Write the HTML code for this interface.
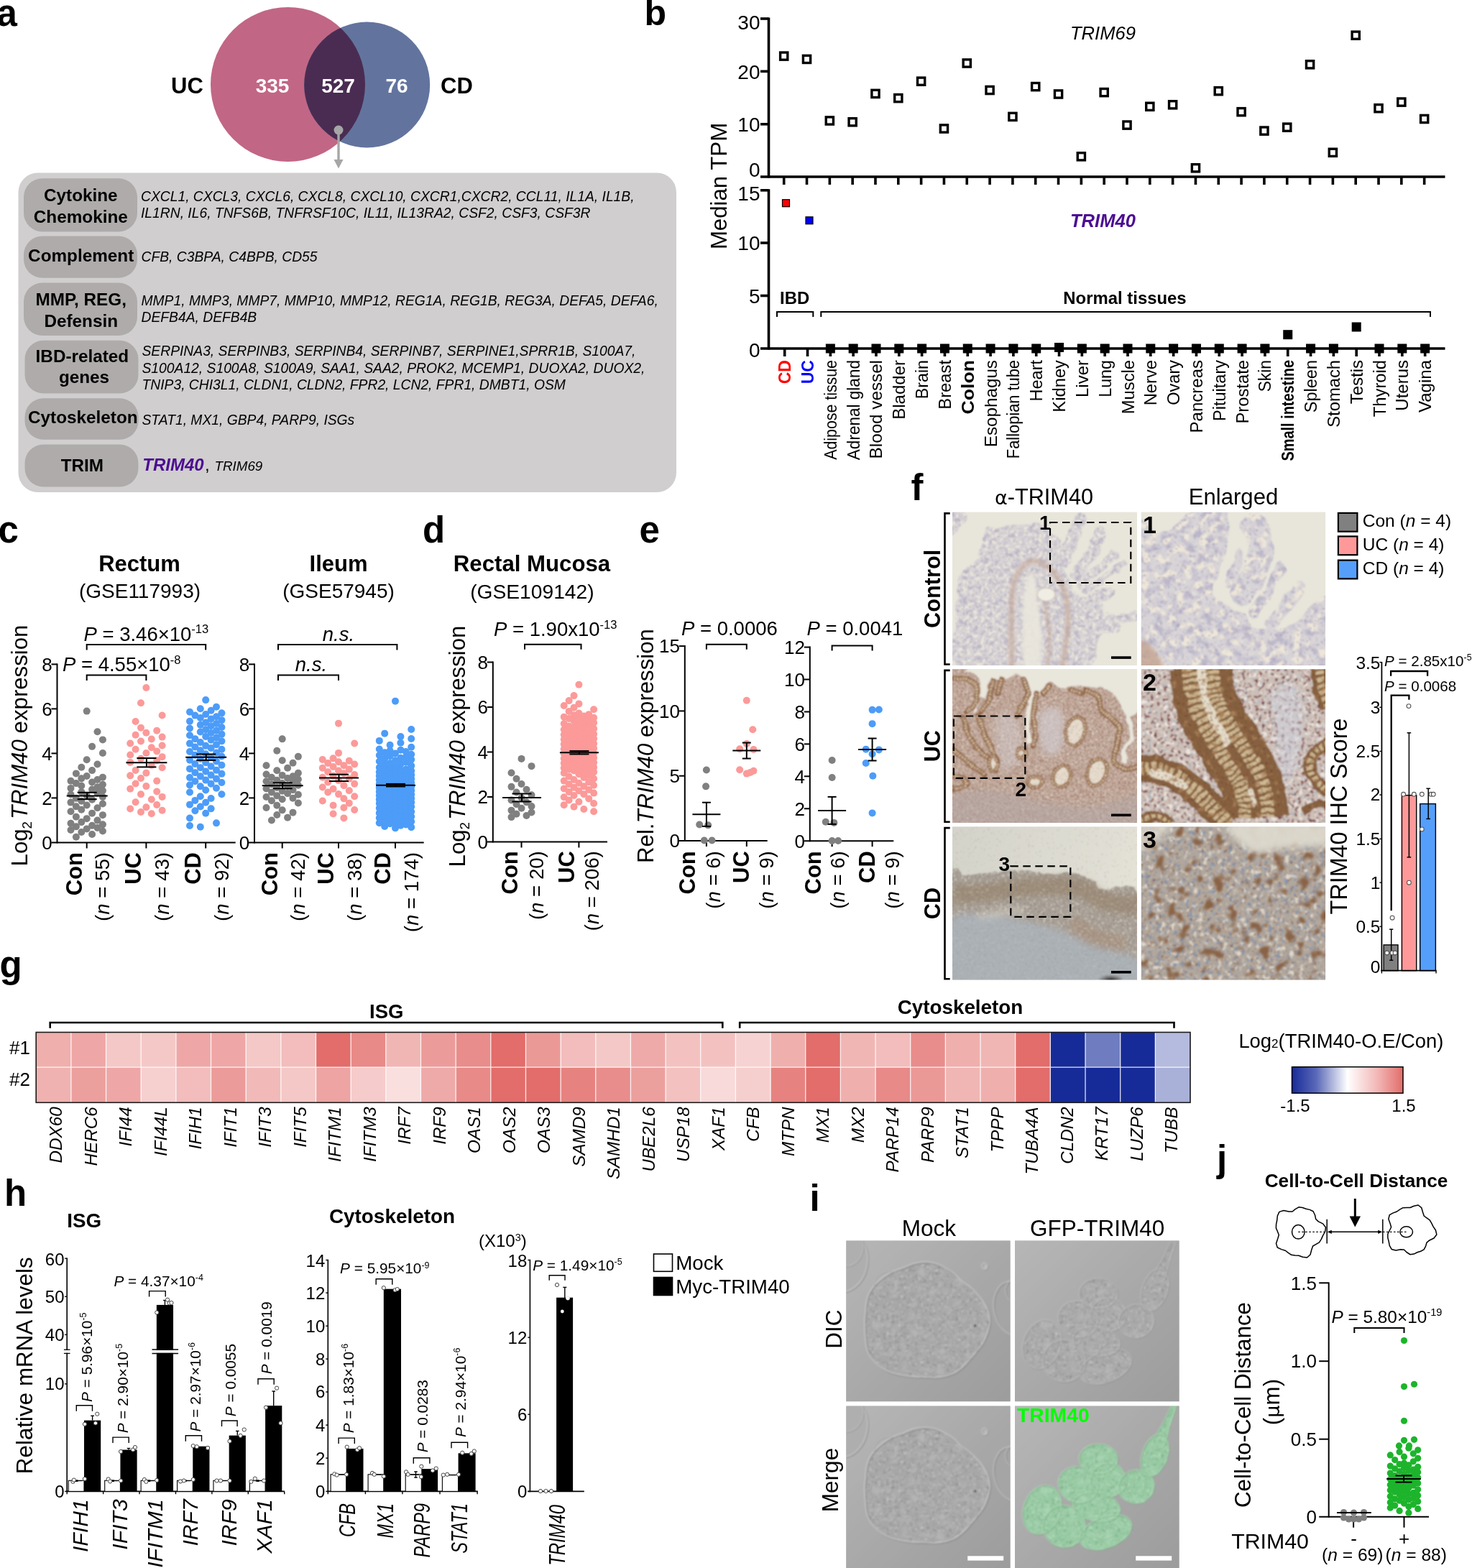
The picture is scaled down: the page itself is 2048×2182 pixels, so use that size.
<!DOCTYPE html>
<html lang="en">
<head>
<meta charset="utf-8">
<title>Figure</title>
<style>
html,body{margin:0;padding:0;background:#fff;}
body{width:2048px;height:2182px;overflow:hidden;}
svg{display:block;font-family:"Liberation Sans", Arial, Helvetica, sans-serif;fill:#000;}
svg text{white-space:pre;}
</style>
</head>
<body>
<svg width="2048" height="2182" viewBox="0 0 2048 2182">
<rect width="2048" height="2182" fill="#fff"/>
<g id="panel_a">
<text x="-4.5" y="36" font-size="51" font-weight="bold">a</text>
<circle cx="400.5" cy="117.5" r="107.5" fill="#c26685"/>
<circle cx="510.7" cy="118" r="87.5" fill="#62749e"/>
<clipPath id="vc"><circle cx="400.5" cy="117.5" r="107.5"/></clipPath>
<circle cx="510.7" cy="118" r="87.5" fill="#4a2c52" clip-path="url(#vc)"/>
<text x="238" y="130" font-size="31" font-weight="bold">UC</text>
<text x="613" y="130" font-size="31" font-weight="bold">CD</text>
<text x="379" y="128.5" font-size="28" text-anchor="middle" font-weight="bold" fill="#fff">335</text>
<text x="470.5" y="128.5" font-size="28" text-anchor="middle" font-weight="bold" fill="#fff">527</text>
<text x="552" y="128.5" font-size="28" text-anchor="middle" font-weight="bold" fill="#fff">76</text>
<circle cx="471" cy="181" r="6.5" fill="#a6a6a6" />
<line x1="471" y1="181" x2="471" y2="224" stroke="#a6a6a6" stroke-width="3.4" />
<path d="M464.5 222 L477.5 222 L471 234.5 Z" fill="#a6a6a6"/>
<rect x="25.5" y="240.5" width="915.5" height="444.5" fill="#d0cece" rx="27" />
<rect x="33" y="248.2" width="158" height="74.2" fill="#afabab" rx="26" />
<rect x="33" y="328.6" width="158" height="58.2" fill="#afabab" rx="26" />
<rect x="33" y="393.5" width="158" height="73.6" fill="#afabab" rx="26" />
<rect x="34.5" y="473.8" width="158" height="73.7" fill="#afabab" rx="26" />
<rect x="34.5" y="554.2" width="158" height="57.6" fill="#afabab" rx="26" />
<rect x="34.5" y="618.5" width="158" height="59" fill="#afabab" rx="26" />
<text x="112.3" y="280.1" font-size="24.3" text-anchor="middle" font-weight="bold">Cytokine</text>
<text x="112.3" y="309.8" font-size="24.3" text-anchor="middle" font-weight="bold">Chemokine</text>
<text x="112.7" y="364" font-size="24.3" text-anchor="middle" font-weight="bold">Complement</text>
<text x="112.7" y="424.8" font-size="24.3" text-anchor="middle" font-weight="bold">MMP, REG,</text>
<text x="112.7" y="454.5" font-size="24.3" text-anchor="middle" font-weight="bold">Defensin</text>
<text x="114.4" y="504.1" font-size="24.3" text-anchor="middle" font-weight="bold">IBD-related</text>
<text x="117" y="532.8" font-size="24.3" text-anchor="middle" font-weight="bold">genes</text>
<text x="115.3" y="589" font-size="24.3" text-anchor="middle" font-weight="bold">Cytoskeleton</text>
<text x="114.4" y="656" font-size="24.3" text-anchor="middle" font-weight="bold">TRIM</text>
<text x="196" y="280.1" font-size="19.3" font-style="italic">CXCL1, CXCL3, CXCL6, CXCL8, CXCL10, CXCR1,CXCR2, CCL11, IL1A, IL1B,</text>
<text x="196" y="302.9" font-size="19.3" font-style="italic">IL1RN, IL6, TNFS6B, TNFRSF10C, IL11, IL13RA2, CSF2, CSF3, CSF3R</text>
<text x="196.5" y="364" font-size="19.3" font-style="italic">CFB, C3BPA, C4BPB, CD55</text>
<text x="196.5" y="424.8" font-size="19.3" font-style="italic">MMP1, MMP3, MMP7, MMP10, MMP12, REG1A, REG1B, REG3A, DEFA5, DEFA6,</text>
<text x="196.5" y="447.8" font-size="19.3" font-style="italic">DEFB4A, DEFB4B</text>
<text x="197.5" y="495.3" font-size="19.3" font-style="italic">SERPINA3, SERPINB3, SERPINB4, SERPINB7, SERPINE1,SPRR1B, S100A7,</text>
<text x="197.5" y="518.9" font-size="19.3" font-style="italic">S100A12, S100A8, S100A9, SAA1, SAA2, PROK2, MCEMP1, DUOXA2, DUOX2,</text>
<text x="197.5" y="542.2" font-size="19.3" font-style="italic">TNIP3, CHI3L1, CLDN1, CLDN2, FPR2, LCN2, FPR1, DMBT1, OSM</text>
<text x="197.5" y="591.2" font-size="19.3" font-style="italic">STAT1, MX1, GBP4, PARP9, ISGs</text>
<text x="198.3" y="655.2" font-size="24" font-weight="bold" font-style="italic" fill="#4b0d92">TRIM40</text>
<text x="285" y="655.2" font-size="24">,</text>
<text x="298.5" y="655.2" font-size="18.8" font-style="italic">TRIM69</text>
</g>
<g id="panel_b">
<text x="896.5" y="35" font-size="50" font-weight="bold">b</text>
<line x1="1069.5" y1="24.5" x2="1069.5" y2="247.5" stroke="#000" stroke-width="3.6" />
<line x1="1058" y1="246" x2="2010.5" y2="246" stroke="#000" stroke-width="3.6" />
<line x1="1058" y1="26" x2="1069.5" y2="26" stroke="#000" stroke-width="3.6" />
<text x="1057.5" y="40.6" font-size="28" text-anchor="end">30</text>
<line x1="1058" y1="99.3" x2="1069.5" y2="99.3" stroke="#000" stroke-width="3.6" />
<text x="1057.5" y="109.6" font-size="28" text-anchor="end">20</text>
<line x1="1058" y1="172.8" x2="1069.5" y2="172.8" stroke="#000" stroke-width="3.6" />
<text x="1057.5" y="183.1" font-size="28" text-anchor="end">10</text>
<text x="1057.5" y="246" font-size="28" text-anchor="end">0</text>
<line x1="1090.7" y1="246" x2="1090.7" y2="257" stroke="#000" stroke-width="3.6" />
<line x1="1122.52" y1="246" x2="1122.52" y2="257" stroke="#000" stroke-width="3.6" />
<line x1="1154.34" y1="246" x2="1154.34" y2="257" stroke="#000" stroke-width="3.6" />
<line x1="1186.16" y1="246" x2="1186.16" y2="257" stroke="#000" stroke-width="3.6" />
<line x1="1217.98" y1="246" x2="1217.98" y2="257" stroke="#000" stroke-width="3.6" />
<line x1="1249.8" y1="246" x2="1249.8" y2="257" stroke="#000" stroke-width="3.6" />
<line x1="1281.62" y1="246" x2="1281.62" y2="257" stroke="#000" stroke-width="3.6" />
<line x1="1313.44" y1="246" x2="1313.44" y2="257" stroke="#000" stroke-width="3.6" />
<line x1="1345.26" y1="246" x2="1345.26" y2="257" stroke="#000" stroke-width="3.6" />
<line x1="1377.08" y1="246" x2="1377.08" y2="257" stroke="#000" stroke-width="3.6" />
<line x1="1408.9" y1="246" x2="1408.9" y2="257" stroke="#000" stroke-width="3.6" />
<line x1="1440.72" y1="246" x2="1440.72" y2="257" stroke="#000" stroke-width="3.6" />
<line x1="1472.54" y1="246" x2="1472.54" y2="257" stroke="#000" stroke-width="3.6" />
<line x1="1504.36" y1="246" x2="1504.36" y2="257" stroke="#000" stroke-width="3.6" />
<line x1="1536.18" y1="246" x2="1536.18" y2="257" stroke="#000" stroke-width="3.6" />
<line x1="1568" y1="246" x2="1568" y2="257" stroke="#000" stroke-width="3.6" />
<line x1="1599.82" y1="246" x2="1599.82" y2="257" stroke="#000" stroke-width="3.6" />
<line x1="1631.64" y1="246" x2="1631.64" y2="257" stroke="#000" stroke-width="3.6" />
<line x1="1663.46" y1="246" x2="1663.46" y2="257" stroke="#000" stroke-width="3.6" />
<line x1="1695.28" y1="246" x2="1695.28" y2="257" stroke="#000" stroke-width="3.6" />
<line x1="1727.1" y1="246" x2="1727.1" y2="257" stroke="#000" stroke-width="3.6" />
<line x1="1758.92" y1="246" x2="1758.92" y2="257" stroke="#000" stroke-width="3.6" />
<line x1="1790.74" y1="246" x2="1790.74" y2="257" stroke="#000" stroke-width="3.6" />
<line x1="1822.56" y1="246" x2="1822.56" y2="257" stroke="#000" stroke-width="3.6" />
<line x1="1854.38" y1="246" x2="1854.38" y2="257" stroke="#000" stroke-width="3.6" />
<line x1="1886.2" y1="246" x2="1886.2" y2="257" stroke="#000" stroke-width="3.6" />
<line x1="1918.02" y1="246" x2="1918.02" y2="257" stroke="#000" stroke-width="3.6" />
<line x1="1949.84" y1="246" x2="1949.84" y2="257" stroke="#000" stroke-width="3.6" />
<line x1="1981.66" y1="246" x2="1981.66" y2="257" stroke="#000" stroke-width="3.6" />
<rect x="1085.6" y="73" width="10.2" height="10.2" fill="#fff" stroke="#000" stroke-width="3.4" />
<rect x="1117.42" y="77.3" width="10.2" height="10.2" fill="#fff" stroke="#000" stroke-width="3.4" />
<rect x="1149.24" y="162.9" width="10.2" height="10.2" fill="#fff" stroke="#000" stroke-width="3.4" />
<rect x="1181.06" y="164.7" width="10.2" height="10.2" fill="#fff" stroke="#000" stroke-width="3.4" />
<rect x="1212.88" y="125.3" width="10.2" height="10.2" fill="#fff" stroke="#000" stroke-width="3.4" />
<rect x="1244.7" y="131.5" width="10.2" height="10.2" fill="#fff" stroke="#000" stroke-width="3.4" />
<rect x="1276.52" y="108.1" width="10.2" height="10.2" fill="#fff" stroke="#000" stroke-width="3.4" />
<rect x="1308.34" y="173.9" width="10.2" height="10.2" fill="#fff" stroke="#000" stroke-width="3.4" />
<rect x="1340.16" y="82.9" width="10.2" height="10.2" fill="#fff" stroke="#000" stroke-width="3.4" />
<rect x="1371.98" y="120.4" width="10.2" height="10.2" fill="#fff" stroke="#000" stroke-width="3.4" />
<rect x="1403.8" y="157.3" width="10.2" height="10.2" fill="#fff" stroke="#000" stroke-width="3.4" />
<rect x="1435.62" y="115.5" width="10.2" height="10.2" fill="#fff" stroke="#000" stroke-width="3.4" />
<rect x="1467.44" y="125.9" width="10.2" height="10.2" fill="#fff" stroke="#000" stroke-width="3.4" />
<rect x="1499.26" y="212.7" width="10.2" height="10.2" fill="#fff" stroke="#000" stroke-width="3.4" />
<rect x="1531.08" y="123.5" width="10.2" height="10.2" fill="#fff" stroke="#000" stroke-width="3.4" />
<rect x="1562.9" y="169" width="10.2" height="10.2" fill="#fff" stroke="#000" stroke-width="3.4" />
<rect x="1594.72" y="143.2" width="10.2" height="10.2" fill="#fff" stroke="#000" stroke-width="3.4" />
<rect x="1626.54" y="140.7" width="10.2" height="10.2" fill="#fff" stroke="#000" stroke-width="3.4" />
<rect x="1658.36" y="228.7" width="10.2" height="10.2" fill="#fff" stroke="#000" stroke-width="3.4" />
<rect x="1690.18" y="121.6" width="10.2" height="10.2" fill="#fff" stroke="#000" stroke-width="3.4" />
<rect x="1722" y="150.6" width="10.2" height="10.2" fill="#fff" stroke="#000" stroke-width="3.4" />
<rect x="1753.82" y="177" width="10.2" height="10.2" fill="#fff" stroke="#000" stroke-width="3.4" />
<rect x="1785.64" y="172.1" width="10.2" height="10.2" fill="#fff" stroke="#000" stroke-width="3.4" />
<rect x="1817.46" y="84.7" width="10.2" height="10.2" fill="#fff" stroke="#000" stroke-width="3.4" />
<rect x="1849.28" y="207.2" width="10.2" height="10.2" fill="#fff" stroke="#000" stroke-width="3.4" />
<rect x="1881.1" y="44.1" width="10.2" height="10.2" fill="#fff" stroke="#000" stroke-width="3.4" />
<rect x="1912.92" y="145.6" width="10.2" height="10.2" fill="#fff" stroke="#000" stroke-width="3.4" />
<rect x="1944.74" y="137" width="10.2" height="10.2" fill="#fff" stroke="#000" stroke-width="3.4" />
<rect x="1976.56" y="160.4" width="10.2" height="10.2" fill="#fff" stroke="#000" stroke-width="3.4" />
<text x="1534.5" y="54.8" font-size="25.6" text-anchor="middle" font-style="italic">TRIM69</text>
<line x1="1069.5" y1="263.3" x2="1069.5" y2="486.5" stroke="#000" stroke-width="3.6" />
<line x1="1058" y1="485" x2="2010.5" y2="485" stroke="#000" stroke-width="3.6" />
<line x1="1058" y1="264.8" x2="1069.5" y2="264.8" stroke="#000" stroke-width="3.6" />
<text x="1057.5" y="279.4" font-size="28" text-anchor="end">15</text>
<line x1="1058" y1="338" x2="1069.5" y2="338" stroke="#000" stroke-width="3.6" />
<text x="1057.5" y="348.3" font-size="28" text-anchor="end">10</text>
<line x1="1058" y1="411.5" x2="1069.5" y2="411.5" stroke="#000" stroke-width="3.6" />
<text x="1057.5" y="421.8" font-size="28" text-anchor="end">5</text>
<text x="1057.5" y="496.5" font-size="28" text-anchor="end">0</text>
<line x1="1091.7" y1="485" x2="1091.7" y2="496" stroke="#000" stroke-width="3.6" />
<line x1="1123.52" y1="485" x2="1123.52" y2="496" stroke="#000" stroke-width="3.6" />
<line x1="1155.34" y1="485" x2="1155.34" y2="496" stroke="#000" stroke-width="3.6" />
<line x1="1187.16" y1="485" x2="1187.16" y2="496" stroke="#000" stroke-width="3.6" />
<line x1="1218.98" y1="485" x2="1218.98" y2="496" stroke="#000" stroke-width="3.6" />
<line x1="1250.8" y1="485" x2="1250.8" y2="496" stroke="#000" stroke-width="3.6" />
<line x1="1282.62" y1="485" x2="1282.62" y2="496" stroke="#000" stroke-width="3.6" />
<line x1="1314.44" y1="485" x2="1314.44" y2="496" stroke="#000" stroke-width="3.6" />
<line x1="1346.26" y1="485" x2="1346.26" y2="496" stroke="#000" stroke-width="3.6" />
<line x1="1378.08" y1="485" x2="1378.08" y2="496" stroke="#000" stroke-width="3.6" />
<line x1="1409.9" y1="485" x2="1409.9" y2="496" stroke="#000" stroke-width="3.6" />
<line x1="1441.72" y1="485" x2="1441.72" y2="496" stroke="#000" stroke-width="3.6" />
<line x1="1473.54" y1="485" x2="1473.54" y2="496" stroke="#000" stroke-width="3.6" />
<line x1="1505.36" y1="485" x2="1505.36" y2="496" stroke="#000" stroke-width="3.6" />
<line x1="1537.18" y1="485" x2="1537.18" y2="496" stroke="#000" stroke-width="3.6" />
<line x1="1569" y1="485" x2="1569" y2="496" stroke="#000" stroke-width="3.6" />
<line x1="1600.82" y1="485" x2="1600.82" y2="496" stroke="#000" stroke-width="3.6" />
<line x1="1632.64" y1="485" x2="1632.64" y2="496" stroke="#000" stroke-width="3.6" />
<line x1="1664.46" y1="485" x2="1664.46" y2="496" stroke="#000" stroke-width="3.6" />
<line x1="1696.28" y1="485" x2="1696.28" y2="496" stroke="#000" stroke-width="3.6" />
<line x1="1728.1" y1="485" x2="1728.1" y2="496" stroke="#000" stroke-width="3.6" />
<line x1="1759.92" y1="485" x2="1759.92" y2="496" stroke="#000" stroke-width="3.6" />
<line x1="1791.74" y1="485" x2="1791.74" y2="496" stroke="#000" stroke-width="3.6" />
<line x1="1823.56" y1="485" x2="1823.56" y2="496" stroke="#000" stroke-width="3.6" />
<line x1="1855.38" y1="485" x2="1855.38" y2="496" stroke="#000" stroke-width="3.6" />
<line x1="1887.2" y1="485" x2="1887.2" y2="496" stroke="#000" stroke-width="3.6" />
<line x1="1919.02" y1="485" x2="1919.02" y2="496" stroke="#000" stroke-width="3.6" />
<line x1="1950.84" y1="485" x2="1950.84" y2="496" stroke="#000" stroke-width="3.6" />
<line x1="1982.66" y1="485" x2="1982.66" y2="496" stroke="#000" stroke-width="3.6" />
<rect x="1088.5" y="277.7" width="10" height="10" fill="#ff0000" stroke="#000" stroke-width="1.2" />
<rect x="1121" y="301.8" width="10" height="10" fill="#0000ff" stroke="#000" stroke-width="1.2" />
<rect x="1148.84" y="478.5" width="13" height="13" fill="#000" />
<rect x="1180.66" y="478.5" width="13" height="13" fill="#000" />
<rect x="1212.48" y="478.5" width="13" height="13" fill="#000" />
<rect x="1244.3" y="478.5" width="13" height="13" fill="#000" />
<rect x="1276.12" y="478.5" width="13" height="13" fill="#000" />
<rect x="1307.94" y="478.5" width="13" height="13" fill="#000" />
<rect x="1339.76" y="478.5" width="13" height="13" fill="#000" />
<rect x="1371.58" y="478.5" width="13" height="13" fill="#000" />
<rect x="1403.4" y="478.5" width="13" height="13" fill="#000" />
<rect x="1435.22" y="478.5" width="13" height="13" fill="#000" />
<rect x="1467.04" y="477" width="13" height="13" fill="#000" />
<rect x="1498.86" y="478.5" width="13" height="13" fill="#000" />
<rect x="1530.68" y="478.5" width="13" height="13" fill="#000" />
<rect x="1562.5" y="478.5" width="13" height="13" fill="#000" />
<rect x="1594.32" y="478.5" width="13" height="13" fill="#000" />
<rect x="1626.14" y="478.5" width="13" height="13" fill="#000" />
<rect x="1657.96" y="478.5" width="13" height="13" fill="#000" />
<rect x="1689.78" y="478.5" width="13" height="13" fill="#000" />
<rect x="1721.6" y="478.5" width="13" height="13" fill="#000" />
<rect x="1753.42" y="478.5" width="13" height="13" fill="#000" />
<rect x="1785.24" y="459.2" width="13" height="13" fill="#000" />
<rect x="1817.06" y="478.5" width="13" height="13" fill="#000" />
<rect x="1848.88" y="478.5" width="13" height="13" fill="#000" />
<rect x="1880.7" y="448.5" width="13" height="13" fill="#000" />
<rect x="1912.52" y="478.5" width="13" height="13" fill="#000" />
<rect x="1944.34" y="478.5" width="13" height="13" fill="#000" />
<rect x="1976.16" y="478.5" width="13" height="13" fill="#000" />
<text x="1534.5" y="315.7" font-size="25.6" text-anchor="middle" font-weight="bold" font-style="italic" fill="#4b0d92">TRIM40</text>
<text x="1085" y="423" font-size="23.9" font-weight="bold">IBD</text>
<text x="1565" y="423" font-size="23.9" text-anchor="middle" font-weight="bold">Normal tissues</text>
<path d="M1081 441 V434 H1131.3 V441" stroke="#000" stroke-width="2" fill="none" />
<path d="M1142.3 441 V434 H1990 V441" stroke="#000" stroke-width="2" fill="none" />
<text transform="translate(1011 259) rotate(-90)" font-size="31.2" text-anchor="middle">Median TPM</text>
<text transform="translate(1100.2 501) rotate(-90) scale(0.96 1)" font-size="24" text-anchor="end" font-weight="bold" fill="#ff0000">CD</text>
<text transform="translate(1132.02 501) rotate(-90) scale(0.96 1)" font-size="24" text-anchor="end" font-weight="bold" fill="#0000ff">UC</text>
<text transform="translate(1163.84 501) rotate(-90) scale(0.89 1)" font-size="24" text-anchor="end">Adipose tissue</text>
<text transform="translate(1195.66 501) rotate(-90) scale(0.94 1)" font-size="24" text-anchor="end">Adrenal gland</text>
<text transform="translate(1227.48 501) rotate(-90) scale(1.01 1)" font-size="24" text-anchor="end">Blood vessel</text>
<text transform="translate(1259.3 501) rotate(-90) scale(1 1)" font-size="24" text-anchor="end">Bladder</text>
<text transform="translate(1291.12 501) rotate(-90) scale(0.97 1)" font-size="24" text-anchor="end">Brain</text>
<text transform="translate(1322.94 501) rotate(-90) scale(0.99 1)" font-size="24" text-anchor="end">Breast</text>
<text transform="translate(1354.76 501) rotate(-90) scale(1.11 1)" font-size="24" text-anchor="end" font-weight="bold">Colon</text>
<text transform="translate(1386.58 501) rotate(-90) scale(1.01 1)" font-size="24" text-anchor="end">Esophagus</text>
<text transform="translate(1418.4 501) rotate(-90) scale(0.91 1)" font-size="24" text-anchor="end">Fallopian tube</text>
<text transform="translate(1450.22 501) rotate(-90) scale(0.98 1)" font-size="24" text-anchor="end">Heart</text>
<text transform="translate(1482.04 501) rotate(-90) scale(0.99 1)" font-size="24" text-anchor="end">Kidney</text>
<text transform="translate(1513.86 501) rotate(-90) scale(1 1)" font-size="24" text-anchor="end">Liver</text>
<text transform="translate(1545.68 501) rotate(-90) scale(0.97 1)" font-size="24" text-anchor="end">Lung</text>
<text transform="translate(1577.5 501) rotate(-90) scale(0.99 1)" font-size="24" text-anchor="end">Muscle</text>
<text transform="translate(1609.32 501) rotate(-90) scale(0.99 1)" font-size="24" text-anchor="end">Nerve</text>
<text transform="translate(1641.14 501) rotate(-90) scale(0.98 1)" font-size="24" text-anchor="end">Ovary</text>
<text transform="translate(1672.96 501) rotate(-90) scale(1 1)" font-size="24" text-anchor="end">Pancreas</text>
<text transform="translate(1704.78 501) rotate(-90) scale(0.98 1)" font-size="24" text-anchor="end">Pituitary</text>
<text transform="translate(1736.6 501) rotate(-90) scale(0.99 1)" font-size="24" text-anchor="end">Prostate</text>
<text transform="translate(1768.42 501) rotate(-90) scale(0.95 1)" font-size="24" text-anchor="end">Skin</text>
<text transform="translate(1800.24 501) rotate(-90) scale(0.83 1)" font-size="24" text-anchor="end" font-weight="bold">Small intestine</text>
<text transform="translate(1832.06 501) rotate(-90) scale(0.98 1)" font-size="24" text-anchor="end">Spleen</text>
<text transform="translate(1863.88 501) rotate(-90) scale(0.99 1)" font-size="24" text-anchor="end">Stomach</text>
<text transform="translate(1895.7 501) rotate(-90) scale(1 1)" font-size="24" text-anchor="end">Testis</text>
<text transform="translate(1927.52 501) rotate(-90) scale(0.99 1)" font-size="24" text-anchor="end">Thyroid</text>
<text transform="translate(1959.34 501) rotate(-90) scale(1 1)" font-size="24" text-anchor="end">Uterus</text>
<text transform="translate(1991.16 501) rotate(-90) scale(1 1)" font-size="24" text-anchor="end">Vagina</text>
</g>
<g id="panel_c">
<text x="-2.5" y="754.5" font-size="51" font-weight="bold">c</text>
<text x="194" y="795" font-size="31" text-anchor="middle" font-weight="bold">Rectum</text>
<text x="194.5" y="832" font-size="28" text-anchor="middle">(GSE117993)</text>
<text x="471" y="795" font-size="31" text-anchor="middle" font-weight="bold">Ileum</text>
<text x="471" y="832" font-size="28" text-anchor="middle">(GSE57945)</text>
<text transform="translate(37.5 1037.5) rotate(-90)" font-size="31.2" text-anchor="middle">Log<tspan font-size="18.72" dy="6.24">2</tspan><tspan dy="-6.24" font-size="31.2">&#8203;</tspan><tspan font-style="italic" dx="3">TRIM40</tspan> expression</text>
<line x1="79.5" y1="923.4" x2="79.5" y2="1173.5" stroke="#000" stroke-width="2" /><line x1="71.5" y1="924.4" x2="79.5" y2="924.4" stroke="#000" stroke-width="2" /><text x="72.7" y="933.76" font-size="26" text-anchor="end">8</text><line x1="71.5" y1="986.4" x2="79.5" y2="986.4" stroke="#000" stroke-width="2" /><text x="72.7" y="995.76" font-size="26" text-anchor="end">6</text><line x1="71.5" y1="1048.4" x2="79.5" y2="1048.4" stroke="#000" stroke-width="2" /><text x="72.7" y="1057.76" font-size="26" text-anchor="end">4</text><line x1="71.5" y1="1110.4" x2="79.5" y2="1110.4" stroke="#000" stroke-width="2" /><text x="72.7" y="1119.76" font-size="26" text-anchor="end">2</text><text x="72.7" y="1181.86" font-size="26" text-anchor="end">0</text><line x1="71.5" y1="1172.5" x2="327.7" y2="1172.5" stroke="#000" stroke-width="2" />
<line x1="120.7" y1="1172.5" x2="120.7" y2="1180.5" stroke="#000" stroke-width="2" />
<line x1="203.4" y1="1172.5" x2="203.4" y2="1180.5" stroke="#000" stroke-width="2" />
<line x1="286.2" y1="1172.5" x2="286.2" y2="1180.5" stroke="#000" stroke-width="2" />
<g fill="#808080"><circle cx="105.9" cy="1164.75" r="5"/><circle cx="128.1" cy="1160.92" r="5"/><circle cx="113.3" cy="1157.97" r="5"/><circle cx="142.9" cy="1156.45" r="5"/><circle cx="98.5" cy="1154.93" r="5"/><circle cx="120.7" cy="1153.41" r="5"/><circle cx="135.5" cy="1151.89" r="5"/><circle cx="105.9" cy="1150.37" r="5"/><circle cx="128.1" cy="1148.85" r="5"/><circle cx="142.9" cy="1147.34" r="5"/><circle cx="98.5" cy="1145.82" r="5"/><circle cx="113.3" cy="1144.1" r="5"/><circle cx="135.5" cy="1141.61" r="5"/><circle cx="120.7" cy="1139.13" r="5"/><circle cx="105.9" cy="1136.64" r="5"/><circle cx="142.9" cy="1134.15" r="5"/><circle cx="128.1" cy="1131.66" r="5"/><circle cx="98.5" cy="1129.18" r="5"/><circle cx="113.3" cy="1126.69" r="5"/><circle cx="135.5" cy="1124.26" r="5"/><circle cx="105.9" cy="1122.35" r="5"/><circle cx="120.7" cy="1120.43" r="5"/><circle cx="142.9" cy="1118.52" r="5"/><circle cx="98.5" cy="1116.6" r="5"/><circle cx="113.3" cy="1114.69" r="5"/><circle cx="128.1" cy="1112.78" r="5"/><circle cx="105.9" cy="1110.86" r="5"/><circle cx="142.9" cy="1108.95" r="5"/><circle cx="120.7" cy="1107.23" r="5"/><circle cx="98.5" cy="1105.51" r="5"/><circle cx="135.5" cy="1103.78" r="5"/><circle cx="113.3" cy="1102.06" r="5"/><circle cx="142.9" cy="1100.34" r="5"/><circle cx="128.1" cy="1098.62" r="5"/><circle cx="98.5" cy="1096.89" r="5"/><circle cx="135.5" cy="1095.17" r="5"/><circle cx="113.3" cy="1093.48" r="5"/><circle cx="142.9" cy="1091.79" r="5"/><circle cx="105.9" cy="1090.1" r="5"/><circle cx="128.1" cy="1088.42" r="5"/><circle cx="98.5" cy="1086.73" r="5"/><circle cx="135.5" cy="1085.04" r="5"/><circle cx="113.3" cy="1083.35" r="5"/><circle cx="142.9" cy="1081.66" r="5"/><circle cx="120.7" cy="1079.97" r="5"/><circle cx="105.9" cy="1076.4" r="5"/><circle cx="128.1" cy="1072.09" r="5"/><circle cx="113.3" cy="1067.79" r="5"/><circle cx="135.5" cy="1063.48" r="5"/><circle cx="120.7" cy="1057.23" r="5"/><circle cx="142.9" cy="1048.04" r="5"/><circle cx="128.1" cy="1038.86" r="5"/><circle cx="142.9" cy="1029.4" r="5"/><circle cx="135.5" cy="1018.3" r="5"/><circle cx="120.7" cy="989.6" r="5"/></g>
<g fill="#fb9a99"><circle cx="210.8" cy="1132.2" r="5"/><circle cx="196" cy="1129.99" r="5"/><circle cx="225.6" cy="1127.77" r="5"/><circle cx="181.2" cy="1125.56" r="5"/><circle cx="203.4" cy="1123.34" r="5"/><circle cx="218.2" cy="1119.95" r="5"/><circle cx="188.6" cy="1116.26" r="5"/><circle cx="210.8" cy="1112.57" r="5"/><circle cx="225.6" cy="1108.88" r="5"/><circle cx="196" cy="1105.19" r="5"/><circle cx="218.2" cy="1101.5" r="5"/><circle cx="181.2" cy="1097.8" r="5"/><circle cx="203.4" cy="1094.11" r="5"/><circle cx="188.6" cy="1090.42" r="5"/><circle cx="218.2" cy="1086.73" r="5"/><circle cx="196" cy="1083.04" r="5"/><circle cx="181.2" cy="1079.35" r="5"/><circle cx="203.4" cy="1075.66" r="5"/><circle cx="188.6" cy="1071.97" r="5"/><circle cx="225.6" cy="1068.28" r="5"/><circle cx="210.8" cy="1064.59" r="5"/><circle cx="181.2" cy="1060.9" r="5"/><circle cx="218.2" cy="1058.32" r="5"/><circle cx="196" cy="1055.73" r="5"/><circle cx="225.6" cy="1053.15" r="5"/><circle cx="181.2" cy="1050.57" r="5"/><circle cx="203.4" cy="1047.98" r="5"/><circle cx="218.2" cy="1045.4" r="5"/><circle cx="188.6" cy="1042.82" r="5"/><circle cx="210.8" cy="1040.23" r="5"/><circle cx="225.6" cy="1037.43" r="5"/><circle cx="181.2" cy="1034.48" r="5"/><circle cx="196" cy="1031.52" r="5"/><circle cx="210.8" cy="1028.57" r="5"/><circle cx="225.6" cy="1025.62" r="5"/><circle cx="188.6" cy="1022.67" r="5"/><circle cx="203.4" cy="1019.71" r="5"/><circle cx="218.2" cy="1016.76" r="5"/><circle cx="196" cy="1012.68" r="5"/><circle cx="188.6" cy="1004.07" r="5"/><circle cx="225.6" cy="995.46" r="5"/><circle cx="196" cy="978.27" r="5"/><circle cx="203.4" cy="957.05" r="5"/></g>
<g fill="#4c9cf8"><circle cx="278.8" cy="1150.8" r="5"/><circle cx="264" cy="1148.93" r="5"/><circle cx="301" cy="1145.37" r="5"/><circle cx="264" cy="1138.52" r="5"/><circle cx="286.2" cy="1131.68" r="5"/><circle cx="271.4" cy="1128.22" r="5"/><circle cx="293.6" cy="1125.35" r="5"/><circle cx="278.8" cy="1122.49" r="5"/><circle cx="264" cy="1119.63" r="5"/><circle cx="286.2" cy="1116.76" r="5"/><circle cx="271.4" cy="1113.9" r="5"/><circle cx="293.6" cy="1111.04" r="5"/><circle cx="278.8" cy="1108.17" r="5"/><circle cx="308.4" cy="1105.31" r="5"/><circle cx="264" cy="1102.44" r="5"/><circle cx="286.2" cy="1099.58" r="5"/><circle cx="301" cy="1096.72" r="5"/><circle cx="278.8" cy="1094.3" r="5"/><circle cx="264" cy="1092.56" r="5"/><circle cx="293.6" cy="1090.82" r="5"/><circle cx="308.4" cy="1089.07" r="5"/><circle cx="271.4" cy="1087.33" r="5"/><circle cx="286.2" cy="1085.59" r="5"/><circle cx="301" cy="1083.84" r="5"/><circle cx="264" cy="1082.1" r="5"/><circle cx="278.8" cy="1080.36" r="5"/><circle cx="293.6" cy="1078.62" r="5"/><circle cx="308.4" cy="1076.87" r="5"/><circle cx="271.4" cy="1075.13" r="5"/><circle cx="286.2" cy="1073.39" r="5"/><circle cx="301" cy="1071.64" r="5"/><circle cx="264" cy="1069.9" r="5"/><circle cx="278.8" cy="1068.16" r="5"/><circle cx="293.6" cy="1066.42" r="5"/><circle cx="308.4" cy="1064.67" r="5"/><circle cx="271.4" cy="1062.93" r="5"/><circle cx="286.2" cy="1061.19" r="5"/><circle cx="301" cy="1059.44" r="5"/><circle cx="264" cy="1057.7" r="5"/><circle cx="278.8" cy="1055.96" r="5"/><circle cx="293.6" cy="1054.21" r="5"/><circle cx="308.4" cy="1052.47" r="5"/><circle cx="271.4" cy="1050.79" r="5"/><circle cx="286.2" cy="1049.17" r="5"/><circle cx="301" cy="1047.55" r="5"/><circle cx="264" cy="1045.94" r="5"/><circle cx="278.8" cy="1044.32" r="5"/><circle cx="308.4" cy="1042.7" r="5"/><circle cx="293.6" cy="1041.08" r="5"/><circle cx="271.4" cy="1039.46" r="5"/><circle cx="286.2" cy="1037.84" r="5"/><circle cx="301" cy="1036.22" r="5"/><circle cx="264" cy="1034.61" r="5"/><circle cx="278.8" cy="1032.99" r="5"/><circle cx="308.4" cy="1031.37" r="5"/><circle cx="293.6" cy="1029.75" r="5"/><circle cx="271.4" cy="1028.13" r="5"/><circle cx="301" cy="1026.51" r="5"/><circle cx="286.2" cy="1024.9" r="5"/><circle cx="264" cy="1023.28" r="5"/><circle cx="308.4" cy="1021.66" r="5"/><circle cx="293.6" cy="1020.04" r="5"/><circle cx="278.8" cy="1018.42" r="5"/><circle cx="301" cy="1016.8" r="5"/><circle cx="286.2" cy="1015.18" r="5"/><circle cx="264" cy="1013.57" r="5"/><circle cx="308.4" cy="1011.95" r="5"/><circle cx="293.6" cy="1010.32" r="5"/><circle cx="278.8" cy="1008.69" r="5"/><circle cx="301" cy="1007.05" r="5"/><circle cx="286.2" cy="1005.42" r="5"/><circle cx="264" cy="1003.78" r="5"/><circle cx="308.4" cy="1002.15" r="5"/><circle cx="293.6" cy="1000.52" r="5"/><circle cx="278.8" cy="998.88" r="5"/><circle cx="301" cy="997.25" r="5"/><circle cx="271.4" cy="995.61" r="5"/><circle cx="286.2" cy="993.98" r="5"/><circle cx="308.4" cy="992.35" r="5"/><circle cx="264" cy="990.71" r="5"/><circle cx="293.6" cy="988.8" r="5"/><circle cx="278.8" cy="986.31" r="5"/><circle cx="301" cy="983.82" r="5"/><circle cx="286.2" cy="974.1" r="5"/></g>
<line x1="92.7" y1="1107.5" x2="149.7" y2="1107.5" stroke="#000" stroke-width="2" /><line x1="121.2" y1="1102.8" x2="121.2" y2="1112.2" stroke="#000" stroke-width="2" /><line x1="107.7" y1="1102.8" x2="134.7" y2="1102.8" stroke="#000" stroke-width="2" /><line x1="107.7" y1="1112.2" x2="134.7" y2="1112.2" stroke="#000" stroke-width="2" />
<line x1="175.4" y1="1061.2" x2="232.4" y2="1061.2" stroke="#000" stroke-width="2" /><line x1="203.9" y1="1055" x2="203.9" y2="1067.4" stroke="#000" stroke-width="2" /><line x1="190.4" y1="1055" x2="217.4" y2="1055" stroke="#000" stroke-width="2" /><line x1="190.4" y1="1067.4" x2="217.4" y2="1067.4" stroke="#000" stroke-width="2" />
<line x1="258.2" y1="1053.7" x2="315.2" y2="1053.7" stroke="#000" stroke-width="2" /><line x1="286.7" y1="1049.5" x2="286.7" y2="1057.9" stroke="#000" stroke-width="2" /><line x1="273.2" y1="1049.5" x2="300.2" y2="1049.5" stroke="#000" stroke-width="2" /><line x1="273.2" y1="1057.9" x2="300.2" y2="1057.9" stroke="#000" stroke-width="2" />
<path d="M120.7 904.5 V897 H286.2 V904.5" stroke="#000" stroke-width="2" fill="none" />
<path d="M120.7 947 V939.5 H203.4 V947" stroke="#000" stroke-width="2" fill="none" />
<text x="116.5" y="891.5" font-size="27.5"><tspan font-style="italic">P</tspan> = 3.46×10<tspan font-size="16.5" dy="-10.45">-13</tspan></text>
<text x="87" y="934.3" font-size="27.5"><tspan font-style="italic">P</tspan> = 4.55×10<tspan font-size="16.5" dy="-10.45">-8</tspan></text>
<text transform="translate(113.7 1186) rotate(-90)" font-size="31" text-anchor="end" font-weight="bold">Con</text><text transform="translate(152.2 1186) rotate(-90)" font-size="27.6" text-anchor="end">(<tspan font-style="italic">n</tspan> = 55)</text>
<text transform="translate(196.4 1186) rotate(-90)" font-size="31" text-anchor="end" font-weight="bold">UC</text><text transform="translate(234.9 1186) rotate(-90)" font-size="27.6" text-anchor="end">(<tspan font-style="italic">n</tspan> = 43)</text>
<text transform="translate(279.2 1186) rotate(-90)" font-size="31" text-anchor="end" font-weight="bold">CD</text><text transform="translate(317.7 1186) rotate(-90)" font-size="27.6" text-anchor="end">(<tspan font-style="italic">n</tspan> = 92)</text>
<line x1="354" y1="923.4" x2="354" y2="1173.5" stroke="#000" stroke-width="2" /><line x1="346" y1="924.4" x2="354" y2="924.4" stroke="#000" stroke-width="2" /><text x="347.2" y="933.76" font-size="26" text-anchor="end">8</text><line x1="346" y1="986.4" x2="354" y2="986.4" stroke="#000" stroke-width="2" /><text x="347.2" y="995.76" font-size="26" text-anchor="end">6</text><line x1="346" y1="1048.4" x2="354" y2="1048.4" stroke="#000" stroke-width="2" /><text x="347.2" y="1057.76" font-size="26" text-anchor="end">4</text><line x1="346" y1="1110.4" x2="354" y2="1110.4" stroke="#000" stroke-width="2" /><text x="347.2" y="1119.76" font-size="26" text-anchor="end">2</text><text x="347.2" y="1181.86" font-size="26" text-anchor="end">0</text><line x1="346" y1="1172.5" x2="589.7" y2="1172.5" stroke="#000" stroke-width="2" />
<line x1="392.7" y1="1172.5" x2="392.7" y2="1180.5" stroke="#000" stroke-width="2" />
<line x1="471" y1="1172.5" x2="471" y2="1180.5" stroke="#000" stroke-width="2" />
<line x1="550" y1="1172.5" x2="550" y2="1180.5" stroke="#000" stroke-width="2" />
<g fill="#808080"><circle cx="377.9" cy="1141.5" r="5"/><circle cx="400.1" cy="1137.72" r="5"/><circle cx="385.3" cy="1133.94" r="5"/><circle cx="407.5" cy="1130.64" r="5"/><circle cx="392.7" cy="1127.36" r="5"/><circle cx="370.5" cy="1124.08" r="5"/><circle cx="385.3" cy="1120.81" r="5"/><circle cx="414.9" cy="1117.53" r="5"/><circle cx="377.9" cy="1114.26" r="5"/><circle cx="392.7" cy="1112.29" r="5"/><circle cx="407.5" cy="1110.65" r="5"/><circle cx="370.5" cy="1109.01" r="5"/><circle cx="385.3" cy="1107.37" r="5"/><circle cx="414.9" cy="1105.74" r="5"/><circle cx="400.1" cy="1104.1" r="5"/><circle cx="377.9" cy="1102.46" r="5"/><circle cx="392.7" cy="1100.82" r="5"/><circle cx="407.5" cy="1099.18" r="5"/><circle cx="370.5" cy="1097.55" r="5"/><circle cx="385.3" cy="1095.91" r="5"/><circle cx="400.1" cy="1094.27" r="5"/><circle cx="414.9" cy="1092.76" r="5"/><circle cx="377.9" cy="1091.37" r="5"/><circle cx="392.7" cy="1089.98" r="5"/><circle cx="407.5" cy="1088.6" r="5"/><circle cx="370.5" cy="1087.21" r="5"/><circle cx="385.3" cy="1085.83" r="5"/><circle cx="414.9" cy="1084.44" r="5"/><circle cx="400.1" cy="1083.05" r="5"/><circle cx="377.9" cy="1081.67" r="5"/><circle cx="407.5" cy="1080.28" r="5"/><circle cx="392.7" cy="1078.9" r="5"/><circle cx="370.5" cy="1077.51" r="5"/><circle cx="414.9" cy="1075.7" r="5"/><circle cx="385.3" cy="1072.21" r="5"/><circle cx="400.1" cy="1068.72" r="5"/><circle cx="370.5" cy="1065.23" r="5"/><circle cx="407.5" cy="1061.74" r="5"/><circle cx="392.7" cy="1058.25" r="5"/><circle cx="414.9" cy="1052.87" r="5"/><circle cx="385.3" cy="1044.73" r="5"/><circle cx="392.7" cy="1028.35" r="5"/></g>
<g fill="#fb9a99"><circle cx="478.4" cy="1138.4" r="5"/><circle cx="463.6" cy="1132.54" r="5"/><circle cx="493.2" cy="1127.08" r="5"/><circle cx="478.4" cy="1123.94" r="5"/><circle cx="463.6" cy="1120.79" r="5"/><circle cx="485.8" cy="1117.65" r="5"/><circle cx="448.8" cy="1114.51" r="5"/><circle cx="478.4" cy="1111.37" r="5"/><circle cx="493.2" cy="1108.23" r="5"/><circle cx="471" cy="1105.09" r="5"/><circle cx="456.2" cy="1102.54" r="5"/><circle cx="485.8" cy="1100.19" r="5"/><circle cx="463.6" cy="1097.85" r="5"/><circle cx="448.8" cy="1095.5" r="5"/><circle cx="478.4" cy="1093.16" r="5"/><circle cx="493.2" cy="1090.81" r="5"/><circle cx="456.2" cy="1088.46" r="5"/><circle cx="471" cy="1086.12" r="5"/><circle cx="485.8" cy="1083.77" r="5"/><circle cx="448.8" cy="1081.68" r="5"/><circle cx="463.6" cy="1079.84" r="5"/><circle cx="493.2" cy="1077.99" r="5"/><circle cx="478.4" cy="1076.15" r="5"/><circle cx="456.2" cy="1074.31" r="5"/><circle cx="471" cy="1072.46" r="5"/><circle cx="485.8" cy="1070.62" r="5"/><circle cx="448.8" cy="1068.78" r="5"/><circle cx="463.6" cy="1066.93" r="5"/><circle cx="478.4" cy="1065.14" r="5"/><circle cx="493.2" cy="1063.51" r="5"/><circle cx="456.2" cy="1061.88" r="5"/><circle cx="471" cy="1060.26" r="5"/><circle cx="485.8" cy="1058.63" r="5"/><circle cx="448.8" cy="1057" r="5"/><circle cx="463.6" cy="1055.37" r="5"/><circle cx="471" cy="1047.9" r="5"/><circle cx="493.2" cy="1034.58" r="5"/><circle cx="471" cy="1006.65" r="5"/></g>
<g fill="#4c9cf8"><circle cx="550" cy="1152.35" r="5"/><circle cx="572.2" cy="1151.13" r="5"/><circle cx="535.2" cy="1149.91" r="5"/><circle cx="557.4" cy="1148.69" r="5"/><circle cx="564.8" cy="1147.47" r="5"/><circle cx="542.6" cy="1146.25" r="5"/><circle cx="527.8" cy="1145.24" r="5"/><circle cx="550" cy="1144.25" r="5"/><circle cx="572.2" cy="1143.27" r="5"/><circle cx="535.2" cy="1142.28" r="5"/><circle cx="557.4" cy="1141.29" r="5"/><circle cx="564.8" cy="1140.3" r="5"/><circle cx="542.6" cy="1139.31" r="5"/><circle cx="527.8" cy="1138.33" r="5"/><circle cx="550" cy="1137.34" r="5"/><circle cx="572.2" cy="1136.35" r="5"/><circle cx="535.2" cy="1135.36" r="5"/><circle cx="557.4" cy="1134.37" r="5"/><circle cx="564.8" cy="1133.39" r="5"/><circle cx="542.6" cy="1132.4" r="5"/><circle cx="527.8" cy="1131.41" r="5"/><circle cx="550" cy="1130.42" r="5"/><circle cx="572.2" cy="1129.43" r="5"/><circle cx="535.2" cy="1128.45" r="5"/><circle cx="557.4" cy="1127.46" r="5"/><circle cx="564.8" cy="1126.47" r="5"/><circle cx="542.6" cy="1125.48" r="5"/><circle cx="527.8" cy="1124.49" r="5"/><circle cx="550" cy="1123.51" r="5"/><circle cx="572.2" cy="1122.52" r="5"/><circle cx="535.2" cy="1121.53" r="5"/><circle cx="557.4" cy="1120.54" r="5"/><circle cx="564.8" cy="1119.6" r="5"/><circle cx="542.6" cy="1118.82" r="5"/><circle cx="527.8" cy="1118.04" r="5"/><circle cx="550" cy="1117.26" r="5"/><circle cx="572.2" cy="1116.48" r="5"/><circle cx="535.2" cy="1115.7" r="5"/><circle cx="557.4" cy="1114.92" r="5"/><circle cx="564.8" cy="1114.14" r="5"/><circle cx="542.6" cy="1113.36" r="5"/><circle cx="527.8" cy="1112.57" r="5"/><circle cx="550" cy="1111.79" r="5"/><circle cx="572.2" cy="1111.01" r="5"/><circle cx="535.2" cy="1110.23" r="5"/><circle cx="557.4" cy="1109.45" r="5"/><circle cx="564.8" cy="1108.67" r="5"/><circle cx="542.6" cy="1107.89" r="5"/><circle cx="527.8" cy="1107.11" r="5"/><circle cx="550" cy="1106.33" r="5"/><circle cx="572.2" cy="1105.54" r="5"/><circle cx="535.2" cy="1104.76" r="5"/><circle cx="557.4" cy="1103.98" r="5"/><circle cx="564.8" cy="1103.2" r="5"/><circle cx="542.6" cy="1102.42" r="5"/><circle cx="527.8" cy="1101.64" r="5"/><circle cx="550" cy="1100.86" r="5"/><circle cx="572.2" cy="1100.08" r="5"/><circle cx="535.2" cy="1099.3" r="5"/><circle cx="557.4" cy="1098.51" r="5"/><circle cx="564.8" cy="1097.73" r="5"/><circle cx="542.6" cy="1096.95" r="5"/><circle cx="527.8" cy="1096.17" r="5"/><circle cx="550" cy="1095.39" r="5"/><circle cx="572.2" cy="1094.61" r="5"/><circle cx="535.2" cy="1093.83" r="5"/><circle cx="557.4" cy="1093.05" r="5"/><circle cx="564.8" cy="1092.27" r="5"/><circle cx="542.6" cy="1091.49" r="5"/><circle cx="527.8" cy="1090.7" r="5"/><circle cx="550" cy="1089.92" r="5"/><circle cx="572.2" cy="1089.14" r="5"/><circle cx="535.2" cy="1088.36" r="5"/><circle cx="557.4" cy="1087.58" r="5"/><circle cx="564.8" cy="1086.8" r="5"/><circle cx="542.6" cy="1086.02" r="5"/><circle cx="527.8" cy="1085.24" r="5"/><circle cx="550" cy="1084.46" r="5"/><circle cx="572.2" cy="1083.67" r="5"/><circle cx="535.2" cy="1082.89" r="5"/><circle cx="557.4" cy="1082.11" r="5"/><circle cx="564.8" cy="1081.33" r="5"/><circle cx="542.6" cy="1080.55" r="5"/><circle cx="527.8" cy="1079.77" r="5"/><circle cx="550" cy="1078.99" r="5"/><circle cx="572.2" cy="1078.21" r="5"/><circle cx="535.2" cy="1077.43" r="5"/><circle cx="557.4" cy="1076.64" r="5"/><circle cx="564.8" cy="1075.86" r="5"/><circle cx="542.6" cy="1075.08" r="5"/><circle cx="527.8" cy="1074.3" r="5"/><circle cx="550" cy="1073.52" r="5"/><circle cx="572.2" cy="1072.74" r="5"/><circle cx="535.2" cy="1071.96" r="5"/><circle cx="557.4" cy="1071.18" r="5"/><circle cx="564.8" cy="1070.4" r="5"/><circle cx="542.6" cy="1069.28" r="5"/><circle cx="527.8" cy="1068.06" r="5"/><circle cx="550" cy="1066.84" r="5"/><circle cx="572.2" cy="1065.62" r="5"/><circle cx="535.2" cy="1064.4" r="5"/><circle cx="557.4" cy="1063.18" r="5"/><circle cx="542.6" cy="1061.96" r="5"/><circle cx="564.8" cy="1060.74" r="5"/><circle cx="527.8" cy="1059.52" r="5"/><circle cx="550" cy="1058.3" r="5"/><circle cx="572.2" cy="1057.08" r="5"/><circle cx="535.2" cy="1055.86" r="5"/><circle cx="557.4" cy="1054.64" r="5"/><circle cx="564.8" cy="1053.42" r="5"/><circle cx="542.6" cy="1052.2" r="5"/><circle cx="527.8" cy="1050.98" r="5"/><circle cx="572.2" cy="1049.76" r="5"/><circle cx="550" cy="1048.54" r="5"/><circle cx="535.2" cy="1047.32" r="5"/><circle cx="564.8" cy="1046.1" r="5"/><circle cx="542.6" cy="1044.88" r="5"/><circle cx="557.4" cy="1043.65" r="5"/><circle cx="527.8" cy="1042.43" r="5"/><circle cx="572.2" cy="1039.69" r="5"/><circle cx="542.6" cy="1036.76" r="5"/><circle cx="557.4" cy="1033.83" r="5"/><circle cx="527.8" cy="1030.91" r="5"/><circle cx="572.2" cy="1027.98" r="5"/><circle cx="557.4" cy="1025.05" r="5"/><circle cx="535.2" cy="1020.66" r="5"/><circle cx="572.2" cy="1015.03" r="5"/><circle cx="550" cy="975.65" r="5"/></g>
<line x1="364.7" y1="1093.3" x2="421.7" y2="1093.3" stroke="#000" stroke-width="2" /><line x1="393.2" y1="1089.3" x2="393.2" y2="1097.3" stroke="#000" stroke-width="2" /><line x1="379.7" y1="1089.3" x2="406.7" y2="1089.3" stroke="#000" stroke-width="2" /><line x1="379.7" y1="1097.3" x2="406.7" y2="1097.3" stroke="#000" stroke-width="2" />
<line x1="444" y1="1082.4" x2="499" y2="1082.4" stroke="#000" stroke-width="2" /><line x1="471.5" y1="1077.7" x2="471.5" y2="1087.1" stroke="#000" stroke-width="2" /><line x1="458" y1="1077.7" x2="485" y2="1077.7" stroke="#000" stroke-width="2" /><line x1="458" y1="1087.1" x2="485" y2="1087.1" stroke="#000" stroke-width="2" />
<line x1="523" y1="1092.7" x2="578" y2="1092.7" stroke="#000" stroke-width="2" /><line x1="550.5" y1="1090.9" x2="550.5" y2="1094.5" stroke="#000" stroke-width="2" /><line x1="537" y1="1090.9" x2="564" y2="1090.9" stroke="#000" stroke-width="2" /><line x1="537" y1="1094.5" x2="564" y2="1094.5" stroke="#000" stroke-width="2" />
<path d="M387 904.5 V897 H552.4 V904.5" stroke="#000" stroke-width="2" fill="none" />
<path d="M387 947 V939.5 H471 V947" stroke="#000" stroke-width="2" fill="none" />
<text x="471" y="891.5" font-size="27.5" text-anchor="middle" font-style="italic">n.s.</text>
<text x="433" y="933.7" font-size="27.5" text-anchor="middle" font-style="italic">n.s.</text>
<text transform="translate(385.7 1186) rotate(-90)" font-size="31" text-anchor="end" font-weight="bold">Con</text><text transform="translate(424.2 1186) rotate(-90)" font-size="27.6" text-anchor="end">(<tspan font-style="italic">n</tspan> = 42)</text>
<text transform="translate(464 1186) rotate(-90)" font-size="31" text-anchor="end" font-weight="bold">UC</text><text transform="translate(502.5 1186) rotate(-90)" font-size="27.6" text-anchor="end">(<tspan font-style="italic">n</tspan> = 38)</text>
<text transform="translate(543 1186) rotate(-90)" font-size="31" text-anchor="end" font-weight="bold">CD</text><text transform="translate(581.5 1186) rotate(-90)" font-size="27.6" text-anchor="end">(<tspan font-style="italic">n</tspan> = 174)</text>
</g>
<g id="panel_de">
<text x="588" y="755" font-size="51" font-weight="bold">d</text>
<text x="740" y="794.5" font-size="31.2" text-anchor="middle" font-weight="bold">Rectal Mucosa</text>
<text x="740.4" y="833" font-size="28.2" text-anchor="middle">(GSE109142)</text>
<text transform="translate(646.5 1038.5) rotate(-90)" font-size="31.2" text-anchor="middle">Log<tspan font-size="18.72" dy="6.24">2</tspan><tspan dy="-6.24" font-size="31.2">&#8203;</tspan><tspan font-style="italic" dx="3">TRIM40</tspan> expression</text>
<line x1="685.8" y1="920.5" x2="685.8" y2="1172.5" stroke="#000" stroke-width="2" /><line x1="677.8" y1="921.5" x2="685.8" y2="921.5" stroke="#000" stroke-width="2" /><text x="679" y="930.86" font-size="26" text-anchor="end">8</text><line x1="677.8" y1="984" x2="685.8" y2="984" stroke="#000" stroke-width="2" /><text x="679" y="993.36" font-size="26" text-anchor="end">6</text><line x1="677.8" y1="1046.5" x2="685.8" y2="1046.5" stroke="#000" stroke-width="2" /><text x="679" y="1055.86" font-size="26" text-anchor="end">4</text><line x1="677.8" y1="1109" x2="685.8" y2="1109" stroke="#000" stroke-width="2" /><text x="679" y="1118.36" font-size="26" text-anchor="end">2</text><text x="679" y="1180.86" font-size="26" text-anchor="end">0</text><line x1="677.8" y1="1171.5" x2="845" y2="1171.5" stroke="#000" stroke-width="2" />
<line x1="725.5" y1="1171.5" x2="725.5" y2="1179.5" stroke="#000" stroke-width="2" />
<line x1="805.4" y1="1171.5" x2="805.4" y2="1179.5" stroke="#000" stroke-width="2" />
<g fill="#808080"><circle cx="711.5" cy="1137.12" r="5"/><circle cx="732.5" cy="1134.93" r="5"/><circle cx="718.5" cy="1132.74" r="5"/><circle cx="739.5" cy="1130.45" r="5"/><circle cx="711.5" cy="1127.63" r="5"/><circle cx="725.5" cy="1124.81" r="5"/><circle cx="739.5" cy="1121.99" r="5"/><circle cx="718.5" cy="1119.17" r="5"/><circle cx="732.5" cy="1116.35" r="5"/><circle cx="711.5" cy="1113.53" r="5"/><circle cx="725.5" cy="1110.21" r="5"/><circle cx="739.5" cy="1106.37" r="5"/><circle cx="718.5" cy="1102.53" r="5"/><circle cx="732.5" cy="1098.69" r="5"/><circle cx="711.5" cy="1094.86" r="5"/><circle cx="725.5" cy="1091.02" r="5"/><circle cx="718.5" cy="1083.67" r="5"/><circle cx="711.5" cy="1075.45" r="5"/><circle cx="739.5" cy="1066.15" r="5"/><circle cx="725.5" cy="1055.88" r="5"/></g>
<g fill="#fb9a99"><circle cx="826.1" cy="1129.31" r="5"/><circle cx="812.3" cy="1126.03" r="5"/><circle cx="798.5" cy="1122.75" r="5"/><circle cx="784.7" cy="1120.14" r="5"/><circle cx="826.1" cy="1117.95" r="5"/><circle cx="805.4" cy="1115.77" r="5"/><circle cx="791.6" cy="1113.58" r="5"/><circle cx="819.2" cy="1111.39" r="5"/><circle cx="784.7" cy="1109.2" r="5"/><circle cx="798.5" cy="1107.01" r="5"/><circle cx="812.3" cy="1105.13" r="5"/><circle cx="826.1" cy="1103.59" r="5"/><circle cx="791.6" cy="1102.04" r="5"/><circle cx="805.4" cy="1100.5" r="5"/><circle cx="819.2" cy="1098.95" r="5"/><circle cx="784.7" cy="1097.41" r="5"/><circle cx="798.5" cy="1095.87" r="5"/><circle cx="812.3" cy="1094.32" r="5"/><circle cx="826.1" cy="1092.78" r="5"/><circle cx="791.6" cy="1091.23" r="5"/><circle cx="805.4" cy="1089.69" r="5"/><circle cx="819.2" cy="1088.14" r="5"/><circle cx="784.7" cy="1086.6" r="5"/><circle cx="798.5" cy="1085.05" r="5"/><circle cx="826.1" cy="1083.51" r="5"/><circle cx="812.3" cy="1081.96" r="5"/><circle cx="791.6" cy="1080.42" r="5"/><circle cx="819.2" cy="1078.87" r="5"/><circle cx="805.4" cy="1077.33" r="5"/><circle cx="784.7" cy="1075.78" r="5"/><circle cx="826.1" cy="1074.39" r="5"/><circle cx="812.3" cy="1073.44" r="5"/><circle cx="798.5" cy="1072.5" r="5"/><circle cx="819.2" cy="1071.55" r="5"/><circle cx="791.6" cy="1070.61" r="5"/><circle cx="805.4" cy="1069.66" r="5"/><circle cx="784.7" cy="1068.72" r="5"/><circle cx="826.1" cy="1067.77" r="5"/><circle cx="812.3" cy="1066.83" r="5"/><circle cx="798.5" cy="1065.88" r="5"/><circle cx="819.2" cy="1064.93" r="5"/><circle cx="791.6" cy="1063.99" r="5"/><circle cx="805.4" cy="1063.04" r="5"/><circle cx="784.7" cy="1062.1" r="5"/><circle cx="826.1" cy="1061.15" r="5"/><circle cx="812.3" cy="1060.21" r="5"/><circle cx="798.5" cy="1059.26" r="5"/><circle cx="819.2" cy="1058.32" r="5"/><circle cx="791.6" cy="1057.37" r="5"/><circle cx="805.4" cy="1056.43" r="5"/><circle cx="784.7" cy="1055.48" r="5"/><circle cx="826.1" cy="1054.54" r="5"/><circle cx="812.3" cy="1053.59" r="5"/><circle cx="798.5" cy="1052.64" r="5"/><circle cx="819.2" cy="1051.7" r="5"/><circle cx="791.6" cy="1050.75" r="5"/><circle cx="805.4" cy="1049.81" r="5"/><circle cx="784.7" cy="1048.86" r="5"/><circle cx="826.1" cy="1047.92" r="5"/><circle cx="812.3" cy="1046.97" r="5"/><circle cx="798.5" cy="1046.03" r="5"/><circle cx="819.2" cy="1045.08" r="5"/><circle cx="791.6" cy="1044.14" r="5"/><circle cx="805.4" cy="1043.19" r="5"/><circle cx="784.7" cy="1042.25" r="5"/><circle cx="826.1" cy="1041.3" r="5"/><circle cx="812.3" cy="1040.36" r="5"/><circle cx="798.5" cy="1039.41" r="5"/><circle cx="819.2" cy="1038.46" r="5"/><circle cx="791.6" cy="1037.52" r="5"/><circle cx="805.4" cy="1036.57" r="5"/><circle cx="784.7" cy="1035.63" r="5"/><circle cx="826.1" cy="1034.68" r="5"/><circle cx="812.3" cy="1033.74" r="5"/><circle cx="798.5" cy="1032.79" r="5"/><circle cx="819.2" cy="1031.85" r="5"/><circle cx="791.6" cy="1030.9" r="5"/><circle cx="805.4" cy="1029.96" r="5"/><circle cx="784.7" cy="1029.01" r="5"/><circle cx="826.1" cy="1028.07" r="5"/><circle cx="812.3" cy="1027.12" r="5"/><circle cx="798.5" cy="1026.17" r="5"/><circle cx="819.2" cy="1025.23" r="5"/><circle cx="791.6" cy="1024.28" r="5"/><circle cx="805.4" cy="1023.34" r="5"/><circle cx="784.7" cy="1022.39" r="5"/><circle cx="826.1" cy="1021.45" r="5"/><circle cx="812.3" cy="1020.5" r="5"/><circle cx="798.5" cy="1019.56" r="5"/><circle cx="819.2" cy="1018.61" r="5"/><circle cx="791.6" cy="1017.5" r="5"/><circle cx="805.4" cy="1016.33" r="5"/><circle cx="784.7" cy="1015.17" r="5"/><circle cx="826.1" cy="1014" r="5"/><circle cx="812.3" cy="1012.83" r="5"/><circle cx="798.5" cy="1011.66" r="5"/><circle cx="791.6" cy="1010.5" r="5"/><circle cx="819.2" cy="1009.33" r="5"/><circle cx="805.4" cy="1008.16" r="5"/><circle cx="784.7" cy="1007" r="5"/><circle cx="826.1" cy="1005.83" r="5"/><circle cx="812.3" cy="1004.66" r="5"/><circle cx="798.5" cy="1003.49" r="5"/><circle cx="819.2" cy="1002.33" r="5"/><circle cx="805.4" cy="1001.16" r="5"/><circle cx="791.6" cy="999.99" r="5"/><circle cx="826.1" cy="998.83" r="5"/><circle cx="784.7" cy="997.66" r="5"/><circle cx="812.3" cy="996.49" r="5"/><circle cx="798.5" cy="995.32" r="5"/><circle cx="819.2" cy="994.16" r="5"/><circle cx="805.4" cy="992.51" r="5"/><circle cx="791.6" cy="989.88" r="5"/><circle cx="826.1" cy="987.26" r="5"/><circle cx="798.5" cy="984.63" r="5"/><circle cx="784.7" cy="982" r="5"/><circle cx="805.4" cy="979.38" r="5"/><circle cx="791.6" cy="975.09" r="5"/><circle cx="798.5" cy="968.09" r="5"/><circle cx="805.4" cy="952.75" r="5"/></g>
<line x1="699" y1="1110" x2="753" y2="1110" stroke="#000" stroke-width="2" /><line x1="726" y1="1104.5" x2="726" y2="1115.5" stroke="#000" stroke-width="2" /><line x1="712.5" y1="1104.5" x2="739.5" y2="1104.5" stroke="#000" stroke-width="2" /><line x1="712.5" y1="1115.5" x2="739.5" y2="1115.5" stroke="#000" stroke-width="2" />
<line x1="778.9" y1="1047.3" x2="832.9" y2="1047.3" stroke="#000" stroke-width="2" /><line x1="805.9" y1="1045.1" x2="805.9" y2="1049.5" stroke="#000" stroke-width="2" /><line x1="792.4" y1="1045.1" x2="819.4" y2="1045.1" stroke="#000" stroke-width="2" /><line x1="792.4" y1="1049.5" x2="819.4" y2="1049.5" stroke="#000" stroke-width="2" />
<path d="M730 903.8 V896.8 H808.5 V903.8" stroke="#000" stroke-width="2" fill="none" />
<text x="687" y="885.2" font-size="27.5"><tspan font-style="italic">P</tspan> = 1.90x10<tspan font-size="16.5" dy="-10.45">-13</tspan></text>
<text transform="translate(719.5 1184.2) rotate(-90)" font-size="31" text-anchor="end" font-weight="bold">Con</text><text transform="translate(755.5 1184.2) rotate(-90)" font-size="27.6" text-anchor="end">(<tspan font-style="italic">n</tspan> = 20)</text>
<text transform="translate(799.4 1184.2) rotate(-90)" font-size="31" text-anchor="end" font-weight="bold">UC</text><text transform="translate(833.4 1184.2) rotate(-90)" font-size="27.6" text-anchor="end">(<tspan font-style="italic">n</tspan> = 206)</text>
<text x="889.5" y="755" font-size="51" font-weight="bold">e</text>
<text transform="translate(909 1038) rotate(-90)" font-size="31.2" text-anchor="middle">Rel.<tspan font-style="italic" dx="0">TRIM40</tspan> expression</text>
<line x1="952.8" y1="898.1" x2="952.8" y2="1171" stroke="#000" stroke-width="2" /><line x1="944.8" y1="899.1" x2="952.8" y2="899.1" stroke="#000" stroke-width="2" /><text x="946" y="908.46" font-size="26" text-anchor="end">15</text><line x1="944.8" y1="989.4" x2="952.8" y2="989.4" stroke="#000" stroke-width="2" /><text x="946" y="998.76" font-size="26" text-anchor="end">10</text><line x1="944.8" y1="1079.7" x2="952.8" y2="1079.7" stroke="#000" stroke-width="2" /><text x="946" y="1089.06" font-size="26" text-anchor="end">5</text><text x="946" y="1179.36" font-size="26" text-anchor="end">0</text><line x1="944.8" y1="1170" x2="1067.7" y2="1170" stroke="#000" stroke-width="2" />
<line x1="982.9" y1="1170" x2="982.9" y2="1178" stroke="#000" stroke-width="2" />
<line x1="1038.8" y1="1170" x2="1038.8" y2="1178" stroke="#000" stroke-width="2" />
<g fill="#808080"><circle cx="982.86" cy="1071.57" r="5"/><circle cx="982.08" cy="1094.34" r="5"/><circle cx="973.21" cy="1147.58" r="5"/><circle cx="985.17" cy="1148.35" r="5"/><circle cx="979.77" cy="1169.58" r="5"/><circle cx="990.57" cy="1169.58" r="5"/></g>
<g fill="#fb9a99"><circle cx="1038.8" cy="974.72" r="5"/><circle cx="1047.29" cy="1015.24" r="5"/><circle cx="1038.8" cy="1034.92" r="5"/><circle cx="1029.16" cy="1042.25" r="5"/><circle cx="1048.45" cy="1043.02" r="5"/><circle cx="1029.16" cy="1071.18" r="5"/><circle cx="1048.45" cy="1072.73" r="5"/><circle cx="1038.8" cy="1076.59" r="5"/><circle cx="1043.82" cy="1075.04" r="5"/></g>
<line x1="963.4" y1="1133.31" x2="1002.4" y2="1133.31" stroke="#000" stroke-width="2" /><line x1="982.9" y1="1116.71" x2="982.9" y2="1149.91" stroke="#000" stroke-width="2" /><line x1="976.9" y1="1116.71" x2="988.9" y2="1116.71" stroke="#000" stroke-width="2" /><line x1="976.9" y1="1149.91" x2="988.9" y2="1149.91" stroke="#000" stroke-width="2" />
<line x1="1019.3" y1="1044.56" x2="1058.3" y2="1044.56" stroke="#000" stroke-width="2" /><line x1="1038.8" y1="1033.56" x2="1038.8" y2="1055.56" stroke="#000" stroke-width="2" /><line x1="1032.8" y1="1033.56" x2="1044.8" y2="1033.56" stroke="#000" stroke-width="2" /><line x1="1032.8" y1="1055.56" x2="1044.8" y2="1055.56" stroke="#000" stroke-width="2" />
<path d="M982.9 903.8 V896.8 H1038.8 V903.8" stroke="#000" stroke-width="2" fill="none" />
<text x="948" y="884.4" font-size="27.5"><tspan font-style="italic">P</tspan> = 0.0006</text>
<text transform="translate(966.9 1184.2) rotate(-90)" font-size="31" text-anchor="end" font-weight="bold">Con</text><text transform="translate(1002.2 1184.2) rotate(-90)" font-size="27.6" text-anchor="end">(<tspan font-style="italic">n</tspan> = 6)</text>
<text transform="translate(1042.1 1184.2) rotate(-90)" font-size="31" text-anchor="end" font-weight="bold">UC</text><text transform="translate(1076.2 1184.2) rotate(-90)" font-size="27.6" text-anchor="end">(<tspan font-style="italic">n</tspan> = 9)</text>
<line x1="1126.8" y1="899.6" x2="1126.8" y2="1171.2" stroke="#000" stroke-width="2" /><line x1="1118.8" y1="900.6" x2="1126.8" y2="900.6" stroke="#000" stroke-width="2" /><text x="1120" y="909.96" font-size="26" text-anchor="end">12</text><line x1="1118.8" y1="945.5" x2="1126.8" y2="945.5" stroke="#000" stroke-width="2" /><text x="1120" y="954.86" font-size="26" text-anchor="end">10</text><line x1="1118.8" y1="990.5" x2="1126.8" y2="990.5" stroke="#000" stroke-width="2" /><text x="1120" y="999.86" font-size="26" text-anchor="end">8</text><line x1="1118.8" y1="1035.4" x2="1126.8" y2="1035.4" stroke="#000" stroke-width="2" /><text x="1120" y="1044.76" font-size="26" text-anchor="end">6</text><line x1="1118.8" y1="1080.3" x2="1126.8" y2="1080.3" stroke="#000" stroke-width="2" /><text x="1120" y="1089.66" font-size="26" text-anchor="end">4</text><line x1="1118.8" y1="1125.3" x2="1126.8" y2="1125.3" stroke="#000" stroke-width="2" /><text x="1120" y="1134.66" font-size="26" text-anchor="end">2</text><text x="1120" y="1179.56" font-size="26" text-anchor="end">0</text><line x1="1118.8" y1="1170.2" x2="1243.3" y2="1170.2" stroke="#000" stroke-width="2" />
<line x1="1157.6" y1="1170.2" x2="1157.6" y2="1178.2" stroke="#000" stroke-width="2" />
<line x1="1213.6" y1="1170.2" x2="1213.6" y2="1178.2" stroke="#000" stroke-width="2" />
<g fill="#808080"><circle cx="1157.65" cy="1058.07" r="5"/><circle cx="1157.65" cy="1081.99" r="5"/><circle cx="1148.77" cy="1143.72" r="5"/><circle cx="1160.35" cy="1144.88" r="5"/><circle cx="1157.65" cy="1169.96" r="5"/><circle cx="1166.13" cy="1169.96" r="5"/></g>
<g fill="#4c9cf8"><circle cx="1213.59" cy="987.84" r="5"/><circle cx="1222.85" cy="987.46" r="5"/><circle cx="1213.59" cy="1007.13" r="5"/><circle cx="1204.72" cy="1042.63" r="5"/><circle cx="1222.85" cy="1043.4" r="5"/><circle cx="1213.59" cy="1049.19" r="5"/><circle cx="1204.72" cy="1061.92" r="5"/><circle cx="1214.36" cy="1079.67" r="5"/><circle cx="1213.59" cy="1131.38" r="5"/></g>
<line x1="1138.1" y1="1127.9" x2="1177.1" y2="1127.9" stroke="#000" stroke-width="2" /><line x1="1157.6" y1="1108.9" x2="1157.6" y2="1146.9" stroke="#000" stroke-width="2" /><line x1="1151.6" y1="1108.9" x2="1163.6" y2="1108.9" stroke="#000" stroke-width="2" /><line x1="1151.6" y1="1146.9" x2="1163.6" y2="1146.9" stroke="#000" stroke-width="2" />
<line x1="1194.1" y1="1043.02" x2="1233.1" y2="1043.02" stroke="#000" stroke-width="2" /><line x1="1213.6" y1="1027.52" x2="1213.6" y2="1058.52" stroke="#000" stroke-width="2" /><line x1="1207.6" y1="1027.52" x2="1219.6" y2="1027.52" stroke="#000" stroke-width="2" /><line x1="1207.6" y1="1058.52" x2="1219.6" y2="1058.52" stroke="#000" stroke-width="2" />
<path d="M1157.6 905.5 V898.5 H1213.6 V905.5" stroke="#000" stroke-width="2" fill="none" />
<text x="1122.5" y="884.4" font-size="27.5"><tspan font-style="italic">P</tspan> = 0.0041</text>
<text transform="translate(1141.6 1184.2) rotate(-90)" font-size="31" text-anchor="end" font-weight="bold">Con</text><text transform="translate(1175 1184.2) rotate(-90)" font-size="27.6" text-anchor="end">(<tspan font-style="italic">n</tspan> = 6)</text>
<text transform="translate(1216.9 1184.2) rotate(-90)" font-size="31" text-anchor="end" font-weight="bold">CD</text><text transform="translate(1251 1184.2) rotate(-90)" font-size="27.6" text-anchor="end">(<tspan font-style="italic">n</tspan> = 9)</text>
</g>
<g id="panel_f">
<text x="1267.5" y="695.5" font-size="51" font-weight="bold">f</text>
<text x="1452.5" y="701.8" font-size="30.7" text-anchor="middle"><tspan font-family="DejaVu Sans, sans-serif" font-size="27">α</tspan>-TRIM40</text>
<text x="1716" y="701.8" font-size="31.1" text-anchor="middle">Enlarged</text>
<defs><filter id="b3" x="-20%" y="-20%" width="140%" height="140%"><feGaussianBlur stdDeviation="2.2"/></filter><filter id="b6" x="-20%" y="-20%" width="140%" height="140%"><feGaussianBlur stdDeviation="5"/></filter><filter id="b1" x="-20%" y="-20%" width="140%" height="140%"><feGaussianBlur stdDeviation="1"/></filter><filter id="soft" x="-2%" y="-2%" width="104%" height="104%"><feGaussianBlur stdDeviation="1.2"/></filter><filter id="m1L" x="-5%" y="-5%" width="110%" height="110%" color-interpolation-filters="sRGB"><feTurbulence type="fractalNoise" baseFrequency="0.07" numOctaves="2" seed="3" result="dn"/><feDisplacementMap in="SourceGraphic" in2="dn" scale="9" xChannelSelector="R" yChannelSelector="G" result="src"/><feTurbulence type="fractalNoise" baseFrequency="0.14" numOctaves="2" seed="11" result="n0"/><feColorMatrix in="n0" type="matrix" values="0 0 0 0 0.74 0 0 0 0 0.72 0 0 0 0 0.78 4.5 0 0 0 -2.11" result="c0"/><feComposite in="c0" in2="src" operator="in" result="m0"/><feTurbulence type="fractalNoise" baseFrequency="0.2" numOctaves="2" seed="12" result="n1"/><feColorMatrix in="n1" type="matrix" values="0 0 0 0 0.93 0 0 0 0 0.91 0 0 0 0 0.86 0 6 0 0 -3" result="c1"/><feComposite in="c1" in2="src" operator="in" result="m1"/><feTurbulence type="fractalNoise" baseFrequency="0.45" numOctaves="1" seed="13" result="n2"/><feColorMatrix in="n2" type="matrix" values="0 0 0 0 0.62 0 0 0 0 0.6 0 0 0 0 0.71 0 0 4 0 -2.28" result="c2"/><feComposite in="c2" in2="src" operator="in" result="m2"/><feMerge><feMergeNode in="src"/><feMergeNode in="m0"/><feMergeNode in="m1"/><feMergeNode in="m2"/></feMerge></filter><filter id="m1R" x="-5%" y="-5%" width="110%" height="110%" color-interpolation-filters="sRGB"><feTurbulence type="fractalNoise" baseFrequency="0.04" numOctaves="2" seed="5" result="dn"/><feDisplacementMap in="SourceGraphic" in2="dn" scale="12" xChannelSelector="R" yChannelSelector="G" result="src"/><feTurbulence type="fractalNoise" baseFrequency="0.07" numOctaves="2" seed="21" result="n0"/><feColorMatrix in="n0" type="matrix" values="0 0 0 0 0.74 0 0 0 0 0.72 0 0 0 0 0.79 4.5 0 0 0 -2.11" result="c0"/><feComposite in="c0" in2="src" operator="in" result="m0"/><feTurbulence type="fractalNoise" baseFrequency="0.085" numOctaves="2" seed="22" result="n1"/><feColorMatrix in="n1" type="matrix" values="0 0 0 0 0.93 0 0 0 0 0.9 0 0 0 0 0.85 0 7 0 0 -3.64" result="c1"/><feComposite in="c1" in2="src" operator="in" result="m1"/><feTurbulence type="fractalNoise" baseFrequency="0.3" numOctaves="1" seed="23" result="n2"/><feColorMatrix in="n2" type="matrix" values="0 0 0 0 0.6 0 0 0 0 0.58 0 0 0 0 0.71 0 0 4.5 0 -2.65" result="c2"/><feComposite in="c2" in2="src" operator="in" result="m2"/><feMerge><feMergeNode in="src"/><feMergeNode in="m0"/><feMergeNode in="m1"/><feMergeNode in="m2"/></feMerge></filter><filter id="m2L" x="-5%" y="-5%" width="110%" height="110%" color-interpolation-filters="sRGB"><feTurbulence type="fractalNoise" baseFrequency="0.5" numOctaves="2" seed="31" result="n0"/><feColorMatrix in="n0" type="matrix" values="0 0 0 0 0.58 0 0 0 0 0.38 0 0 0 0 0.31 5 0 0 0 -2.5" result="c0"/><feComposite in="c0" in2="SourceGraphic" operator="in" result="m0"/><feTurbulence type="fractalNoise" baseFrequency="0.35" numOctaves="2" seed="32" result="n1"/><feColorMatrix in="n1" type="matrix" values="0 0 0 0 0.9 0 0 0 0 0.87 0 0 0 0 0.83 0 4 0 0 -2.2" result="c1"/><feComposite in="c1" in2="SourceGraphic" operator="in" result="m1"/><feTurbulence type="fractalNoise" baseFrequency="0.6" numOctaves="1" seed="33" result="n2"/><feColorMatrix in="n2" type="matrix" values="0 0 0 0 0.5 0 0 0 0 0.29 0 0 0 0 0.24 0 0 5 0 -3.1" result="c2"/><feComposite in="c2" in2="SourceGraphic" operator="in" result="m2"/><feMerge><feMergeNode in="SourceGraphic"/><feMergeNode in="m0"/><feMergeNode in="m1"/><feMergeNode in="m2"/></feMerge></filter><filter id="r2L" x="-10%" y="-10%" width="120%" height="120%" color-interpolation-filters="sRGB"><feTurbulence type="fractalNoise" baseFrequency="0.05" numOctaves="2" seed="7" result="n"/><feDisplacementMap in="SourceGraphic" in2="n" scale="12" xChannelSelector="R" yChannelSelector="G"/></filter><filter id="g2L" x="-5%" y="-5%" width="110%" height="110%" color-interpolation-filters="sRGB"><feTurbulence type="fractalNoise" baseFrequency="0.1" numOctaves="2" seed="9" result="dn"/><feDisplacementMap in="SourceGraphic" in2="dn" scale="4" xChannelSelector="R" yChannelSelector="G" result="src"/><feTurbulence type="fractalNoise" baseFrequency="0.5" numOctaves="1" seed="36" result="n0"/><feColorMatrix in="n0" type="matrix" values="0 0 0 0 0.48 0 0 0 0 0.3 0 0 0 0 0.17 0 4 0 0 -2.48" result="c0"/><feComposite in="c0" in2="src" operator="in" result="m0"/><feMerge><feMergeNode in="src"/><feMergeNode in="m0"/></feMerge></filter><filter id="m2R" x="-5%" y="-5%" width="110%" height="110%" color-interpolation-filters="sRGB"><feTurbulence type="fractalNoise" baseFrequency="0.22" numOctaves="2" seed="41" result="n0"/><feColorMatrix in="n0" type="matrix" values="0 0 0 0 0.47 0 0 0 0 0.23 0 0 0 0 0.25 7 0 0 0 -3.82" result="c0"/><feComposite in="c0" in2="SourceGraphic" operator="in" result="m0"/><feTurbulence type="fractalNoise" baseFrequency="0.16" numOctaves="2" seed="42" result="n1"/><feColorMatrix in="n1" type="matrix" values="0 0 0 0 0.93 0 0 0 0 0.9 0 0 0 0 0.87 0 5 0 0 -2.6" result="c1"/><feComposite in="c1" in2="SourceGraphic" operator="in" result="m1"/><feTurbulence type="fractalNoise" baseFrequency="0.2" numOctaves="2" seed="43" result="n2"/><feColorMatrix in="n2" type="matrix" values="0 0 0 0 0.66 0 0 0 0 0.72 0 0 0 0 0.77 0 0 4 0 -2.32" result="c2"/><feComposite in="c2" in2="SourceGraphic" operator="in" result="m2"/><feMerge><feMergeNode in="SourceGraphic"/><feMergeNode in="m0"/><feMergeNode in="m1"/><feMergeNode in="m2"/></feMerge></filter><filter id="g2R" x="-5%" y="-5%" width="110%" height="110%" color-interpolation-filters="sRGB"><feTurbulence type="fractalNoise" baseFrequency="0.06" numOctaves="2" seed="4" result="dn"/><feDisplacementMap in="SourceGraphic" in2="dn" scale="7" xChannelSelector="R" yChannelSelector="G" result="src"/><feTurbulence type="fractalNoise" baseFrequency="0.3" numOctaves="2" seed="46" result="n0"/><feColorMatrix in="n0" type="matrix" values="0 0 0 0 0.42 0 0 0 0 0.26 0 0 0 0 0.15 0 4 0 0 -2.32" result="c0"/><feComposite in="c0" in2="src" operator="in" result="m0"/><feTurbulence type="fractalNoise" baseFrequency="0.12" numOctaves="2" seed="47" result="n1"/><feColorMatrix in="n1" type="matrix" values="0 0 0 0 0.66 0 0 0 0 0.5 0 0 0 0 0.35 4 0 0 0 -2.24" result="c1"/><feComposite in="c1" in2="src" operator="in" result="m1"/><feMerge><feMergeNode in="src"/><feMergeNode in="m0"/><feMergeNode in="m1"/></feMerge></filter><filter id="m3L" x="-5%" y="-5%" width="110%" height="110%" color-interpolation-filters="sRGB"><feTurbulence type="fractalNoise" baseFrequency="0.08" numOctaves="2" seed="6" result="dn"/><feDisplacementMap in="SourceGraphic" in2="dn" scale="8" xChannelSelector="R" yChannelSelector="G" result="src"/><feTurbulence type="fractalNoise" baseFrequency="0.45" numOctaves="2" seed="51" result="n0"/><feColorMatrix in="n0" type="matrix" values="0 0 0 0 0.52 0 0 0 0 0.49 0 0 0 0 0.46 4.5 0 0 0 -2.39" result="c0"/><feComposite in="c0" in2="src" operator="in" result="m0"/><feTurbulence type="fractalNoise" baseFrequency="0.3" numOctaves="2" seed="52" result="n1"/><feColorMatrix in="n1" type="matrix" values="0 0 0 0 0.87 0 0 0 0 0.85 0 0 0 0 0.8 0 4 0 0 -2.2" result="c1"/><feComposite in="c1" in2="src" operator="in" result="m1"/><feMerge><feMergeNode in="src"/><feMergeNode in="m0"/><feMergeNode in="m1"/></feMerge></filter><filter id="s3L" x="0" y="0" width="100%" height="100%" color-interpolation-filters="sRGB"><feTurbulence type="fractalNoise" baseFrequency="0.5" numOctaves="2" seed="55" result="n"/><feColorMatrix in="n" type="matrix" values="0 0 0 0 0.5 0 0 0 0 0.47 0 0 0 0 0.42 8 0 0 0 -5.72" result="c"/><feComposite in="c" in2="SourceAlpha" operator="in"/></filter><filter id="m3R" x="-5%" y="-5%" width="110%" height="110%" color-interpolation-filters="sRGB"><feTurbulence type="fractalNoise" baseFrequency="0.18" numOctaves="2" seed="61" result="n0"/><feColorMatrix in="n0" type="matrix" values="0 0 0 0 0.52 0 0 0 0 0.58 0 0 0 0 0.67 6 0 0 0 -3.24" result="c0"/><feComposite in="c0" in2="SourceGraphic" operator="in" result="m0"/><feTurbulence type="fractalNoise" baseFrequency="0.15" numOctaves="2" seed="62" result="n1"/><feColorMatrix in="n1" type="matrix" values="0 0 0 0 0.88 0 0 0 0 0.85 0 0 0 0 0.8 0 5 0 0 -2.75" result="c1"/><feComposite in="c1" in2="SourceGraphic" operator="in" result="m1"/><feTurbulence type="fractalNoise" baseFrequency="0.06" numOctaves="2" seed="63" result="n2"/><feColorMatrix in="n2" type="matrix" values="0 0 0 0 0.54 0 0 0 0 0.39 0 0 0 0 0.27 0 0 7 0 -4.06" result="c2"/><feGaussianBlur in="c2" stdDeviation="1.2" result="c2"/><feComposite in="c2" in2="SourceGraphic" operator="in" result="m2"/><feTurbulence type="fractalNoise" baseFrequency="0.25" numOctaves="2" seed="64" result="n3"/><feColorMatrix in="n3" type="matrix" values="0 0 0 0 0.53 0 0 0 0 0.35 0 0 0 0 0.27 0 0 0 5 -3.1" result="c3"/><feComposite in="c3" in2="SourceGraphic" operator="in" result="m3"/><feMerge><feMergeNode in="SourceGraphic"/><feMergeNode in="m0"/><feMergeNode in="m1"/><feMergeNode in="m2"/><feMergeNode in="m3"/></feMerge></filter></defs><svg x="1325" y="712.8" width="257" height="213.1" viewBox="0 0 257 213.1" overflow="hidden"><rect width="257" height="213.1" fill="#cfc8c0"/><g filter="url(#soft)"><rect x="-4" y="-4" width="265" height="221.5" fill="#e8e5da" /><g filter="url(#m1L)"><path d="M12 215.79 C-17.26 205.53 4.5 175.52 4.5 154.26 C4.5 133 7 103.24 12 88.24 C17.01 73.23 28.51 74.73 34.51 64.23 C40.52 53.72 43.27 32.71 48.02 25.21 C52.77 17.71 54.02 20.46 63.03 19.21 C72.03 17.96 92.54 18.46 102.04 17.71 C111.54 16.96 114.55 13.21 120.05 14.71 C125.55 16.21 130.05 22.21 135.05 26.71 C140.06 31.21 146.31 32.46 150.06 41.72 C153.81 50.97 153.81 70.48 157.56 82.23 C161.31 93.99 164.32 104.74 172.57 112.24 C180.82 119.75 200.33 119.75 207.08 127.25 C213.84 134.75 213.84 148.51 213.09 157.26 C212.33 166.02 208.08 170.02 202.58 179.77 C197.08 189.53 211.83 209.78 180.07 215.79 C148.31 221.79 41.27 226.04 12 215.79 Z" fill="#d8d4d6"/><path d="M-1.5 -1.8 C1.88 -7.05 16.01 -3.55 18.76 -0.3 C21.51 2.95 18.38 12.45 15.01 17.71 C11.63 22.96 1.25 34.46 -1.5 31.21 C-4.25 27.96 -4.88 3.45 -1.5 -1.8 Z" fill="#d8d4d6"/><path d="M150.06 76.23 C152.56 70.48 160.44 52.47 165.07 41.72 C169.69 30.96 175.7 16.71 177.82 11.7" fill="none" stroke="#d8d4d6" stroke-width="19" stroke-linecap="round" stroke-linejoin="round" stroke-opacity="1"/><path d="M172.57 88.24 C176.32 82.73 189.58 65.48 195.08 55.22 C200.58 44.97 203.83 31.46 205.58 26.71" fill="none" stroke="#d8d4d6" stroke-width="17" stroke-linecap="round" stroke-linejoin="round" stroke-opacity="1"/><path d="M180.07 100.24 C184.32 96.24 198.08 82.98 205.58 76.23 C213.09 69.48 221.84 62.47 225.09 59.72" fill="none" stroke="#d8d4d6" stroke-width="11" stroke-linecap="round" stroke-linejoin="round" stroke-opacity="1"/><path d="M187.58 109.24 C192.33 105.74 207.58 94.74 216.09 88.24 C224.59 81.73 234.84 73.23 238.6 70.23" fill="none" stroke="#d8d4d6" stroke-width="10" stroke-linecap="round" stroke-linejoin="round" stroke-opacity="1"/><path d="M202.58 143.76 C207.58 144.51 224.09 148.01 232.59 148.26 C241.1 148.51 250.1 145.76 253.6 145.26" fill="none" stroke="#d8d4d6" stroke-width="13" stroke-linecap="round" stroke-linejoin="round" stroke-opacity="1"/><path d="M195.08 119.75 C197.08 119 203.58 116.5 207.08 115.25 C210.58 114 214.59 112.75 216.09 112.24" fill="none" stroke="#d8d4d6" stroke-width="16" stroke-linecap="round" stroke-linejoin="round" stroke-opacity="1"/><path d="M187.58 164.77 C191.33 164.27 203.33 162.52 210.08 161.76 C216.84 161.01 225.09 160.51 228.09 160.26" fill="none" stroke="#d8d4d6" stroke-width="12" stroke-linecap="round" stroke-linejoin="round" stroke-opacity="1"/></g><g filter="url(#b3)"><path d="M82.53 215.79 C82.53 201.03 81.53 148.26 82.53 127.25 C83.53 106.24 84.78 99.24 88.54 89.74 C92.29 80.23 99.29 73.48 105.04 70.23 C110.79 66.98 116.55 67.23 123.05 70.23 C129.55 73.23 138.31 80.73 144.06 88.24 C149.81 95.74 154.81 103.74 157.56 115.25 C160.31 126.75 161.31 140.51 160.56 157.26 C159.81 174.02 154.31 206.03 153.06 215.79" fill="none" stroke="#c4a898" stroke-width="7" stroke-linecap="round" stroke-linejoin="round" stroke-opacity="0.7"/><path d="M100.54 215.79 C96.79 203.53 97.29 162.01 97.54 142.26 C97.79 122.5 100.04 106.74 102.04 97.24 C104.04 87.74 107.04 84.73 109.54 85.23 C112.04 85.73 115.3 91.99 117.05 100.24 C118.8 108.49 118.8 122.75 120.05 134.75 C121.3 146.76 124.55 158.76 124.55 172.27 C124.55 185.77 124.05 208.53 120.05 215.79 C116.05 223.04 104.29 228.04 100.54 215.79 Z" fill="#eae7dd" fill-opacity="0.9"/><path d="M129.05 127.25 C130.05 134.75 134.55 157.51 135.05 172.27 C135.55 187.02 132.55 208.53 132.05 215.79" fill="none" stroke="#b9937e" stroke-width="4" stroke-linecap="round" stroke-linejoin="round" stroke-opacity="0.55"/></g><ellipse cx="130.55" cy="114.5" rx="12.5" ry="9.5" fill="#efede4" stroke="#cbbcb0" stroke-width="1.3"/></g></svg><svg x="1587.8" y="712.8" width="256.3" height="213.1" viewBox="0 0 256.3 213.1" overflow="hidden"><rect width="256.3" height="213.1" fill="#cfc8c0"/><g filter="url(#soft)"><rect x="-4" y="-4" width="265" height="221.5" fill="#e8e5da" /><g filter="url(#m1R)"><path d="M-1.8 19.21 C2.2 -11.8 13.21 30.21 22.21 29.71 C31.21 29.21 44.72 21.46 52.22 16.21 C59.72 10.95 56.47 1.2 67.23 -1.8 C77.98 -4.8 107.99 -8.3 116.75 -1.8 C125.5 4.7 120.75 24.21 119.75 37.21 C118.75 50.22 114 64.73 110.74 76.23 C107.49 87.74 99.99 97.74 100.24 106.24 C100.49 114.75 105.24 121.25 112.24 127.25 C119.25 133.25 134.75 136.75 142.26 142.26 C149.76 147.76 149.76 156.51 157.26 160.26 C164.77 164.02 177.27 166.27 187.27 164.77 C197.28 163.27 208.53 154.51 217.29 151.26 C226.04 148.01 233.04 149.76 239.8 145.26 C246.55 140.76 254.55 112.49 257.8 124.25 C261.05 136 302.57 200.53 259.3 215.79 C216.04 231.04 41.72 248.55 -1.8 215.79 C-45.32 183.02 -5.8 50.22 -1.8 19.21 Z" fill="#d8d4d7"/><path d="M142.26 112.24 C146.01 104.74 161.01 79.73 164.77 67.23 C168.52 54.72 166.14 45.47 164.77 37.21 C163.39 28.96 157.89 20.96 156.51 17.71" fill="none" stroke="#d8d4d7" stroke-width="34" stroke-linecap="round" stroke-linejoin="round" stroke-opacity="1"/><path d="M157.26 142.26 C161.01 136.25 173.77 117 179.77 106.24 C185.77 95.49 191.03 82.48 193.28 77.73" fill="none" stroke="#d8d4d7" stroke-width="14" stroke-linecap="round" stroke-linejoin="round" stroke-opacity="1"/><path d="M179.77 157.26 C184.02 151.76 198.53 133 205.28 124.25 C212.03 115.5 217.79 107.99 220.29 104.74" fill="none" stroke="#d8d4d7" stroke-width="17" stroke-linecap="round" stroke-linejoin="round" stroke-opacity="1"/><path d="M226.29 157.26 C229.79 153.51 242.05 139.76 247.3 134.75 C252.55 129.75 256.05 128.5 257.8 127.25" fill="none" stroke="#d8d4d7" stroke-width="20" stroke-linecap="round" stroke-linejoin="round" stroke-opacity="1"/><path d="M122.75 97.24 C124.75 92.74 132.25 76.73 134.75 70.23 C137.25 63.73 137.25 60.22 137.76 58.22" fill="none" stroke="#d8d4d7" stroke-width="14" stroke-linecap="round" stroke-linejoin="round" stroke-opacity="1"/></g><g filter="url(#b3)"><path d="M-1.8 179.77 C0.95 175.02 9.45 181.27 14.71 187.27 C19.96 193.28 32.46 211.03 29.71 215.79 C26.96 220.54 3.45 221.79 -1.8 215.79 C-7.05 209.78 -4.55 184.52 -1.8 179.77 Z" fill="#c2a08c" fill-opacity="0.75"/></g></g></svg><svg x="1325" y="931.3" width="257" height="213.8" viewBox="0 0 257 213.8" overflow="hidden"><rect width="257" height="213.8" fill="#cfc8c0"/><g filter="url(#soft)"><rect x="-4" y="-4" width="265" height="221.5" fill="#c6b1a3" /><g filter="url(#m2L)"><rect x="-3" y="-3" width="263" height="219.5" fill="#c6b1a3" /></g><g filter="url(#b6)"><path d="M-1.5 176.32 C8.75 168.57 39.77 167.57 60.02 168.82 C80.28 170.07 97.54 180.07 120.05 183.82 C142.56 187.58 171.82 192.58 195.08 191.33 C218.34 190.08 248.85 172.32 259.6 176.32 C270.36 180.32 303.12 208.83 259.6 215.34 C216.09 221.84 42.02 221.84 -1.5 215.34 C-45.02 208.83 -11.75 184.07 -1.5 176.32 Z" fill="#b3a7a8" fill-opacity="0.55"/><path d="M120.05 63.78 C123.8 53.77 144.56 48.77 150.06 56.27 C155.56 63.78 156.81 98.79 153.06 108.79 C149.31 118.8 133.05 123.8 127.55 116.3 C122.05 108.79 116.3 73.78 120.05 63.78 Z" fill="#d6d3da" fill-opacity="0.6"/><path d="M60.02 71.28 C63.53 59.27 84.53 58.02 90.04 66.78 C95.54 75.53 96.54 111.79 93.04 123.8 C89.54 135.8 74.53 147.56 69.03 138.81 C63.53 130.05 56.52 83.28 60.02 71.28 Z" fill="#d6d3da" fill-opacity="0.45"/></g><g filter="url(#r2L)"><path d="M34.51 -2.25 C71.28 -5 222.09 -11.5 259.6 -2.25 C297.12 7 262.35 41.77 259.6 53.27 C256.85 64.78 247.85 68.53 243.1 66.78 C238.35 65.03 236.59 49.27 231.09 42.77 C225.59 36.26 218.59 31.26 210.08 27.76 C201.58 24.26 188.83 22.01 180.07 21.76 C171.32 21.51 165.07 26.76 157.56 26.26 C150.06 25.76 141.31 16.76 135.05 18.76 C128.8 20.76 124.55 32.76 120.05 38.27 C115.55 43.77 111.04 55.02 108.04 51.77 C105.04 48.52 105.04 26.01 102.04 18.76 C99.04 11.5 95.54 9 90.04 8.25 C84.53 7.5 75.28 12.76 69.03 14.26 C62.78 15.76 56.52 13.26 52.52 17.26 C48.52 21.26 47.77 35.51 45.02 38.27 C42.27 41.02 37.01 37.77 36.01 33.76 C35.01 29.76 39.27 20.26 39.02 14.26 C38.77 8.25 -2.25 0.5 34.51 -2.25 Z" fill="#e9e6dc"/><path d="M243.1 66.78 C244.1 71.28 249.6 85.53 249.1 93.79 C248.6 102.04 242.1 110.54 240.1 116.3 C238.1 122.05 237.6 126.3 237.09 128.3" fill="none" stroke="#e9e6dc" stroke-width="6" stroke-linecap="round" stroke-linejoin="round" stroke-opacity="1"/><path d="M37.52 33.76 L30.01 56.27" fill="none" stroke="#e9e6dc" stroke-width="5" stroke-linecap="round" stroke-linejoin="round" stroke-opacity="1"/><path d="M108.04 51.77 C107.54 56.27 105.29 70.28 105.04 78.78 C104.79 87.28 106.29 98.79 106.54 102.79" fill="none" stroke="#e9e6dc" stroke-width="6" stroke-linecap="round" stroke-linejoin="round" stroke-opacity="1"/></g><g filter="url(#g2L)"><path d="M3 12.76 C6.25 13.01 17.26 11.75 22.51 14.26 C27.76 16.76 33.01 22.01 34.51 27.76 C36.01 33.51 34.01 43.52 31.51 48.77 C29.01 54.02 21.51 57.52 19.51 59.27" fill="none" stroke="#93684a" stroke-width="7.6" stroke-linecap="round" stroke-linejoin="round" stroke-opacity="1"/><path d="M15.01 66.78 C16.51 71.28 19.76 85.53 24.01 93.79 C28.26 102.04 35.26 110.79 40.52 116.3 C45.77 121.8 52.27 122.8 55.52 126.8 C58.77 130.8 59.27 138.06 60.02 140.31" fill="none" stroke="#93684a" stroke-width="7.6" stroke-linecap="round" stroke-linejoin="round" stroke-opacity="1"/><path d="M36.01 63.78 C37.52 68.28 41.77 82.53 45.02 90.79 C48.27 99.04 52.52 107.04 55.52 113.3 C58.52 119.55 61.77 125.8 63.03 128.3" fill="none" stroke="#93684a" stroke-width="7.6" stroke-linecap="round" stroke-linejoin="round" stroke-opacity="1"/><path d="M57.02 15.76 C56.02 20.01 53.77 34.01 51.02 41.27 C48.27 48.52 42.27 56.27 40.52 59.27" fill="none" stroke="#93684a" stroke-width="7.6" stroke-linecap="round" stroke-linejoin="round" stroke-opacity="1"/><path d="M69.03 14.26 L63.03 33.76" fill="none" stroke="#93684a" stroke-width="7.6" stroke-linecap="round" stroke-linejoin="round" stroke-opacity="1"/><path d="M99.04 14.26 C100.04 17.51 105.54 27.26 105.04 33.76 C104.54 40.27 98.54 48.02 96.04 53.27 C93.54 58.52 91.04 63.28 90.04 65.28" fill="none" stroke="#93684a" stroke-width="7.6" stroke-linecap="round" stroke-linejoin="round" stroke-opacity="1"/><path d="M117.05 33.76 C116.3 38.77 112.8 53.77 112.55 63.78 C112.29 73.78 115.55 86.53 115.55 93.79 C115.55 101.04 113.05 105.04 112.55 107.29" fill="none" stroke="#93684a" stroke-width="7.6" stroke-linecap="round" stroke-linejoin="round" stroke-opacity="1"/><path d="M186.07 29.26 C188.83 30.76 199.08 33.76 202.58 38.27 C206.08 42.77 204.33 51.52 207.08 56.27 C209.83 61.02 214.84 62.53 219.09 66.78 C223.34 71.03 231.09 74.78 232.59 81.78 C234.09 88.79 229.34 101.04 228.09 108.79 C226.84 116.55 223.09 123.3 225.09 128.3 C227.09 133.3 234.59 137.56 240.1 138.81 C245.6 140.06 255.1 136.3 258.1 135.8" fill="none" stroke="#93684a" stroke-width="7.6" stroke-linecap="round" stroke-linejoin="round" stroke-opacity="1"/><path d="M1.5 111.79 C3.75 113.8 10.25 119.8 15.01 123.8 C19.76 127.8 25.01 132.05 30.01 135.8 C35.01 139.56 42.52 144.56 45.02 146.31" fill="none" stroke="#93684a" stroke-width="7.6" stroke-linecap="round" stroke-linejoin="round" stroke-opacity="1"/><path d="M0 147.81 C2.5 148.56 11.75 150.06 15.01 152.31 C18.26 154.56 20.76 159.06 19.51 161.31 C18.26 163.57 10.75 164.94 7.5 165.82 C4.25 166.69 1.25 166.44 0 166.57" fill="none" stroke="#93684a" stroke-width="7.6" stroke-linecap="round" stroke-linejoin="round" stroke-opacity="1"/><path d="M135.05 23.26 L126.05 33.76" fill="none" stroke="#93684a" stroke-width="7.6" stroke-linecap="round" stroke-linejoin="round" stroke-opacity="1"/><path d="M165.07 29.26 L180.07 33.76" fill="none" stroke="#93684a" stroke-width="7.6" stroke-linecap="round" stroke-linejoin="round" stroke-opacity="1"/><path d="M3 12.76 C6.25 13.01 17.26 11.75 22.51 14.26 C27.76 16.76 33.01 22.01 34.51 27.76 C36.01 33.51 34.01 43.52 31.51 48.77 C29.01 54.02 21.51 57.52 19.51 59.27" fill="none" stroke="#dac9ac" stroke-width="3.6" stroke-dasharray="2.1 1.7"/><path d="M15.01 66.78 C16.51 71.28 19.76 85.53 24.01 93.79 C28.26 102.04 35.26 110.79 40.52 116.3 C45.77 121.8 52.27 122.8 55.52 126.8 C58.77 130.8 59.27 138.06 60.02 140.31" fill="none" stroke="#dac9ac" stroke-width="3.6" stroke-dasharray="2.1 1.7"/><path d="M36.01 63.78 C37.52 68.28 41.77 82.53 45.02 90.79 C48.27 99.04 52.52 107.04 55.52 113.3 C58.52 119.55 61.77 125.8 63.03 128.3" fill="none" stroke="#dac9ac" stroke-width="3.6" stroke-dasharray="2.1 1.7"/><path d="M57.02 15.76 C56.02 20.01 53.77 34.01 51.02 41.27 C48.27 48.52 42.27 56.27 40.52 59.27" fill="none" stroke="#dac9ac" stroke-width="3.6" stroke-dasharray="2.1 1.7"/><path d="M69.03 14.26 L63.03 33.76" fill="none" stroke="#dac9ac" stroke-width="3.6" stroke-dasharray="2.1 1.7"/><path d="M99.04 14.26 C100.04 17.51 105.54 27.26 105.04 33.76 C104.54 40.27 98.54 48.02 96.04 53.27 C93.54 58.52 91.04 63.28 90.04 65.28" fill="none" stroke="#dac9ac" stroke-width="3.6" stroke-dasharray="2.1 1.7"/><path d="M117.05 33.76 C116.3 38.77 112.8 53.77 112.55 63.78 C112.29 73.78 115.55 86.53 115.55 93.79 C115.55 101.04 113.05 105.04 112.55 107.29" fill="none" stroke="#dac9ac" stroke-width="3.6" stroke-dasharray="2.1 1.7"/><path d="M186.07 29.26 C188.83 30.76 199.08 33.76 202.58 38.27 C206.08 42.77 204.33 51.52 207.08 56.27 C209.83 61.02 214.84 62.53 219.09 66.78 C223.34 71.03 231.09 74.78 232.59 81.78 C234.09 88.79 229.34 101.04 228.09 108.79 C226.84 116.55 223.09 123.3 225.09 128.3 C227.09 133.3 234.59 137.56 240.1 138.81 C245.6 140.06 255.1 136.3 258.1 135.8" fill="none" stroke="#dac9ac" stroke-width="3.6" stroke-dasharray="2.1 1.7"/><path d="M1.5 111.79 C3.75 113.8 10.25 119.8 15.01 123.8 C19.76 127.8 25.01 132.05 30.01 135.8 C35.01 139.56 42.52 144.56 45.02 146.31" fill="none" stroke="#dac9ac" stroke-width="3.6" stroke-dasharray="2.1 1.7"/><path d="M0 147.81 C2.5 148.56 11.75 150.06 15.01 152.31 C18.26 154.56 20.76 159.06 19.51 161.31 C18.26 163.57 10.75 164.94 7.5 165.82 C4.25 166.69 1.25 166.44 0 166.57" fill="none" stroke="#dac9ac" stroke-width="3.6" stroke-dasharray="2.1 1.7"/><path d="M135.05 23.26 L126.05 33.76" fill="none" stroke="#dac9ac" stroke-width="3.6" stroke-dasharray="2.1 1.7"/><path d="M165.07 29.26 L180.07 33.76" fill="none" stroke="#dac9ac" stroke-width="3.6" stroke-dasharray="2.1 1.7"/><ellipse cx="96.04" cy="116.3" rx="6" ry="7" transform="rotate(0 96.04 116.3)" fill="#e6dccd" stroke="#93684a" stroke-width="5.5"/><ellipse cx="96.04" cy="116.3" rx="6" ry="7" transform="rotate(0 96.04 116.3)" fill="none" stroke="#dac9ac" stroke-width="2.6" stroke-dasharray="2 1.8"/><ellipse cx="114.8" cy="156.81" rx="10" ry="7.5" transform="rotate(0 114.8 156.81)" fill="#e6dccd" stroke="#93684a" stroke-width="5.5"/><ellipse cx="114.8" cy="156.81" rx="10" ry="7.5" transform="rotate(0 114.8 156.81)" fill="none" stroke="#dac9ac" stroke-width="2.6" stroke-dasharray="2 1.8"/><ellipse cx="152.31" cy="149.31" rx="12" ry="15" transform="rotate(25 152.31 149.31)" fill="#e6dccd" stroke="#93684a" stroke-width="5.5"/><ellipse cx="152.31" cy="149.31" rx="12" ry="15" transform="rotate(25 152.31 149.31)" fill="none" stroke="#dac9ac" stroke-width="2.6" stroke-dasharray="2 1.8"/><ellipse cx="201.08" cy="143.31" rx="13" ry="19" transform="rotate(20 201.08 143.31)" fill="#e6dccd" stroke="#93684a" stroke-width="5.5"/><ellipse cx="201.08" cy="143.31" rx="13" ry="19" transform="rotate(20 201.08 143.31)" fill="none" stroke="#dac9ac" stroke-width="2.6" stroke-dasharray="2 1.8"/><ellipse cx="171.07" cy="86.28" rx="13" ry="20" transform="rotate(15 171.07 86.28)" fill="#e6dccd" stroke="#93684a" stroke-width="5.5"/><ellipse cx="171.07" cy="86.28" rx="13" ry="20" transform="rotate(15 171.07 86.28)" fill="none" stroke="#dac9ac" stroke-width="2.6" stroke-dasharray="2 1.8"/><ellipse cx="57.02" cy="131.3" rx="6" ry="10" transform="rotate(0 57.02 131.3)" fill="#e6dccd" stroke="#93684a" stroke-width="5.5"/><ellipse cx="57.02" cy="131.3" rx="6" ry="10" transform="rotate(0 57.02 131.3)" fill="none" stroke="#dac9ac" stroke-width="2.6" stroke-dasharray="2 1.8"/></g></g></svg><svg x="1587.8" y="931.3" width="256.3" height="213.8" viewBox="0 0 256.3 213.8" overflow="hidden"><rect width="256.3" height="213.8" fill="#cfc8c0"/><g filter="url(#soft)"><rect x="-4" y="-4" width="265" height="221.5" fill="#cec0b7" /><g filter="url(#m2R)"><rect x="-4" y="-4" width="265" height="221.5" fill="#cec0b7" /></g><g filter="url(#b6)"><path d="M179.77 33.76 C184.77 25.01 210.03 16.26 217.29 26.26 C224.54 36.26 224.54 72.53 223.29 93.79 C222.04 115.05 215.04 146.31 209.78 153.81 C204.53 161.31 195.53 151.31 191.78 138.81 C188.03 126.3 189.28 96.29 187.27 78.78 C185.27 61.27 174.77 42.52 179.77 33.76 Z" fill="#cfd0da" fill-opacity="0.6"/></g><g filter="url(#g2R)"><path d="M82.23 -5.25 C83.48 3.25 84.98 30.51 89.74 45.77 C94.49 61.02 103.74 73.78 110.74 86.28 C117.75 98.79 125 109.54 131.75 120.8 C138.51 132.05 146.76 143.31 151.26 153.81 C155.76 164.32 157.26 175.07 158.76 183.82 C160.26 192.58 160.01 202.58 160.26 206.33" fill="none" stroke="#86603f" stroke-width="88" stroke-linecap="butt" stroke-linejoin="round" stroke-opacity="1"/><path d="M-3.3 137.3 C0.95 137.56 12.96 136.3 22.21 138.81 C31.46 141.31 42.22 146.06 52.22 152.31 C62.22 158.56 72.73 167.82 82.23 176.32 C91.74 184.82 102.74 196.58 109.24 203.33 C115.75 210.08 119.25 214.59 121.25 216.84" fill="none" stroke="#86603f" stroke-width="38" stroke-linecap="butt" stroke-linejoin="round" stroke-opacity="1"/><path d="M260.8 102.79 C257.55 105.04 245.8 111.29 241.3 116.3 C236.79 121.3 233.54 126.3 233.79 132.8 C234.04 139.31 238.3 149.06 242.8 155.31 C247.3 161.56 257.8 167.82 260.8 170.32" fill="none" stroke="#86603f" stroke-width="17" stroke-linecap="butt" stroke-linejoin="round" stroke-opacity="1"/><path d="M247.3 -5.25 C248.05 0 249.55 16.76 251.8 26.26 C254.05 35.76 259.3 47.52 260.8 51.77" fill="none" stroke="#86603f" stroke-width="26" stroke-linecap="butt" stroke-linejoin="round" stroke-opacity="1"/><path d="M-3.3 210.83 C0.95 209.83 14.71 203.83 22.21 204.83 C29.71 205.83 38.47 214.84 41.72 216.84" fill="none" stroke="#86603f" stroke-width="16" stroke-linecap="butt" stroke-linejoin="round" stroke-opacity="1"/><path d="M224.79 198.83 C228.54 196.83 241.3 188.58 247.3 186.82 C253.3 185.07 258.55 188.08 260.8 188.33" fill="none" stroke="#86603f" stroke-width="10" stroke-linecap="butt" stroke-linejoin="round" stroke-opacity="1"/><path d="M82.23 -5.25 C83.48 3.25 84.98 30.51 89.74 45.77 C94.49 61.02 103.74 73.78 110.74 86.28 C117.75 98.79 125 109.54 131.75 120.8 C138.51 132.05 146.76 143.31 151.26 153.81 C155.76 164.32 157.26 175.07 158.76 183.82 C160.26 192.58 160.01 202.58 160.26 206.33" fill="none" stroke="#cfba94" stroke-width="50" stroke-dasharray="5.5 3.2"/><path d="M-3.3 137.3 C0.95 137.56 12.96 136.3 22.21 138.81 C31.46 141.31 42.22 146.06 52.22 152.31 C62.22 158.56 72.73 167.82 82.23 176.32 C91.74 184.82 102.74 196.58 109.24 203.33 C115.75 210.08 119.25 214.59 121.25 216.84" fill="none" stroke="#cfba94" stroke-width="19" stroke-dasharray="5.5 3.2"/><path d="M260.8 102.79 C257.55 105.04 245.8 111.29 241.3 116.3 C236.79 121.3 233.54 126.3 233.79 132.8 C234.04 139.31 238.3 149.06 242.8 155.31 C247.3 161.56 257.8 167.82 260.8 170.32" fill="none" stroke="#cfba94" stroke-width="8" stroke-dasharray="5.5 3.2"/><path d="M247.3 -5.25 C248.05 0 249.55 16.76 251.8 26.26 C254.05 35.76 259.3 47.52 260.8 51.77" fill="none" stroke="#cfba94" stroke-width="11" stroke-dasharray="5.5 3.2"/><path d="M-3.3 210.83 C0.95 209.83 14.71 203.83 22.21 204.83 C29.71 205.83 38.47 214.84 41.72 216.84" fill="none" stroke="#cfba94" stroke-width="7" stroke-dasharray="5.5 3.2"/><path d="M82.23 -5.25 C83.48 3.25 84.98 30.51 89.74 45.77 C94.49 61.02 103.74 73.78 110.74 86.28 C117.75 98.79 128.25 115.05 131.75 120.8" fill="none" stroke="#e6ddcb" stroke-width="11" stroke-linecap="round" stroke-linejoin="round" stroke-opacity="1"/><path d="M82.23 -5.25 C83.48 3.25 84.98 30.51 89.74 45.77 C94.49 61.02 103.74 73.78 110.74 86.28 C117.75 98.79 125 109.54 131.75 120.8 C138.51 132.05 146.76 143.31 151.26 153.81 C155.76 164.32 157.26 175.07 158.76 183.82 C160.26 192.58 160.01 202.58 160.26 206.33" fill="none" stroke="#86603f" stroke-width="13" stroke-linecap="butt" stroke-linejoin="round" stroke-opacity="1" stroke-dasharray="0 118 200"/><path d="M14.71 144.81 C18.46 145.68 29.71 147.06 37.21 150.06 C44.72 153.06 55.97 160.69 59.72 162.82" fill="none" stroke="#e6ddcb" stroke-width="11" stroke-linecap="round" stroke-linejoin="round" stroke-opacity="1"/><path d="M152.76 168.82 L157.26 186.82" fill="none" stroke="#e6ddcb" stroke-width="7" stroke-linecap="round" stroke-linejoin="round" stroke-opacity="1"/></g></g></svg><svg x="1325" y="1150.5" width="257" height="213.1" viewBox="0 0 257 213.1" overflow="hidden"><rect width="257" height="213.1" fill="#cfc8c0"/><g filter="url(#soft)"><linearGradient id="g3Lbg" x1="0" x2="1" y1="0" y2="0.3"><stop offset="0" stop-color="#d3d2c9"/><stop offset="1" stop-color="#e4e2d7"/></linearGradient><rect x="-4" y="-4" width="265" height="221.5" fill="url(#g3Lbg)" /><g filter="url(#m3L)"><path d="M-3 71.28 C1.25 46.52 12 68.9 22.51 67.53 C33.01 66.15 48.77 64.28 60.02 63.03 C71.28 61.77 78.78 59.77 90.04 60.02 C101.29 60.27 115.05 63.78 127.55 64.53 C140.06 65.28 153.81 63.03 165.07 64.53 C176.32 66.03 187.58 69.78 195.08 73.53 C202.58 77.28 199.33 83.78 210.08 87.03 C220.84 90.29 251.35 71.53 259.6 93.04 C267.86 114.55 303.37 195.58 259.6 216.09 C215.84 236.59 40.77 240.22 -3 216.09 C-46.77 191.95 -7.25 96.04 -3 71.28 Z" fill="#aaa299"/></g><g filter="url(#b6)"><path d="M0 94.54 C7.5 94.04 30.01 93.04 45.02 91.54 C60.02 90.04 75.03 87.03 90.04 85.53 C105.04 84.03 120.05 82.53 135.05 82.53 C150.06 82.53 167.57 82.03 180.07 85.53 C192.58 89.04 196.83 99.54 210.08 103.54 C223.34 107.54 251.35 108.54 259.6 109.54" fill="none" stroke="#8e7358" stroke-width="26" stroke-linecap="butt" stroke-linejoin="round" stroke-opacity="0.45"/><path d="M165.07 132.05 C171.32 135.8 190.08 149.56 202.58 154.56 C215.09 159.56 233.84 160.81 240.1 162.06" fill="none" stroke="#a88567" stroke-width="22" stroke-linecap="butt" stroke-linejoin="round" stroke-opacity="0.35"/><path d="M-3 132.05 C5 116.3 29.51 122.05 45.02 121.55 C60.52 121.05 72.53 125.3 90.04 129.05 C107.54 132.8 132.55 137.81 150.06 144.06 C167.57 150.31 176.82 159.81 195.08 166.57 C213.34 173.32 248.85 176.32 259.6 184.57 C270.36 192.83 303.37 210.83 259.6 216.09 C215.84 221.34 40.77 230.09 -3 216.09 C-46.77 202.08 -11 147.81 -3 132.05 Z" fill="#acb5be" fill-opacity="0.78"/><path d="M37.52 124.55 C43.77 123.55 65.03 119.8 75.03 118.55 C85.03 117.3 93.79 117.3 97.54 117.05" fill="none" stroke="#d9d4c8" stroke-width="6" stroke-linecap="round" stroke-linejoin="round" stroke-opacity="0.8"/></g><g filter="url(#s3L)"><rect x="0" y="0" width="257" height="213.5" fill="#000" /></g><radialGradient id="g3Ld"><stop offset="0" stop-color="#2a2222" stop-opacity="0.95"/><stop offset="1" stop-color="#2a2222" stop-opacity="0"/></radialGradient><ellipse cx="220.59" cy="212.79" rx="18" ry="7" fill="url(#g3Ld)"/></g></svg><svg x="1587.8" y="1150.5" width="256.3" height="213.1" viewBox="0 0 256.3 213.1" overflow="hidden"><rect width="256.3" height="213.1" fill="#cfc8c0"/><g filter="url(#soft)"><rect x="-4" y="-4" width="265" height="221.5" fill="#b2a79c" /><g filter="url(#m3R)"><rect x="-3" y="-3" width="263" height="219.5" fill="#b2a79c" /></g><g filter="url(#b6)"><path d="M124.25 -4.5 C144.01 -9.75 238.05 -9.25 260.8 -4.5 C283.56 0.25 270.56 18.26 260.8 24.01 C251.05 29.76 218.29 28.01 202.28 30.01 C186.27 32.01 174.77 36.51 164.77 36.01 C154.76 35.51 149.01 33.76 142.26 27.01 C135.5 20.26 104.49 0.75 124.25 -4.5 Z" fill="#ddd9ce" fill-opacity="0.95"/><path d="M-3.3 -4.5 C4.2 -11 37.46 -9 41.72 -4.5 C45.97 0 29.71 16.01 22.21 22.51 C14.71 29.01 0.95 39.02 -3.3 34.51 C-7.55 30.01 -10.8 2 -3.3 -4.5 Z" fill="#d9d5ca" fill-opacity="0.8"/></g></g></svg>
<path d="M1321.7 714.4 H1314.5 V924.5 H1321.7" stroke="#000" stroke-width="2.6" fill="none" />
<text transform="translate(1308.2 819.35) rotate(-90)" font-size="30.7" text-anchor="middle" font-weight="bold">Control</text>
<path d="M1321.7 932.9 H1314.5 V1143.7 H1321.7" stroke="#000" stroke-width="2.6" fill="none" />
<text transform="translate(1308.2 1038.2) rotate(-90)" font-size="30.7" text-anchor="middle" font-weight="bold">UC</text>
<path d="M1321.7 1152.1 H1314.5 V1362.2 H1321.7" stroke="#000" stroke-width="2.6" fill="none" />
<text transform="translate(1308.2 1257.05) rotate(-90)" font-size="30.7" text-anchor="middle" font-weight="bold">CD</text>
<rect x="1546" y="913.3" width="27.7" height="3.6" fill="#000" />
<rect x="1546" y="1132.5" width="27.7" height="3.6" fill="#000" />
<rect x="1546" y="1351" width="27.7" height="3.6" fill="#000" />
<rect x="1461" y="727" width="112.3" height="84" fill="none" stroke="#000" stroke-width="2.2" stroke-dasharray="10.5 6.5"/>
<rect x="1326.8" y="996.5" width="99.5" height="86.3" fill="none" stroke="#000" stroke-width="2.2" stroke-dasharray="10.5 6.5"/>
<rect x="1406.3" y="1205.3" width="83" height="70.5" fill="none" stroke="#000" stroke-width="2.2" stroke-dasharray="10.5 6.5"/>
<text x="1446" y="737.2" font-size="28" font-weight="bold">1</text>
<text x="1412.5" y="1108.3" font-size="28" font-weight="bold">2</text>
<text x="1389.5" y="1212" font-size="28" font-weight="bold">3</text>
<text x="1590" y="742" font-size="34" font-weight="bold">1</text>
<text x="1590" y="960.5" font-size="34" font-weight="bold">2</text>
<text x="1590" y="1179.5" font-size="34" font-weight="bold">3</text>
<rect x="1861.9" y="713.9" width="26.5" height="25.8" fill="#808080" stroke="#000" stroke-width="2.2" />
<text x="1895.8" y="732.5" font-size="24.5">Con (<tspan font-style="italic">n</tspan> = 4)</text>
<rect x="1861.9" y="746.4" width="26.5" height="25.8" fill="#ff9999" stroke="#000" stroke-width="2.2" />
<text x="1895.8" y="765.7" font-size="24.5">UC (<tspan font-style="italic">n</tspan> = 4)</text>
<rect x="1861.9" y="779.6" width="26.5" height="25.8" fill="#559ffb" stroke="#000" stroke-width="2.2" />
<text x="1895.8" y="798.9" font-size="24.5">CD (<tspan font-style="italic">n</tspan> = 4)</text>
<rect x="1925.1" y="1314.9" width="19.9" height="35.8" fill="#808080" stroke="#000" stroke-width="1.4" />
<rect x="1950.4" y="1106.7" width="20.3" height="244" fill="#ff9999" stroke="#000" stroke-width="1.4" />
<rect x="1975.7" y="1118.6" width="21.7" height="232.1" fill="#559ffb" stroke="#000" stroke-width="1.4" />
<line x1="1922.4" y1="921" x2="1922.4" y2="1351.6" stroke="#000" stroke-width="1.8" />
<line x1="1921.4" y1="1350.7" x2="1998.6" y2="1350.7" stroke="#000" stroke-width="1.8" />
<line x1="1998" y1="1350.7" x2="1998" y2="1354.5" stroke="#000" stroke-width="1.4" />
<line x1="1922.4" y1="1350.7" x2="1922.4" y2="1354.5" stroke="#000" stroke-width="1.4" />
<line x1="1919.4" y1="921.6" x2="1922.4" y2="921.6" stroke="#000" stroke-width="1.4" />
<text x="1920.5" y="931.1" font-size="24.5" text-anchor="end">3.5</text>
<line x1="1919.4" y1="984.3" x2="1922.4" y2="984.3" stroke="#000" stroke-width="1.4" />
<text x="1920.5" y="992.6" font-size="24.5" text-anchor="end">3</text>
<line x1="1919.4" y1="1045.5" x2="1922.4" y2="1045.5" stroke="#000" stroke-width="1.4" />
<text x="1920.5" y="1053.8" font-size="24.5" text-anchor="end">2.5</text>
<line x1="1919.4" y1="1106.1" x2="1922.4" y2="1106.1" stroke="#000" stroke-width="1.4" />
<text x="1920.5" y="1114.4" font-size="24.5" text-anchor="end">2</text>
<line x1="1919.4" y1="1167.4" x2="1922.4" y2="1167.4" stroke="#000" stroke-width="1.4" />
<text x="1920.5" y="1175.7" font-size="24.5" text-anchor="end">1.5</text>
<line x1="1919.4" y1="1228.2" x2="1922.4" y2="1228.2" stroke="#000" stroke-width="1.4" />
<text x="1920.5" y="1236.5" font-size="24.5" text-anchor="end">1</text>
<line x1="1919.4" y1="1289.4" x2="1922.4" y2="1289.4" stroke="#000" stroke-width="1.4" />
<text x="1920.5" y="1297.7" font-size="24.5" text-anchor="end">0.5</text>
<text x="1920.5" y="1354.2" font-size="24.5" text-anchor="end">0</text>
<line x1="1935.7" y1="1293.2" x2="1935.7" y2="1336.3" stroke="#000" stroke-width="1.5" />
<line x1="1933.1" y1="1293.2" x2="1938.3" y2="1293.2" stroke="#000" stroke-width="1.5" />
<line x1="1933.1" y1="1336.3" x2="1938.3" y2="1336.3" stroke="#000" stroke-width="1.5" />
<line x1="1960.4" y1="1019.8" x2="1960.4" y2="1192.9" stroke="#000" stroke-width="1.5" />
<line x1="1957.6" y1="1019.8" x2="1963.2" y2="1019.8" stroke="#000" stroke-width="1.5" />
<line x1="1957.6" y1="1192.9" x2="1963.2" y2="1192.9" stroke="#000" stroke-width="1.5" />
<line x1="1987.2" y1="1097.3" x2="1987.2" y2="1139.5" stroke="#000" stroke-width="1.5" />
<line x1="1984.4" y1="1097.3" x2="1990" y2="1097.3" stroke="#000" stroke-width="1.5" />
<line x1="1984.4" y1="1139.5" x2="1990" y2="1139.5" stroke="#000" stroke-width="1.5" />
<circle cx="1937.1" cy="1277.2" r="2.9" fill="#fff" stroke="#555" stroke-width="1.1" />
<circle cx="1929.7" cy="1326" r="2.9" fill="#fff" stroke="#555" stroke-width="1.1" />
<circle cx="1937" cy="1326" r="2.9" fill="#fff" stroke="#555" stroke-width="1.1" />
<circle cx="1941" cy="1326" r="2.9" fill="#fff" stroke="#555" stroke-width="1.1" />
<circle cx="1960" cy="982.6" r="2.9" fill="#fff" stroke="#555" stroke-width="1.1" />
<circle cx="1952.6" cy="1105.3" r="2.9" fill="#fff" stroke="#555" stroke-width="1.1" />
<circle cx="1967.3" cy="1105.3" r="2.9" fill="#fff" stroke="#555" stroke-width="1.1" />
<circle cx="1960.4" cy="1228.2" r="2.9" fill="#fff" stroke="#555" stroke-width="1.1" />
<circle cx="1978.3" cy="1105.3" r="2.9" fill="#fff" stroke="#555" stroke-width="1.1" />
<circle cx="1991" cy="1105.3" r="2.9" fill="#fff" stroke="#555" stroke-width="1.1" />
<circle cx="1994.2" cy="1105.3" r="2.9" fill="#fff" stroke="#555" stroke-width="1.1" />
<circle cx="1978.3" cy="1153.9" r="2.9" fill="#fff" stroke="#555" stroke-width="1.1" />
<path d="M1935.1 940.8 V934 H1986.1 V940.8" stroke="#000" stroke-width="2.3" fill="none" />
<path d="M1935.7 1267.2 V967.6 H1960.4 V973.7" stroke="#000" stroke-width="2.3" fill="none" />
<text x="1926" y="927.2" font-size="20.6"><tspan font-style="italic">P</tspan> = 2.85x10<tspan font-size="12.36" dy="-7.83">-5</tspan></text>
<text x="1926" y="961.9" font-size="20.6"><tspan font-style="italic">P</tspan> = 0.0068</text>
<text transform="translate(1873.8 1136) rotate(-90)" font-size="32.3" text-anchor="middle">TRIM40 IHC Score</text>
</g>
<g id="panel_g">
<text x="-0.5" y="1359.5" font-size="51" font-weight="bold">g</text>
<rect x="50.2" y="1436.5" width="48.96" height="49" fill="#efafad" />
<rect x="50.2" y="1485.2" width="48.96" height="49.1" fill="#f0b2b0" />
<rect x="98.86" y="1436.5" width="48.96" height="49" fill="#eea7a6" />
<rect x="98.86" y="1485.2" width="48.96" height="49.1" fill="#eca09e" />
<rect x="147.52" y="1436.5" width="48.96" height="49" fill="#f4c8c6" />
<rect x="147.52" y="1485.2" width="48.96" height="49.1" fill="#eea7a6" />
<rect x="196.18" y="1436.5" width="48.96" height="49" fill="#f4c8c6" />
<rect x="196.18" y="1485.2" width="48.96" height="49.1" fill="#f6d0cf" />
<rect x="244.84" y="1436.5" width="48.96" height="49" fill="#eea7a6" />
<rect x="244.84" y="1485.2" width="48.96" height="49.1" fill="#f2bdbc" />
<rect x="293.5" y="1436.5" width="48.96" height="49" fill="#eea7a6" />
<rect x="293.5" y="1485.2" width="48.96" height="49.1" fill="#eb9c9a" />
<rect x="342.16" y="1436.5" width="48.96" height="49" fill="#f4c8c6" />
<rect x="342.16" y="1485.2" width="48.96" height="49.1" fill="#f1bab9" />
<rect x="390.82" y="1436.5" width="48.96" height="49" fill="#f2bdbc" />
<rect x="390.82" y="1485.2" width="48.96" height="49.1" fill="#f4c8c6" />
<rect x="439.48" y="1436.5" width="48.96" height="49" fill="#e26d6a" />
<rect x="439.48" y="1485.2" width="48.96" height="49.1" fill="#eda4a3" />
<rect x="488.15" y="1436.5" width="48.96" height="49" fill="#e88a88" />
<rect x="488.15" y="1485.2" width="48.96" height="49.1" fill="#f5cccb" />
<rect x="536.81" y="1436.5" width="48.96" height="49" fill="#f0b6b4" />
<rect x="536.81" y="1485.2" width="48.96" height="49.1" fill="#f9dfde" />
<rect x="585.47" y="1436.5" width="48.96" height="49" fill="#eb9c9a" />
<rect x="585.47" y="1485.2" width="48.96" height="49.1" fill="#eeaaa9" />
<rect x="634.13" y="1436.5" width="48.96" height="49" fill="#e88d8b" />
<rect x="634.13" y="1485.2" width="48.96" height="49.1" fill="#e88a88" />
<rect x="682.79" y="1436.5" width="48.96" height="49" fill="#e26d6a" />
<rect x="682.79" y="1485.2" width="48.96" height="49.1" fill="#e26d6a" />
<rect x="731.45" y="1436.5" width="48.96" height="49" fill="#eb9997" />
<rect x="731.45" y="1485.2" width="48.96" height="49.1" fill="#e26d6a" />
<rect x="780.11" y="1436.5" width="48.96" height="49" fill="#f2bdbc" />
<rect x="780.11" y="1485.2" width="48.96" height="49.1" fill="#e68380" />
<rect x="828.77" y="1436.5" width="48.96" height="49" fill="#f4c8c6" />
<rect x="828.77" y="1485.2" width="48.96" height="49.1" fill="#e88d8b" />
<rect x="877.43" y="1436.5" width="48.96" height="49" fill="#eeaaa9" />
<rect x="877.43" y="1485.2" width="48.96" height="49.1" fill="#eca09e" />
<rect x="926.09" y="1436.5" width="48.96" height="49" fill="#f3c2c0" />
<rect x="926.09" y="1485.2" width="48.96" height="49.1" fill="#f3c2c0" />
<rect x="974.75" y="1436.5" width="48.96" height="49" fill="#f3c2c0" />
<rect x="974.75" y="1485.2" width="48.96" height="49.1" fill="#f8dada" />
<rect x="1023.41" y="1436.5" width="48.96" height="49" fill="#f6d3d2" />
<rect x="1023.41" y="1485.2" width="48.96" height="49.1" fill="#f5cfce" />
<rect x="1072.07" y="1436.5" width="48.96" height="49" fill="#efafad" />
<rect x="1072.07" y="1485.2" width="48.96" height="49.1" fill="#e68380" />
<rect x="1120.73" y="1436.5" width="48.96" height="49" fill="#e26d6a" />
<rect x="1120.73" y="1485.2" width="48.96" height="49.1" fill="#e26d6a" />
<rect x="1169.39" y="1436.5" width="48.96" height="49" fill="#f0b6b4" />
<rect x="1169.39" y="1485.2" width="48.96" height="49.1" fill="#efafad" />
<rect x="1218.05" y="1436.5" width="48.96" height="49" fill="#f2bdbc" />
<rect x="1218.05" y="1485.2" width="48.96" height="49.1" fill="#e88a88" />
<rect x="1266.72" y="1436.5" width="48.96" height="49" fill="#e88d8b" />
<rect x="1266.72" y="1485.2" width="48.96" height="49.1" fill="#eb9997" />
<rect x="1315.38" y="1436.5" width="48.96" height="49" fill="#efafad" />
<rect x="1315.38" y="1485.2" width="48.96" height="49.1" fill="#f0b6b4" />
<rect x="1364.04" y="1436.5" width="48.96" height="49" fill="#f0b6b4" />
<rect x="1364.04" y="1485.2" width="48.96" height="49.1" fill="#efafad" />
<rect x="1412.7" y="1436.5" width="48.96" height="49" fill="#e26d6a" />
<rect x="1412.7" y="1485.2" width="48.96" height="49.1" fill="#e26d6a" />
<rect x="1461.36" y="1436.5" width="48.96" height="49" fill="#172b98" />
<rect x="1461.36" y="1485.2" width="48.96" height="49.1" fill="#172b98" />
<rect x="1510.02" y="1436.5" width="48.96" height="49" fill="#6f7cbf" />
<rect x="1510.02" y="1485.2" width="48.96" height="49.1" fill="#172b98" />
<rect x="1558.68" y="1436.5" width="48.96" height="49" fill="#172b98" />
<rect x="1558.68" y="1485.2" width="48.96" height="49.1" fill="#172b98" />
<rect x="1607.34" y="1436.5" width="48.96" height="49" fill="#b5bbde" />
<rect x="1607.34" y="1485.2" width="48.96" height="49.1" fill="#a9b1d9" />
<path d="M50.2 1485.2 H1656M98.86 1436.5 V1534.3M147.52 1436.5 V1534.3M196.18 1436.5 V1534.3M244.84 1436.5 V1534.3M293.5 1436.5 V1534.3M342.16 1436.5 V1534.3M390.82 1436.5 V1534.3M439.48 1436.5 V1534.3M488.15 1436.5 V1534.3M536.81 1436.5 V1534.3M585.47 1436.5 V1534.3M634.13 1436.5 V1534.3M682.79 1436.5 V1534.3M731.45 1436.5 V1534.3M780.11 1436.5 V1534.3M828.77 1436.5 V1534.3M877.43 1436.5 V1534.3M926.09 1436.5 V1534.3M974.75 1436.5 V1534.3M1023.41 1436.5 V1534.3M1072.07 1436.5 V1534.3M1120.73 1436.5 V1534.3M1169.39 1436.5 V1534.3M1218.05 1436.5 V1534.3M1266.72 1436.5 V1534.3M1315.38 1436.5 V1534.3M1364.04 1436.5 V1534.3M1412.7 1436.5 V1534.3M1461.36 1436.5 V1534.3M1510.02 1436.5 V1534.3M1558.68 1436.5 V1534.3M1607.34 1436.5 V1534.3" stroke="#fff" stroke-width="1.3" fill="none" stroke-opacity="0.85"/>
<rect x="50.2" y="1436.5" width="1605.8" height="97.8" fill="none" stroke="#1a1a1a" stroke-width="1.6" />
<text transform="translate(86.1 1540.4) rotate(-90)" font-size="24.2" text-anchor="end" font-style="italic">DDX60</text>
<text transform="translate(134.6 1540.4) rotate(-90)" font-size="24.2" text-anchor="end" font-style="italic">HERC6</text>
<text transform="translate(183.1 1540.4) rotate(-90)" font-size="24.2" text-anchor="end" font-style="italic">IFI44</text>
<text transform="translate(231.6 1540.4) rotate(-90)" font-size="24.2" text-anchor="end" font-style="italic">IFI44L</text>
<text transform="translate(280.1 1540.4) rotate(-90)" font-size="24.2" text-anchor="end" font-style="italic">IFIH1</text>
<text transform="translate(328.6 1540.4) rotate(-90)" font-size="24.2" text-anchor="end" font-style="italic">IFIT1</text>
<text transform="translate(377.1 1540.4) rotate(-90)" font-size="24.2" text-anchor="end" font-style="italic">IFIT3</text>
<text transform="translate(425.6 1540.4) rotate(-90)" font-size="24.2" text-anchor="end" font-style="italic">IFIT5</text>
<text transform="translate(474.1 1540.4) rotate(-90)" font-size="24.2" text-anchor="end" font-style="italic">IFITM1</text>
<text transform="translate(522.6 1540.4) rotate(-90)" font-size="24.2" text-anchor="end" font-style="italic">IFITM3</text>
<text transform="translate(571.1 1540.4) rotate(-90)" font-size="24.2" text-anchor="end" font-style="italic">IRF7</text>
<text transform="translate(619.6 1540.4) rotate(-90)" font-size="24.2" text-anchor="end" font-style="italic">IRF9</text>
<text transform="translate(668.1 1540.4) rotate(-90)" font-size="24.2" text-anchor="end" font-style="italic">OAS1</text>
<text transform="translate(716.6 1540.4) rotate(-90)" font-size="24.2" text-anchor="end" font-style="italic">OAS2</text>
<text transform="translate(765.1 1540.4) rotate(-90)" font-size="24.2" text-anchor="end" font-style="italic">OAS3</text>
<text transform="translate(813.6 1540.4) rotate(-90)" font-size="24.2" text-anchor="end" font-style="italic">SAMD9</text>
<text transform="translate(862.1 1540.4) rotate(-90)" font-size="24.2" text-anchor="end" font-style="italic">SAMHD1</text>
<text transform="translate(910.6 1540.4) rotate(-90)" font-size="24.2" text-anchor="end" font-style="italic">UBE2L6</text>
<text transform="translate(959.1 1540.4) rotate(-90)" font-size="24.2" text-anchor="end" font-style="italic">USP18</text>
<text transform="translate(1007.6 1540.4) rotate(-90)" font-size="24.2" text-anchor="end" font-style="italic">XAF1</text>
<text transform="translate(1056.1 1540.4) rotate(-90)" font-size="24.2" text-anchor="end" font-style="italic">CFB</text>
<text transform="translate(1104.6 1540.4) rotate(-90)" font-size="24.2" text-anchor="end" font-style="italic">MTPN</text>
<text transform="translate(1153.1 1540.4) rotate(-90)" font-size="24.2" text-anchor="end" font-style="italic">MX1</text>
<text transform="translate(1201.6 1540.4) rotate(-90)" font-size="24.2" text-anchor="end" font-style="italic">MX2</text>
<text transform="translate(1250.1 1540.4) rotate(-90)" font-size="24.2" text-anchor="end" font-style="italic">PARP14</text>
<text transform="translate(1298.6 1540.4) rotate(-90)" font-size="24.2" text-anchor="end" font-style="italic">PARP9</text>
<text transform="translate(1347.1 1540.4) rotate(-90)" font-size="24.2" text-anchor="end" font-style="italic">STAT1</text>
<text transform="translate(1395.6 1540.4) rotate(-90)" font-size="24.2" text-anchor="end" font-style="italic">TPPP</text>
<text transform="translate(1444.1 1540.4) rotate(-90)" font-size="24.2" text-anchor="end" font-style="italic">TUBA4A</text>
<text transform="translate(1492.6 1540.4) rotate(-90)" font-size="24.2" text-anchor="end" font-style="italic">CLDN2</text>
<text transform="translate(1541.1 1540.4) rotate(-90)" font-size="24.2" text-anchor="end" font-style="italic">KRT17</text>
<text transform="translate(1589.6 1540.4) rotate(-90)" font-size="24.2" text-anchor="end" font-style="italic">LUZP6</text>
<text transform="translate(1638.1 1540.4) rotate(-90)" font-size="24.2" text-anchor="end" font-style="italic">TUBB</text>
<text x="42" y="1466.9" font-size="26" text-anchor="end">#1</text>
<text x="42" y="1510.8" font-size="26" text-anchor="end">#2</text>
<path d="M69.7 1430.8 V1423 H1005.3 V1430.8" stroke="#000" stroke-width="2.6" fill="none" />
<path d="M1029.2 1430.8 V1423 H1633.5 V1430.8" stroke="#000" stroke-width="2.6" fill="none" />
<text x="537.8" y="1416.5" font-size="27.5" text-anchor="middle" font-weight="bold">ISG</text>
<text x="1336" y="1410.5" font-size="27.8" text-anchor="middle" font-weight="bold">Cytoskeleton</text>
<linearGradient id="cb" x1="0" x2="1" y1="0" y2="0"><stop offset="0" stop-color="#172b98"/><stop offset="0.22" stop-color="#5b69b9"/><stop offset="0.5" stop-color="#ffffff"/><stop offset="0.78" stop-color="#f1b4b3"/><stop offset="1" stop-color="#e26d6a"/></linearGradient>
<rect x="1797.5" y="1484.7" width="154.5" height="36.5" fill="url(#cb)" stroke="#000" stroke-width="1.5" />
<text x="1802" y="1547" font-size="24" text-anchor="middle">-1.5</text>
<text x="1953" y="1547" font-size="24" text-anchor="middle">1.5</text>
<text x="1723.4" y="1458.3" font-size="27.4">Log<tspan font-size="17">2</tspan>(TRIM40-O.E/Con)</text>
</g>
<g id="panel_h">
<text x="6" y="1678" font-size="51" font-weight="bold">h</text>
<text x="93.3" y="1708.2" font-size="27.8" font-weight="bold">ISG</text>
<text x="457.9" y="1702" font-size="27.9" font-weight="bold">Cytoskeleton</text>
<text transform="translate(44.5 1900.3) rotate(-90)" font-size="31.4" text-anchor="middle">Relative mRNA levels</text>
<line x1="93.2" y1="1750.5" x2="93.2" y2="2076.2" stroke="#000" stroke-width="1.6" />
<line x1="92.4" y1="2075.4" x2="395.9" y2="2075.4" stroke="#000" stroke-width="1.6" />
<line x1="90.2" y1="1751.2" x2="93.2" y2="1751.2" stroke="#000" stroke-width="1.4" />
<text x="89.5" y="1761" font-size="24" text-anchor="end">60</text>
<line x1="90.2" y1="1804.3" x2="93.2" y2="1804.3" stroke="#000" stroke-width="1.4" />
<text x="89.5" y="1812.7" font-size="24" text-anchor="end">50</text>
<line x1="90.2" y1="1857.3" x2="93.2" y2="1857.3" stroke="#000" stroke-width="1.4" />
<text x="89.5" y="1865.7" font-size="24" text-anchor="end">40</text>
<line x1="90.2" y1="1925.8" x2="93.2" y2="1925.8" stroke="#000" stroke-width="1.4" />
<text x="89.5" y="1934.2" font-size="24" text-anchor="end">10</text>
<line x1="90.2" y1="2075.4" x2="93.2" y2="2075.4" stroke="#000" stroke-width="1.4" />
<text x="89.5" y="2083.8" font-size="24" text-anchor="end">0</text>
<rect x="90.2" y="1878.9" width="6" height="3.8" fill="#fff" />
<line x1="88.9" y1="1878.2" x2="97.5" y2="1878.2" stroke="#000" stroke-width="1.3" />
<line x1="88.9" y1="1883.4" x2="97.5" y2="1883.4" stroke="#000" stroke-width="1.3" />
<line x1="93.2" y1="2075.4" x2="93.2" y2="2079.2" stroke="#000" stroke-width="1.4" />
<line x1="143.62" y1="2075.4" x2="143.62" y2="2079.2" stroke="#000" stroke-width="1.4" />
<line x1="194.04" y1="2075.4" x2="194.04" y2="2079.2" stroke="#000" stroke-width="1.4" />
<line x1="244.46" y1="2075.4" x2="244.46" y2="2079.2" stroke="#000" stroke-width="1.4" />
<line x1="294.88" y1="2075.4" x2="294.88" y2="2079.2" stroke="#000" stroke-width="1.4" />
<line x1="345.3" y1="2075.4" x2="345.3" y2="2079.2" stroke="#000" stroke-width="1.4" />
<line x1="395.72" y1="2075.4" x2="395.72" y2="2079.2" stroke="#000" stroke-width="1.4" />
<rect x="95.3" y="2060.3" width="21.7" height="15.1" fill="#fff" stroke="#000" stroke-width="1.1" />
<rect x="117" y="1976.6" width="23.2" height="98.8" fill="#000" />
<line x1="128.6" y1="1970.2" x2="128.6" y2="1976.6" stroke="#000" stroke-width="1.4" />
<line x1="126.3" y1="1970.2" x2="130.9" y2="1970.2" stroke="#000" stroke-width="1.4" />
<line x1="101.9" y1="2060.6" x2="113.9" y2="2060.6" stroke="#000" stroke-width="1.2" />
<rect x="104.4" y="2059.4" width="4" height="2.6" fill="#000" />
<text transform="translate(121.8 2086.2) rotate(-90)" font-size="30.2" text-anchor="end" font-style="italic">IFIH1</text>
<rect x="145.72" y="2060.3" width="21.7" height="15.1" fill="#fff" stroke="#000" stroke-width="1.1" />
<rect x="167.42" y="2017.5" width="23.2" height="57.9" fill="#000" />
<line x1="179.02" y1="2015.5" x2="179.02" y2="2017.5" stroke="#000" stroke-width="1.4" />
<line x1="176.72" y1="2015.5" x2="181.32" y2="2015.5" stroke="#000" stroke-width="1.4" />
<line x1="152.32" y1="2060.6" x2="164.32" y2="2060.6" stroke="#000" stroke-width="1.2" />
<rect x="154.82" y="2059.4" width="4" height="2.6" fill="#000" />
<text transform="translate(176.6 2086.2) rotate(-90)" font-size="30.2" text-anchor="end" font-style="italic">IFIT3</text>
<rect x="196.14" y="2060.3" width="21.7" height="15.1" fill="#fff" stroke="#000" stroke-width="1.1" />
<rect x="217.84" y="1815.9" width="23.2" height="259.5" fill="#000" />
<line x1="229.44" y1="1809.5" x2="229.44" y2="1815.9" stroke="#000" stroke-width="1.4" />
<line x1="227.14" y1="1809.5" x2="231.74" y2="1809.5" stroke="#000" stroke-width="1.4" />
<line x1="202.74" y1="2060.6" x2="214.74" y2="2060.6" stroke="#000" stroke-width="1.2" />
<rect x="205.24" y="2059.4" width="4" height="2.6" fill="#000" />
<text transform="translate(225.7 2086.2) rotate(-90)" font-size="30.2" text-anchor="end" font-style="italic">IFITM1</text>
<rect x="246.56" y="2060.3" width="21.7" height="15.1" fill="#fff" stroke="#000" stroke-width="1.1" />
<rect x="268.26" y="2012.7" width="23.2" height="62.7" fill="#000" />
<line x1="253.16" y1="2060.6" x2="265.16" y2="2060.6" stroke="#000" stroke-width="1.2" />
<rect x="255.66" y="2059.4" width="4" height="2.6" fill="#000" />
<text transform="translate(275.4 2086.2) rotate(-90)" font-size="30.2" text-anchor="end" font-style="italic">IRF7</text>
<rect x="296.98" y="2060.3" width="21.7" height="15.1" fill="#fff" stroke="#000" stroke-width="1.1" />
<rect x="318.68" y="1997.6" width="23.2" height="77.8" fill="#000" />
<line x1="330.28" y1="1991.4" x2="330.28" y2="1997.6" stroke="#000" stroke-width="1.4" />
<line x1="327.98" y1="1991.4" x2="332.58" y2="1991.4" stroke="#000" stroke-width="1.4" />
<line x1="303.58" y1="2060.6" x2="315.58" y2="2060.6" stroke="#000" stroke-width="1.2" />
<rect x="306.08" y="2059.4" width="4" height="2.6" fill="#000" />
<text transform="translate(329.3 2086.2) rotate(-90)" font-size="30.2" text-anchor="end" font-style="italic">IRF9</text>
<rect x="347.4" y="2060.3" width="21.7" height="15.1" fill="#fff" stroke="#000" stroke-width="1.1" />
<rect x="369.1" y="1956.1" width="23.2" height="119.3" fill="#000" />
<line x1="380.7" y1="1936" x2="380.7" y2="1956.1" stroke="#000" stroke-width="1.4" />
<line x1="378.4" y1="1936" x2="383" y2="1936" stroke="#000" stroke-width="1.4" />
<line x1="354" y1="2060.6" x2="366" y2="2060.6" stroke="#000" stroke-width="1.2" />
<rect x="356.5" y="2059.4" width="4" height="2.6" fill="#000" />
<text transform="translate(378.3 2086.2) rotate(-90)" font-size="30.2" text-anchor="end" font-style="italic">XAF1</text>
<rect x="210.5" y="1878.9" width="38" height="3.9" fill="#fff" />
<line x1="211.5" y1="1878.1" x2="248.1" y2="1878.1" stroke="#000" stroke-width="1.5" />
<line x1="211.5" y1="1883.6" x2="248.1" y2="1883.6" stroke="#000" stroke-width="1.5" />
<circle cx="101.48" cy="2061.85" r="2.6" fill="#fff" stroke="#444" stroke-width="1" />
<circle cx="102.83" cy="2059.54" r="2.6" fill="#fff" stroke="#444" stroke-width="1" />
<circle cx="117.88" cy="2058" r="2.6" fill="#fff" stroke="#444" stroke-width="1" />
<circle cx="117.88" cy="1981.78" r="2.6" fill="#fff" stroke="#444" stroke-width="1" />
<circle cx="132.93" cy="1980.43" r="2.6" fill="#fff" stroke="#444" stroke-width="1" />
<circle cx="135.25" cy="1967.7" r="2.6" fill="#fff" stroke="#444" stroke-width="1" />
<circle cx="150.68" cy="2058.38" r="2.6" fill="#fff" stroke="#444" stroke-width="1" />
<circle cx="153.19" cy="2061.47" r="2.6" fill="#fff" stroke="#444" stroke-width="1" />
<circle cx="168.05" cy="2060.5" r="2.6" fill="#fff" stroke="#444" stroke-width="1" />
<circle cx="168.05" cy="2019.99" r="2.6" fill="#fff" stroke="#444" stroke-width="1" />
<circle cx="185.02" cy="2017.48" r="2.6" fill="#fff" stroke="#444" stroke-width="1" />
<circle cx="187.92" cy="2014.01" r="2.6" fill="#fff" stroke="#444" stroke-width="1" />
<circle cx="200.85" cy="2058.96" r="2.6" fill="#fff" stroke="#444" stroke-width="1" />
<circle cx="203.35" cy="2061.85" r="2.6" fill="#fff" stroke="#444" stroke-width="1" />
<circle cx="218.21" cy="2059.92" r="2.6" fill="#fff" stroke="#444" stroke-width="1" />
<circle cx="218.21" cy="1826.47" r="2.6" fill="#fff" stroke="#444" stroke-width="1" />
<circle cx="233.07" cy="1808.72" r="2.6" fill="#fff" stroke="#444" stroke-width="1" />
<circle cx="235.57" cy="1813.35" r="2.6" fill="#fff" stroke="#444" stroke-width="1" />
<circle cx="238.47" cy="1812.96" r="2.6" fill="#fff" stroke="#444" stroke-width="1" />
<circle cx="251.01" cy="2061.47" r="2.6" fill="#fff" stroke="#444" stroke-width="1" />
<circle cx="255.83" cy="2060.5" r="2.6" fill="#fff" stroke="#444" stroke-width="1" />
<circle cx="268.76" cy="2058.96" r="2.6" fill="#fff" stroke="#444" stroke-width="1" />
<circle cx="268.76" cy="2012.08" r="2.6" fill="#fff" stroke="#444" stroke-width="1" />
<circle cx="273.78" cy="2013.23" r="2.6" fill="#fff" stroke="#444" stroke-width="1" />
<circle cx="289.02" cy="2014.97" r="2.6" fill="#fff" stroke="#444" stroke-width="1" />
<circle cx="301.56" cy="2060.5" r="2.6" fill="#fff" stroke="#444" stroke-width="1" />
<circle cx="306.96" cy="2060.5" r="2.6" fill="#fff" stroke="#444" stroke-width="1" />
<circle cx="319.5" cy="2060.5" r="2.6" fill="#fff" stroke="#444" stroke-width="1" />
<circle cx="319.5" cy="2005.52" r="2.6" fill="#fff" stroke="#444" stroke-width="1" />
<circle cx="334.55" cy="1997.8" r="2.6" fill="#fff" stroke="#444" stroke-width="1" />
<circle cx="339.76" cy="1989.5" r="2.6" fill="#fff" stroke="#444" stroke-width="1" />
<circle cx="349.41" cy="2061.85" r="2.6" fill="#fff" stroke="#444" stroke-width="1" />
<circle cx="354.81" cy="2057.61" r="2.6" fill="#fff" stroke="#444" stroke-width="1" />
<circle cx="367.16" cy="2060.5" r="2.6" fill="#fff" stroke="#444" stroke-width="1" />
<circle cx="370.05" cy="1958.63" r="2.6" fill="#fff" stroke="#444" stroke-width="1" />
<circle cx="385.1" cy="1931.62" r="2.6" fill="#fff" stroke="#444" stroke-width="1" />
<circle cx="390.5" cy="1980.43" r="2.6" fill="#fff" stroke="#444" stroke-width="1" />
<path d="M106.3 1963.7 V1955.7 H128.5 V1963.7" stroke="#000" stroke-width="1.4" fill="none" />
<path d="M157 2008.1 V2000.1 H179.2 V2008.1" stroke="#000" stroke-width="1.4" fill="none" />
<path d="M207.6 1804.6 V1796.6 H230.2 V1804.6" stroke="#000" stroke-width="1.4" fill="none" />
<path d="M258.3 2005.8 V1997.8 H280.5 V2005.8" stroke="#000" stroke-width="1.4" fill="none" />
<path d="M308.5 1985 V1977 H330.1 V1985" stroke="#000" stroke-width="1.4" fill="none" />
<path d="M359 1926.7 V1918.7 H381.2 V1926.7" stroke="#000" stroke-width="1.4" fill="none" />
<text transform="translate(127.5 1950.9) rotate(-90)" font-size="20.8"><tspan font-style="italic">P</tspan> = 5.96×10<tspan font-size="12.48" dy="-7.9">-5</tspan></text>
<text transform="translate(177.7 1994.3) rotate(-90)" font-size="20.8"><tspan font-style="italic">P</tspan> = 2.90×10<tspan font-size="12.48" dy="-7.9">-5</tspan></text>
<text x="158.4" y="1789.8" font-size="20.8"><tspan font-style="italic">P</tspan> = 4.37×10<tspan font-size="12.48" dy="-7.9">-4</tspan></text>
<text transform="translate(279 1992.4) rotate(-90)" font-size="20.8"><tspan font-style="italic">P</tspan> = 2.97×10<tspan font-size="12.48" dy="-7.9">-6</tspan></text>
<text transform="translate(328.2 1971.2) rotate(-90)" font-size="20.8"><tspan font-style="italic">P</tspan> = 0.0055</text>
<text transform="translate(378.4 1912.3) rotate(-90)" font-size="20.8"><tspan font-style="italic">P</tspan> = 0.0019</text>
<line x1="456.3" y1="1752.8" x2="456.3" y2="2076.2" stroke="#000" stroke-width="1.6" />
<line x1="455.5" y1="2075.4" x2="664.8" y2="2075.4" stroke="#000" stroke-width="1.6" />
<line x1="453.3" y1="1753.5" x2="456.3" y2="1753.5" stroke="#000" stroke-width="1.4" />
<text x="452.3" y="1763.3" font-size="24" text-anchor="end">14</text>
<line x1="453.3" y1="1799.1" x2="456.3" y2="1799.1" stroke="#000" stroke-width="1.4" />
<text x="452.3" y="1807.5" font-size="24" text-anchor="end">12</text>
<line x1="453.3" y1="1845.2" x2="456.3" y2="1845.2" stroke="#000" stroke-width="1.4" />
<text x="452.3" y="1853.6" font-size="24" text-anchor="end">10</text>
<line x1="453.3" y1="1891.1" x2="456.3" y2="1891.1" stroke="#000" stroke-width="1.4" />
<text x="452.3" y="1899.5" font-size="24" text-anchor="end">8</text>
<line x1="453.3" y1="1937" x2="456.3" y2="1937" stroke="#000" stroke-width="1.4" />
<text x="452.3" y="1945.4" font-size="24" text-anchor="end">6</text>
<line x1="453.3" y1="1983.1" x2="456.3" y2="1983.1" stroke="#000" stroke-width="1.4" />
<text x="452.3" y="1991.5" font-size="24" text-anchor="end">4</text>
<line x1="453.3" y1="2029.1" x2="456.3" y2="2029.1" stroke="#000" stroke-width="1.4" />
<text x="452.3" y="2037.5" font-size="24" text-anchor="end">2</text>
<line x1="453.3" y1="2075.4" x2="456.3" y2="2075.4" stroke="#000" stroke-width="1.4" />
<text x="452.3" y="2083.8" font-size="24" text-anchor="end">0</text>
<line x1="456.3" y1="2075.4" x2="456.3" y2="2079.2" stroke="#000" stroke-width="1.4" />
<line x1="508.4" y1="2075.4" x2="508.4" y2="2079.2" stroke="#000" stroke-width="1.4" />
<line x1="559.9" y1="2075.4" x2="559.9" y2="2079.2" stroke="#000" stroke-width="1.4" />
<line x1="612" y1="2075.4" x2="612" y2="2079.2" stroke="#000" stroke-width="1.4" />
<line x1="664.1" y1="2075.4" x2="664.1" y2="2079.2" stroke="#000" stroke-width="1.4" />
<rect x="460.1" y="2051.8" width="21.6" height="23.6" fill="#fff" stroke="#000" stroke-width="1.1" />
<rect x="481.7" y="2015.9" width="23.8" height="59.5" fill="#000" />
<line x1="466.65" y1="2052.1" x2="478.65" y2="2052.1" stroke="#000" stroke-width="1.2" />
<rect x="512.1" y="2051.8" width="21.7" height="23.6" fill="#fff" stroke="#000" stroke-width="1.1" />
<rect x="533.8" y="1793.7" width="24.2" height="281.7" fill="#000" />
<line x1="518.7" y1="2052.1" x2="530.7" y2="2052.1" stroke="#000" stroke-width="1.2" />
<rect x="564.2" y="2051.8" width="22.1" height="23.6" fill="#fff" stroke="#000" stroke-width="1.1" />
<rect x="586.3" y="2044.1" width="22.8" height="31.3" fill="#000" />
<line x1="571" y1="2052.1" x2="583" y2="2052.1" stroke="#000" stroke-width="1.2" />
<rect x="615.4" y="2052.4" width="22.2" height="23" fill="#fff" stroke="#000" stroke-width="1.1" />
<rect x="637.6" y="2022.3" width="24" height="53.1" fill="#000" />
<line x1="622.25" y1="2052.7" x2="634.25" y2="2052.7" stroke="#000" stroke-width="1.2" />
<path d="M578.5 2048 V2056 M576.3 2048 H580.7 M576.3 2056 H580.7" stroke="#000" stroke-width="1.3" fill="none" />
<circle cx="465.34" cy="2051.24" r="2.6" fill="#fff" stroke="#444" stroke-width="1" />
<circle cx="468.62" cy="2052.59" r="2.6" fill="#fff" stroke="#444" stroke-width="1" />
<circle cx="482.13" cy="2051.82" r="2.6" fill="#fff" stroke="#444" stroke-width="1" />
<circle cx="482.7" cy="2013.62" r="2.6" fill="#fff" stroke="#444" stroke-width="1" />
<circle cx="497.18" cy="2017.48" r="2.6" fill="#fff" stroke="#444" stroke-width="1" />
<circle cx="500.07" cy="2015.16" r="2.6" fill="#fff" stroke="#444" stroke-width="1" />
<circle cx="518.01" cy="2049.89" r="2.6" fill="#fff" stroke="#444" stroke-width="1" />
<circle cx="520.71" cy="2051.82" r="2.6" fill="#fff" stroke="#444" stroke-width="1" />
<circle cx="533.83" cy="2054.52" r="2.6" fill="#fff" stroke="#444" stroke-width="1" />
<circle cx="533.83" cy="1792.13" r="2.6" fill="#fff" stroke="#444" stroke-width="1" />
<circle cx="549.65" cy="1795.21" r="2.6" fill="#fff" stroke="#444" stroke-width="1" />
<circle cx="552.74" cy="1794.06" r="2.6" fill="#fff" stroke="#444" stroke-width="1" />
<circle cx="565.09" cy="2048.35" r="2.6" fill="#fff" stroke="#444" stroke-width="1" />
<circle cx="567.6" cy="2051.82" r="2.6" fill="#fff" stroke="#444" stroke-width="1" />
<circle cx="585.93" cy="2055.1" r="2.6" fill="#fff" stroke="#444" stroke-width="1" />
<circle cx="586.31" cy="2040.63" r="2.6" fill="#fff" stroke="#444" stroke-width="1" />
<circle cx="601.94" cy="2046.42" r="2.6" fill="#fff" stroke="#444" stroke-width="1" />
<circle cx="606.76" cy="2043.52" r="2.6" fill="#fff" stroke="#444" stroke-width="1" />
<circle cx="616.8" cy="2052.59" r="2.6" fill="#fff" stroke="#444" stroke-width="1" />
<circle cx="622.2" cy="2051.82" r="2.6" fill="#fff" stroke="#444" stroke-width="1" />
<circle cx="638.02" cy="2051.82" r="2.6" fill="#fff" stroke="#444" stroke-width="1" />
<circle cx="643.23" cy="2021.72" r="2.6" fill="#fff" stroke="#444" stroke-width="1" />
<circle cx="655.77" cy="2022.88" r="2.6" fill="#fff" stroke="#444" stroke-width="1" />
<circle cx="659.82" cy="2019.41" r="2.6" fill="#fff" stroke="#444" stroke-width="1" />
<path d="M471.1 2009.1 V2001.1 H493.3 V2009.1" stroke="#000" stroke-width="1.4" fill="none" />
<path d="M523.2 1787.8 V1779.8 H545.8 V1787.8" stroke="#000" stroke-width="1.4" fill="none" />
<path d="M575.3 2036.7 V2028.7 H597.9 V2036.7" stroke="#000" stroke-width="1.4" fill="none" />
<path d="M628 2015.3 V2007.3 H650.6 V2015.3" stroke="#000" stroke-width="1.4" fill="none" />
<text x="473.1" y="1772.4" font-size="20.8"><tspan font-style="italic">P</tspan> = 5.95×10<tspan font-size="12.48" dy="-7.9">-9</tspan></text>
<text transform="translate(491.8 1994.3) rotate(-90)" font-size="20.8"><tspan font-style="italic">P</tspan> = 1.83×10<tspan font-size="12.48" dy="-7.9">-6</tspan></text>
<text transform="translate(595.2 2021.3) rotate(-90)" font-size="20.8"><tspan font-style="italic">P</tspan> = 0.0283</text>
<text transform="translate(648.2 2000.1) rotate(-90)" font-size="20.8"><tspan font-style="italic">P</tspan> = 2.94×10<tspan font-size="12.48" dy="-7.9">-6</tspan></text>
<text transform="translate(493.6 2092) rotate(-90) scale(0.76 1)" font-size="31" text-anchor="end" font-style="italic">CFB</text>
<text transform="translate(547 2092) rotate(-90) scale(0.76 1)" font-size="31" text-anchor="end" font-style="italic">MX1</text>
<text transform="translate(597.7 2092) rotate(-90) scale(0.76 1)" font-size="31" text-anchor="end" font-style="italic">PARP9</text>
<text transform="translate(650 2092) rotate(-90) scale(0.76 1)" font-size="31" text-anchor="end" font-style="italic">STAT1</text>
<line x1="737.4" y1="1752.8" x2="737.4" y2="2076.2" stroke="#000" stroke-width="1.6" />
<line x1="734.4" y1="2075.4" x2="812.8" y2="2075.4" stroke="#000" stroke-width="1.6" />
<line x1="734.4" y1="1753.5" x2="737.4" y2="1753.5" stroke="#000" stroke-width="1.4" />
<text x="733.3" y="1763.3" font-size="24" text-anchor="end">18</text>
<line x1="734.4" y1="1861.2" x2="737.4" y2="1861.2" stroke="#000" stroke-width="1.4" />
<text x="733.3" y="1869.6" font-size="24" text-anchor="end">12</text>
<line x1="734.4" y1="1968.3" x2="737.4" y2="1968.3" stroke="#000" stroke-width="1.4" />
<text x="733.3" y="1976.7" font-size="24" text-anchor="end">6</text>
<line x1="734.4" y1="2075.4" x2="737.4" y2="2075.4" stroke="#000" stroke-width="1.4" />
<text x="733.3" y="2083.8" font-size="24" text-anchor="end">0</text>
<rect x="774.1" y="1805.7" width="23" height="269.7" fill="#000" />
<line x1="785.8" y1="1791.4" x2="785.8" y2="1806" stroke="#000" stroke-width="1.4" />
<line x1="783.3" y1="1791.4" x2="788.3" y2="1791.4" stroke="#000" stroke-width="1.4" />
<circle cx="752" cy="2075" r="2.6" fill="#fff" stroke="#444" stroke-width="1" />
<circle cx="759.5" cy="2075" r="2.6" fill="#fff" stroke="#444" stroke-width="1" />
<circle cx="767" cy="2075" r="2.6" fill="#fff" stroke="#444" stroke-width="1" />
<circle cx="775" cy="1788" r="2.6" fill="#fff" stroke="#444" stroke-width="1" />
<circle cx="790" cy="1806.5" r="2.6" fill="#fff" stroke="#ddd" stroke-width="0.8" />
<circle cx="782.3" cy="1825" r="2.4" fill="#fff" />
<path d="M764.2 1781.7 V1774.7 H786 V1781.7" stroke="#000" stroke-width="1.4" fill="none" />
<text x="741.2" y="1768" font-size="20.8"><tspan font-style="italic">P</tspan> = 1.49×10<tspan font-size="12.48" dy="-7.9">-5</tspan></text>
<text x="666" y="1735" font-size="24">(X10<tspan font-size="14.4" dy="-7.92">3</tspan><tspan dy="7.92" font-size="24">&#8203;</tspan>)</text>
<text transform="translate(785.5 2094) rotate(-90) scale(0.77 1)" font-size="31" text-anchor="end" font-style="italic">TRIM40</text>
<rect x="909.5" y="1745" width="26" height="24.3" fill="#fff" stroke="#000" stroke-width="1.6" />
<rect x="908.7" y="1776.7" width="27.6" height="26.6" fill="#000" />
<text x="940.3" y="1766.8" font-size="27.7">Mock</text>
<text x="940.3" y="1799.7" font-size="27.7">Myc-TRIM40</text>
</g>
<g id="panel_i">
<text x="1126.5" y="1685.3" font-size="51" font-weight="bold">i</text>
<text x="1292.4" y="1720.1" font-size="31.5" text-anchor="middle">Mock</text>
<text x="1526.7" y="1720.1" font-size="31.5" text-anchor="middle">GFP-TRIM40</text>
<defs><linearGradient id="dicbg" x1="0" y1="0" x2="1" y2="1"><stop offset="0" stop-color="#b7b7b7"/><stop offset="0.5" stop-color="#a9a9a9"/><stop offset="1" stop-color="#9c9c9c"/></linearGradient><filter id="dtex" x="-5%" y="-5%" width="110%" height="110%" color-interpolation-filters="sRGB"><feTurbulence type="fractalNoise" baseFrequency="0.25" numOctaves="2" seed="71" result="n0"/><feColorMatrix in="n0" type="matrix" values="0 0 0 0 0.78 0 0 0 0 0.78 0 0 0 0 0.78 3.5 0 0 0 -1.93" result="c0"/><feComposite in="c0" in2="SourceGraphic" operator="in" result="m0"/><feTurbulence type="fractalNoise" baseFrequency="0.25" numOctaves="2" seed="72" result="n1"/><feColorMatrix in="n1" type="matrix" values="0 0 0 0 0.55 0 0 0 0 0.55 0 0 0 0 0.55 0 3.5 0 0 -1.93" result="c1"/><feComposite in="c1" in2="SourceGraphic" operator="in" result="m1"/><feTurbulence type="fractalNoise" baseFrequency="0.08" numOctaves="2" seed="73" result="n2"/><feColorMatrix in="n2" type="matrix" values="0 0 0 0 0.71 0 0 0 0 0.71 0 0 0 0 0.71 0 0 3 0 -1.5" result="c2"/><feComposite in="c2" in2="SourceGraphic" operator="in" result="m2"/><feMerge><feMergeNode in="SourceGraphic"/><feMergeNode in="m0"/><feMergeNode in="m1"/><feMergeNode in="m2"/></feMerge></filter><filter id="gtex" x="-5%" y="-5%" width="110%" height="110%" color-interpolation-filters="sRGB"><feTurbulence type="fractalNoise" baseFrequency="0.08" numOctaves="2" seed="3" result="dn"/><feDisplacementMap in="SourceGraphic" in2="dn" scale="5" xChannelSelector="R" yChannelSelector="G" result="src"/><feTurbulence type="fractalNoise" baseFrequency="0.25" numOctaves="2" seed="71" result="n0"/><feColorMatrix in="n0" type="matrix" values="0 0 0 0 0.73 0 0 0 0 0.87 0 0 0 0 0.75 3.5 0 0 0 -1.93" result="c0"/><feComposite in="c0" in2="src" operator="in" result="m0"/><feTurbulence type="fractalNoise" baseFrequency="0.25" numOctaves="2" seed="72" result="n1"/><feColorMatrix in="n1" type="matrix" values="0 0 0 0 0.5 0 0 0 0 0.66 0 0 0 0 0.54 0 3.5 0 0 -1.93" result="c1"/><feComposite in="c1" in2="src" operator="in" result="m1"/><feTurbulence type="fractalNoise" baseFrequency="0.08" numOctaves="2" seed="73" result="n2"/><feColorMatrix in="n2" type="matrix" values="0 0 0 0 0.66 0 0 0 0 0.83 0 0 0 0 0.7 0 0 3 0 -1.5" result="c2"/><feComposite in="c2" in2="src" operator="in" result="m2"/><feMerge><feMergeNode in="src"/><feMergeNode in="m0"/><feMergeNode in="m1"/><feMergeNode in="m2"/></feMerge></filter><filter id="dsoft" x="-2%" y="-2%" width="104%" height="104%"><feGaussianBlur stdDeviation="1.0"/></filter></defs><svg x="1177.3" y="1726.4" width="228.3" height="223.9" viewBox="0 0 228.3 223.9" overflow="hidden"><rect width="228.3" height="223.9" fill="#a9a9a9"/><g filter="url(#dsoft)"><rect x="-4" y="-4" width="236.3" height="231.9" fill="url(#dicbg)" /><g filter="url(#dtex)"><path d="M200.42 113.7 C200.24 118.49 198.8 123.38 197.33 127.97 C195.87 132.57 193.98 137.09 191.63 141.25 C189.27 145.41 186.09 149.17 183.2 152.93 C180.3 156.69 177.34 160.24 174.25 163.81 C171.16 167.38 168.17 171.08 164.66 174.36 C161.14 177.65 157.42 181.13 153.15 183.54 C148.88 185.94 143.87 187.55 139.03 188.82 C134.2 190.08 129.1 190.87 124.14 191.11 C119.19 191.34 114.21 190.41 109.3 190.24 C104.39 190.07 99.57 190.42 94.66 190.07 C89.75 189.71 84.83 189.01 79.85 188.11 C74.86 187.22 69.6 186.37 64.72 184.7 C59.84 183.02 54.83 180.88 50.56 178.07 C46.29 175.26 42.4 171.64 39.12 167.85 C35.83 164.07 32.72 159.84 30.84 155.35 C28.96 150.87 28.51 145.68 27.84 140.96 C27.18 136.25 27.11 131.61 26.86 127.07 C26.61 122.52 26.25 118.14 26.35 113.7 C26.44 109.26 27.03 104.92 27.42 100.42 C27.82 95.93 27.78 91.27 28.7 86.72 C29.61 82.18 30.81 77.39 32.9 73.14 C35 68.89 38.02 64.83 41.28 61.21 C44.54 57.59 48.46 54.35 52.47 51.42 C56.47 48.49 60.79 45.77 65.31 43.65 C69.84 41.52 74.85 40.47 79.6 38.67 C84.35 36.87 88.84 34.21 93.79 32.83 C98.74 31.46 104.12 30.51 109.3 30.45 C114.48 30.38 119.94 31.03 124.89 32.42 C129.83 33.8 134.56 36.36 138.97 38.75 C143.38 41.13 147.63 43.73 151.35 46.72 C155.08 49.71 157.78 53.67 161.32 56.69 C164.87 59.7 169.04 61.84 172.65 64.82 C176.25 67.81 179.72 71.06 182.96 74.59 C186.2 78.12 189.51 81.88 192.09 85.99 C194.67 90.1 197.05 94.63 198.44 99.25 C199.83 103.87 200.61 108.91 200.42 113.7 Z" fill="#a7a7a7"/></g><g transform="translate(0.8 0.8)"><path d="M200.42 113.7 C200.24 118.49 198.8 123.38 197.33 127.97 C195.87 132.57 193.98 137.09 191.63 141.25 C189.27 145.41 186.09 149.17 183.2 152.93 C180.3 156.69 177.34 160.24 174.25 163.81 C171.16 167.38 168.17 171.08 164.66 174.36 C161.14 177.65 157.42 181.13 153.15 183.54 C148.88 185.94 143.87 187.55 139.03 188.82 C134.2 190.08 129.1 190.87 124.14 191.11 C119.19 191.34 114.21 190.41 109.3 190.24 C104.39 190.07 99.57 190.42 94.66 190.07 C89.75 189.71 84.83 189.01 79.85 188.11 C74.86 187.22 69.6 186.37 64.72 184.7 C59.84 183.02 54.83 180.88 50.56 178.07 C46.29 175.26 42.4 171.64 39.12 167.85 C35.83 164.07 32.72 159.84 30.84 155.35 C28.96 150.87 28.51 145.68 27.84 140.96 C27.18 136.25 27.11 131.61 26.86 127.07 C26.61 122.52 26.25 118.14 26.35 113.7 C26.44 109.26 27.03 104.92 27.42 100.42 C27.82 95.93 27.78 91.27 28.7 86.72 C29.61 82.18 30.81 77.39 32.9 73.14 C35 68.89 38.02 64.83 41.28 61.21 C44.54 57.59 48.46 54.35 52.47 51.42 C56.47 48.49 60.79 45.77 65.31 43.65 C69.84 41.52 74.85 40.47 79.6 38.67 C84.35 36.87 88.84 34.21 93.79 32.83 C98.74 31.46 104.12 30.51 109.3 30.45 C114.48 30.38 119.94 31.03 124.89 32.42 C129.83 33.8 134.56 36.36 138.97 38.75 C143.38 41.13 147.63 43.73 151.35 46.72 C155.08 49.71 157.78 53.67 161.32 56.69 C164.87 59.7 169.04 61.84 172.65 64.82 C176.25 67.81 179.72 71.06 182.96 74.59 C186.2 78.12 189.51 81.88 192.09 85.99 C194.67 90.1 197.05 94.63 198.44 99.25 C199.83 103.87 200.61 108.91 200.42 113.7 Z" fill="none" stroke="#8b8b8b" stroke-width="1.6" stroke-opacity="0.9"/></g><g transform="translate(-0.8 -0.8)"><path d="M200.42 113.7 C200.24 118.49 198.8 123.38 197.33 127.97 C195.87 132.57 193.98 137.09 191.63 141.25 C189.27 145.41 186.09 149.17 183.2 152.93 C180.3 156.69 177.34 160.24 174.25 163.81 C171.16 167.38 168.17 171.08 164.66 174.36 C161.14 177.65 157.42 181.13 153.15 183.54 C148.88 185.94 143.87 187.55 139.03 188.82 C134.2 190.08 129.1 190.87 124.14 191.11 C119.19 191.34 114.21 190.41 109.3 190.24 C104.39 190.07 99.57 190.42 94.66 190.07 C89.75 189.71 84.83 189.01 79.85 188.11 C74.86 187.22 69.6 186.37 64.72 184.7 C59.84 183.02 54.83 180.88 50.56 178.07 C46.29 175.26 42.4 171.64 39.12 167.85 C35.83 164.07 32.72 159.84 30.84 155.35 C28.96 150.87 28.51 145.68 27.84 140.96 C27.18 136.25 27.11 131.61 26.86 127.07 C26.61 122.52 26.25 118.14 26.35 113.7 C26.44 109.26 27.03 104.92 27.42 100.42 C27.82 95.93 27.78 91.27 28.7 86.72 C29.61 82.18 30.81 77.39 32.9 73.14 C35 68.89 38.02 64.83 41.28 61.21 C44.54 57.59 48.46 54.35 52.47 51.42 C56.47 48.49 60.79 45.77 65.31 43.65 C69.84 41.52 74.85 40.47 79.6 38.67 C84.35 36.87 88.84 34.21 93.79 32.83 C98.74 31.46 104.12 30.51 109.3 30.45 C114.48 30.38 119.94 31.03 124.89 32.42 C129.83 33.8 134.56 36.36 138.97 38.75 C143.38 41.13 147.63 43.73 151.35 46.72 C155.08 49.71 157.78 53.67 161.32 56.69 C164.87 59.7 169.04 61.84 172.65 64.82 C176.25 67.81 179.72 71.06 182.96 74.59 C186.2 78.12 189.51 81.88 192.09 85.99 C194.67 90.1 197.05 94.63 198.44 99.25 C199.83 103.87 200.61 108.91 200.42 113.7 Z" fill="none" stroke="#c9c9c9" stroke-width="1.6" stroke-opacity="0.9"/></g><g transform="translate(0.5 0.5)"><ellipse cx="64.3" cy="65.7" rx="26" ry="22" transform="rotate(24.53 64.3 65.7)" fill="none" stroke="#969696" stroke-width="1" stroke-opacity="0.5"/></g><g transform="translate(-0.5 -0.5)"><ellipse cx="64.3" cy="65.7" rx="26" ry="22" transform="rotate(24.53 64.3 65.7)" fill="none" stroke="#bdbdbd" stroke-width="1" stroke-opacity="0.5"/></g><ellipse cx="64.88" cy="68.76" rx="4.5" ry="4.5" transform="rotate(0 64.88 68.76)" fill="#b3b3b3" fill-opacity="0.6"/><g transform="translate(0.4 0.4)"><ellipse cx="64.88" cy="68.76" rx="4.5" ry="4.5" transform="rotate(0 64.88 68.76)" fill="none" stroke="#8f8f8f" stroke-width="0.9" stroke-opacity="0.7"/></g><g transform="translate(-0.4 -0.4)"><ellipse cx="64.88" cy="68.76" rx="4.5" ry="4.5" transform="rotate(0 64.88 68.76)" fill="none" stroke="#c4c4c4" stroke-width="0.9" stroke-opacity="0.7"/></g><g transform="translate(0.5 0.5)"><ellipse cx="94.3" cy="88.7" rx="18" ry="17" transform="rotate(20.88 94.3 88.7)" fill="none" stroke="#969696" stroke-width="1" stroke-opacity="0.5"/></g><g transform="translate(-0.5 -0.5)"><ellipse cx="94.3" cy="88.7" rx="18" ry="17" transform="rotate(20.88 94.3 88.7)" fill="none" stroke="#bdbdbd" stroke-width="1" stroke-opacity="0.5"/></g><ellipse cx="94.37" cy="88.01" rx="4.5" ry="4.5" transform="rotate(0 94.37 88.01)" fill="#b3b3b3" fill-opacity="0.6"/><g transform="translate(0.4 0.4)"><ellipse cx="94.37" cy="88.01" rx="4.5" ry="4.5" transform="rotate(0 94.37 88.01)" fill="none" stroke="#8f8f8f" stroke-width="0.9" stroke-opacity="0.7"/></g><g transform="translate(-0.4 -0.4)"><ellipse cx="94.37" cy="88.01" rx="4.5" ry="4.5" transform="rotate(0 94.37 88.01)" fill="none" stroke="#c4c4c4" stroke-width="0.9" stroke-opacity="0.7"/></g><g transform="translate(0.5 0.5)"><ellipse cx="139.3" cy="73.7" rx="25" ry="20" transform="rotate(5.93 139.3 73.7)" fill="none" stroke="#969696" stroke-width="1" stroke-opacity="0.5"/></g><g transform="translate(-0.5 -0.5)"><ellipse cx="139.3" cy="73.7" rx="25" ry="20" transform="rotate(5.93 139.3 73.7)" fill="none" stroke="#bdbdbd" stroke-width="1" stroke-opacity="0.5"/></g><ellipse cx="138.75" cy="70.99" rx="4.5" ry="4.5" transform="rotate(0 138.75 70.99)" fill="#b3b3b3" fill-opacity="0.6"/><g transform="translate(0.4 0.4)"><ellipse cx="138.75" cy="70.99" rx="4.5" ry="4.5" transform="rotate(0 138.75 70.99)" fill="none" stroke="#8f8f8f" stroke-width="0.9" stroke-opacity="0.7"/></g><g transform="translate(-0.4 -0.4)"><ellipse cx="138.75" cy="70.99" rx="4.5" ry="4.5" transform="rotate(0 138.75 70.99)" fill="none" stroke="#c4c4c4" stroke-width="0.9" stroke-opacity="0.7"/></g><g transform="translate(0.5 0.5)"><ellipse cx="161.3" cy="113.7" rx="22" ry="20" transform="rotate(-11.69 161.3 113.7)" fill="none" stroke="#969696" stroke-width="1" stroke-opacity="0.5"/></g><g transform="translate(-0.5 -0.5)"><ellipse cx="161.3" cy="113.7" rx="22" ry="20" transform="rotate(-11.69 161.3 113.7)" fill="none" stroke="#bdbdbd" stroke-width="1" stroke-opacity="0.5"/></g><ellipse cx="163.8" cy="110.05" rx="4.5" ry="4.5" transform="rotate(0 163.8 110.05)" fill="#b3b3b3" fill-opacity="0.6"/><g transform="translate(0.4 0.4)"><ellipse cx="163.8" cy="110.05" rx="4.5" ry="4.5" transform="rotate(0 163.8 110.05)" fill="none" stroke="#8f8f8f" stroke-width="0.9" stroke-opacity="0.7"/></g><g transform="translate(-0.4 -0.4)"><ellipse cx="163.8" cy="110.05" rx="4.5" ry="4.5" transform="rotate(0 163.8 110.05)" fill="none" stroke="#c4c4c4" stroke-width="0.9" stroke-opacity="0.7"/></g><g transform="translate(0.5 0.5)"><ellipse cx="57.3" cy="118.7" rx="24" ry="22" transform="rotate(-27.22 57.3 118.7)" fill="none" stroke="#969696" stroke-width="1" stroke-opacity="0.5"/></g><g transform="translate(-0.5 -0.5)"><ellipse cx="57.3" cy="118.7" rx="24" ry="22" transform="rotate(-27.22 57.3 118.7)" fill="none" stroke="#bdbdbd" stroke-width="1" stroke-opacity="0.5"/></g><ellipse cx="58.31" cy="116.94" rx="4.5" ry="4.5" transform="rotate(0 58.31 116.94)" fill="#b3b3b3" fill-opacity="0.6"/><g transform="translate(0.4 0.4)"><ellipse cx="58.31" cy="116.94" rx="4.5" ry="4.5" transform="rotate(0 58.31 116.94)" fill="none" stroke="#8f8f8f" stroke-width="0.9" stroke-opacity="0.7"/></g><g transform="translate(-0.4 -0.4)"><ellipse cx="58.31" cy="116.94" rx="4.5" ry="4.5" transform="rotate(0 58.31 116.94)" fill="none" stroke="#c4c4c4" stroke-width="0.9" stroke-opacity="0.7"/></g><g transform="translate(0.5 0.5)"><ellipse cx="104.3" cy="128.7" rx="30" ry="20" transform="rotate(2.08 104.3 128.7)" fill="none" stroke="#969696" stroke-width="1" stroke-opacity="0.5"/></g><g transform="translate(-0.5 -0.5)"><ellipse cx="104.3" cy="128.7" rx="30" ry="20" transform="rotate(2.08 104.3 128.7)" fill="none" stroke="#bdbdbd" stroke-width="1" stroke-opacity="0.5"/></g><ellipse cx="104.07" cy="127.44" rx="4.5" ry="4.5" transform="rotate(0 104.07 127.44)" fill="#b3b3b3" fill-opacity="0.6"/><g transform="translate(0.4 0.4)"><ellipse cx="104.07" cy="127.44" rx="4.5" ry="4.5" transform="rotate(0 104.07 127.44)" fill="none" stroke="#8f8f8f" stroke-width="0.9" stroke-opacity="0.7"/></g><g transform="translate(-0.4 -0.4)"><ellipse cx="104.07" cy="127.44" rx="4.5" ry="4.5" transform="rotate(0 104.07 127.44)" fill="none" stroke="#c4c4c4" stroke-width="0.9" stroke-opacity="0.7"/></g><g transform="translate(0.5 0.5)"><ellipse cx="89.3" cy="158.7" rx="22" ry="20" transform="rotate(29.84 89.3 158.7)" fill="none" stroke="#969696" stroke-width="1" stroke-opacity="0.5"/></g><g transform="translate(-0.5 -0.5)"><ellipse cx="89.3" cy="158.7" rx="22" ry="20" transform="rotate(29.84 89.3 158.7)" fill="none" stroke="#bdbdbd" stroke-width="1" stroke-opacity="0.5"/></g><ellipse cx="86.86" cy="158" rx="4.5" ry="4.5" transform="rotate(0 86.86 158)" fill="#b3b3b3" fill-opacity="0.6"/><g transform="translate(0.4 0.4)"><ellipse cx="86.86" cy="158" rx="4.5" ry="4.5" transform="rotate(0 86.86 158)" fill="none" stroke="#8f8f8f" stroke-width="0.9" stroke-opacity="0.7"/></g><g transform="translate(-0.4 -0.4)"><ellipse cx="86.86" cy="158" rx="4.5" ry="4.5" transform="rotate(0 86.86 158)" fill="none" stroke="#c4c4c4" stroke-width="0.9" stroke-opacity="0.7"/></g><g transform="translate(0.5 0.5)"><ellipse cx="134.3" cy="163.7" rx="24" ry="22" transform="rotate(-17.84 134.3 163.7)" fill="none" stroke="#969696" stroke-width="1" stroke-opacity="0.5"/></g><g transform="translate(-0.5 -0.5)"><ellipse cx="134.3" cy="163.7" rx="24" ry="22" transform="rotate(-17.84 134.3 163.7)" fill="none" stroke="#bdbdbd" stroke-width="1" stroke-opacity="0.5"/></g><ellipse cx="135.36" cy="161.91" rx="4.5" ry="4.5" transform="rotate(0 135.36 161.91)" fill="#b3b3b3" fill-opacity="0.6"/><g transform="translate(0.4 0.4)"><ellipse cx="135.36" cy="161.91" rx="4.5" ry="4.5" transform="rotate(0 135.36 161.91)" fill="none" stroke="#8f8f8f" stroke-width="0.9" stroke-opacity="0.7"/></g><g transform="translate(-0.4 -0.4)"><ellipse cx="135.36" cy="161.91" rx="4.5" ry="4.5" transform="rotate(0 135.36 161.91)" fill="none" stroke="#c4c4c4" stroke-width="0.9" stroke-opacity="0.7"/></g><g transform="translate(0.5 0.5)"><ellipse cx="59.3" cy="158.7" rx="20" ry="18" transform="rotate(-8.65 59.3 158.7)" fill="none" stroke="#969696" stroke-width="1" stroke-opacity="0.5"/></g><g transform="translate(-0.5 -0.5)"><ellipse cx="59.3" cy="158.7" rx="20" ry="18" transform="rotate(-8.65 59.3 158.7)" fill="none" stroke="#bdbdbd" stroke-width="1" stroke-opacity="0.5"/></g><ellipse cx="61.28" cy="157.27" rx="4.5" ry="4.5" transform="rotate(0 61.28 157.27)" fill="#b3b3b3" fill-opacity="0.6"/><g transform="translate(0.4 0.4)"><ellipse cx="61.28" cy="157.27" rx="4.5" ry="4.5" transform="rotate(0 61.28 157.27)" fill="none" stroke="#8f8f8f" stroke-width="0.9" stroke-opacity="0.7"/></g><g transform="translate(-0.4 -0.4)"><ellipse cx="61.28" cy="157.27" rx="4.5" ry="4.5" transform="rotate(0 61.28 157.27)" fill="none" stroke="#c4c4c4" stroke-width="0.9" stroke-opacity="0.7"/></g><g transform="translate(0.5 0.5)"><ellipse cx="164.3" cy="148.7" rx="18" ry="17" transform="rotate(3.51 164.3 148.7)" fill="none" stroke="#969696" stroke-width="1" stroke-opacity="0.5"/></g><g transform="translate(-0.5 -0.5)"><ellipse cx="164.3" cy="148.7" rx="18" ry="17" transform="rotate(3.51 164.3 148.7)" fill="none" stroke="#bdbdbd" stroke-width="1" stroke-opacity="0.5"/></g><ellipse cx="167.53" cy="145.51" rx="4.5" ry="4.5" transform="rotate(0 167.53 145.51)" fill="#b3b3b3" fill-opacity="0.6"/><g transform="translate(0.4 0.4)"><ellipse cx="167.53" cy="145.51" rx="4.5" ry="4.5" transform="rotate(0 167.53 145.51)" fill="none" stroke="#8f8f8f" stroke-width="0.9" stroke-opacity="0.7"/></g><g transform="translate(-0.4 -0.4)"><ellipse cx="167.53" cy="145.51" rx="4.5" ry="4.5" transform="rotate(0 167.53 145.51)" fill="none" stroke="#c4c4c4" stroke-width="0.9" stroke-opacity="0.7"/></g><ellipse cx="-2" cy="30" rx="32" ry="42" transform="rotate(10 -2 30)" fill="#adadad" fill-opacity="0.7"/><g transform="translate(0.7 0.7)"><ellipse cx="-2" cy="30" rx="32" ry="42" transform="rotate(10 -2 30)" fill="none" stroke="#8c8c8c" stroke-width="1.4" stroke-opacity="0.9"/></g><g transform="translate(-0.7 -0.7)"><ellipse cx="-2" cy="30" rx="32" ry="42" transform="rotate(10 -2 30)" fill="none" stroke="#c8c8c8" stroke-width="1.4" stroke-opacity="0.9"/></g><g transform="translate(0.7 0.7)"><ellipse cx="2" cy="10" rx="22" ry="26" transform="rotate(10 2 10)" fill="none" stroke="#8f8f8f" stroke-width="1" stroke-opacity="0.7"/></g><g transform="translate(-0.7 -0.7)"><ellipse cx="2" cy="10" rx="22" ry="26" transform="rotate(10 2 10)" fill="none" stroke="#c4c4c4" stroke-width="1" stroke-opacity="0.7"/></g><ellipse cx="232" cy="95" rx="26" ry="38" transform="rotate(-10 232 95)" fill="#a5a5a5" fill-opacity="0.7"/><g transform="translate(0.7 0.7)"><ellipse cx="232" cy="95" rx="26" ry="38" transform="rotate(-10 232 95)" fill="none" stroke="#878787" stroke-width="1.4" stroke-opacity="0.9"/></g><g transform="translate(-0.7 -0.7)"><ellipse cx="232" cy="95" rx="26" ry="38" transform="rotate(-10 232 95)" fill="none" stroke="#c2c2c2" stroke-width="1.4" stroke-opacity="0.9"/></g><g transform="translate(0.7 0.7)"><ellipse cx="236" cy="70" rx="14" ry="16" transform="rotate(0 236 70)" fill="none" stroke="#888888" stroke-width="1.1" stroke-opacity="0.8"/></g><g transform="translate(-0.7 -0.7)"><ellipse cx="236" cy="70" rx="14" ry="16" transform="rotate(0 236 70)" fill="none" stroke="#c2c2c2" stroke-width="1.1" stroke-opacity="0.8"/></g><ellipse cx="193" cy="36" rx="4" ry="4.5" transform="rotate(0 193 36)" fill="#b8b8b8" fill-opacity="1"/><g transform="translate(0.7 0.7)"><ellipse cx="193" cy="36" rx="4" ry="4.5" transform="rotate(0 193 36)" fill="none" stroke="#8a8a8a" stroke-width="1" stroke-opacity="0.9"/></g><g transform="translate(-0.7 -0.7)"><ellipse cx="193" cy="36" rx="4" ry="4.5" transform="rotate(0 193 36)" fill="none" stroke="#d0d0d0" stroke-width="1" stroke-opacity="0.9"/></g><circle cx="179.5" cy="118.5" r="1.6" fill="#3a3a3a" /></g></svg><svg x="1412" y="1726.4" width="228.6" height="223.9" viewBox="0 0 228.6 223.9" overflow="hidden"><rect width="228.6" height="223.9" fill="#a9a9a9"/><g filter="url(#dsoft)"><rect x="-4" y="-4" width="236.3" height="231.9" fill="url(#dicbg)" /><g filter="url(#dtex)"><ellipse cx="116.53" cy="73.83" rx="26.71" ry="20.64" transform="rotate(0 116.53 73.83)" fill="#a9a9a9"/><ellipse cx="88.23" cy="109.84" rx="27.93" ry="24.89" transform="rotate(20 88.23 109.84)" fill="#a9a9a9"/><ellipse cx="130.68" cy="103.41" rx="24.89" ry="23.07" transform="rotate(0 130.68 103.41)" fill="#a9a9a9"/><ellipse cx="169.26" cy="112.41" rx="24.89" ry="23.07" transform="rotate(-20 169.26 112.41)" fill="#a9a9a9"/><ellipse cx="38.07" cy="144.57" rx="25.8" ry="34.91" transform="rotate(20 38.07 144.57)" fill="#a9a9a9"/><ellipse cx="68.94" cy="167.72" rx="29.75" ry="29.14" transform="rotate(10 68.94 167.72)" fill="#a9a9a9"/><ellipse cx="113.95" cy="140.71" rx="32.78" ry="20.03" transform="rotate(10 113.95 140.71)" fill="#a9a9a9"/><ellipse cx="126.82" cy="175.95" rx="37.94" ry="21.25" transform="rotate(-22 126.82 175.95)" fill="#a9a9a9"/><ellipse cx="194.98" cy="68.68" rx="17.61" ry="30.35" transform="rotate(20 194.98 68.68)" fill="#a9a9a9"/><path d="M192.41 51.96 C192.2 46.82 200.99 34.81 205.27 26.24 C209.56 17.66 214.92 4.8 218.14 0.51 C221.35 -3.77 224.99 -4.2 224.57 0.51 C224.14 5.23 218.56 19.38 215.56 28.81 C212.56 38.24 210.42 53.25 206.56 57.11 C202.7 60.96 192.63 57.11 192.41 51.96 Z" fill="#a9a9a9"/></g><g transform="translate(0.6 0.6)"><ellipse cx="116.53" cy="73.83" rx="26.71" ry="20.64" transform="rotate(0 116.53 73.83)" fill="none" stroke="#8a8a8a" stroke-width="1.2" stroke-opacity="0.6"/></g><g transform="translate(-0.6 -0.6)"><ellipse cx="116.53" cy="73.83" rx="26.71" ry="20.64" transform="rotate(0 116.53 73.83)" fill="none" stroke="#c8c8c8" stroke-width="1.2" stroke-opacity="0.6"/></g><g transform="translate(0.4 0.4)"><ellipse cx="117.53" cy="72.83" rx="11.32" ry="8.75" transform="rotate(0 117.53 72.83)" fill="none" stroke="#8a8a8a" stroke-width="0.9" stroke-opacity="0.4"/></g><g transform="translate(-0.4 -0.4)"><ellipse cx="117.53" cy="72.83" rx="11.32" ry="8.75" transform="rotate(0 117.53 72.83)" fill="none" stroke="#c8c8c8" stroke-width="0.9" stroke-opacity="0.4"/></g><g transform="translate(0.6 0.6)"><ellipse cx="88.23" cy="109.84" rx="27.93" ry="24.89" transform="rotate(20 88.23 109.84)" fill="none" stroke="#8a8a8a" stroke-width="1.2" stroke-opacity="0.6"/></g><g transform="translate(-0.6 -0.6)"><ellipse cx="88.23" cy="109.84" rx="27.93" ry="24.89" transform="rotate(20 88.23 109.84)" fill="none" stroke="#c8c8c8" stroke-width="1.2" stroke-opacity="0.6"/></g><g transform="translate(0.4 0.4)"><ellipse cx="89.23" cy="108.84" rx="11.83" ry="10.55" transform="rotate(20 89.23 108.84)" fill="none" stroke="#8a8a8a" stroke-width="0.9" stroke-opacity="0.4"/></g><g transform="translate(-0.4 -0.4)"><ellipse cx="89.23" cy="108.84" rx="11.83" ry="10.55" transform="rotate(20 89.23 108.84)" fill="none" stroke="#c8c8c8" stroke-width="0.9" stroke-opacity="0.4"/></g><g transform="translate(0.6 0.6)"><ellipse cx="130.68" cy="103.41" rx="24.89" ry="23.07" transform="rotate(0 130.68 103.41)" fill="none" stroke="#8a8a8a" stroke-width="1.2" stroke-opacity="0.6"/></g><g transform="translate(-0.6 -0.6)"><ellipse cx="130.68" cy="103.41" rx="24.89" ry="23.07" transform="rotate(0 130.68 103.41)" fill="none" stroke="#c8c8c8" stroke-width="1.2" stroke-opacity="0.6"/></g><g transform="translate(0.4 0.4)"><ellipse cx="131.68" cy="102.41" rx="10.55" ry="9.77" transform="rotate(0 131.68 102.41)" fill="none" stroke="#8a8a8a" stroke-width="0.9" stroke-opacity="0.4"/></g><g transform="translate(-0.4 -0.4)"><ellipse cx="131.68" cy="102.41" rx="10.55" ry="9.77" transform="rotate(0 131.68 102.41)" fill="none" stroke="#c8c8c8" stroke-width="0.9" stroke-opacity="0.4"/></g><g transform="translate(0.6 0.6)"><ellipse cx="169.26" cy="112.41" rx="24.89" ry="23.07" transform="rotate(-20 169.26 112.41)" fill="none" stroke="#8a8a8a" stroke-width="1.2" stroke-opacity="0.6"/></g><g transform="translate(-0.6 -0.6)"><ellipse cx="169.26" cy="112.41" rx="24.89" ry="23.07" transform="rotate(-20 169.26 112.41)" fill="none" stroke="#c8c8c8" stroke-width="1.2" stroke-opacity="0.6"/></g><g transform="translate(0.4 0.4)"><ellipse cx="170.26" cy="111.41" rx="10.55" ry="9.77" transform="rotate(-20 170.26 111.41)" fill="none" stroke="#8a8a8a" stroke-width="0.9" stroke-opacity="0.4"/></g><g transform="translate(-0.4 -0.4)"><ellipse cx="170.26" cy="111.41" rx="10.55" ry="9.77" transform="rotate(-20 170.26 111.41)" fill="none" stroke="#c8c8c8" stroke-width="0.9" stroke-opacity="0.4"/></g><g transform="translate(0.6 0.6)"><ellipse cx="38.07" cy="144.57" rx="25.8" ry="34.91" transform="rotate(20 38.07 144.57)" fill="none" stroke="#8a8a8a" stroke-width="1.2" stroke-opacity="0.6"/></g><g transform="translate(-0.6 -0.6)"><ellipse cx="38.07" cy="144.57" rx="25.8" ry="34.91" transform="rotate(20 38.07 144.57)" fill="none" stroke="#c8c8c8" stroke-width="1.2" stroke-opacity="0.6"/></g><g transform="translate(0.4 0.4)"><ellipse cx="39.07" cy="143.57" rx="10.93" ry="14.79" transform="rotate(20 39.07 143.57)" fill="none" stroke="#8a8a8a" stroke-width="0.9" stroke-opacity="0.4"/></g><g transform="translate(-0.4 -0.4)"><ellipse cx="39.07" cy="143.57" rx="10.93" ry="14.79" transform="rotate(20 39.07 143.57)" fill="none" stroke="#c8c8c8" stroke-width="0.9" stroke-opacity="0.4"/></g><g transform="translate(0.6 0.6)"><ellipse cx="68.94" cy="167.72" rx="29.75" ry="29.14" transform="rotate(10 68.94 167.72)" fill="none" stroke="#8a8a8a" stroke-width="1.2" stroke-opacity="0.6"/></g><g transform="translate(-0.6 -0.6)"><ellipse cx="68.94" cy="167.72" rx="29.75" ry="29.14" transform="rotate(10 68.94 167.72)" fill="none" stroke="#c8c8c8" stroke-width="1.2" stroke-opacity="0.6"/></g><g transform="translate(0.4 0.4)"><ellipse cx="69.94" cy="166.72" rx="12.6" ry="12.35" transform="rotate(10 69.94 166.72)" fill="none" stroke="#8a8a8a" stroke-width="0.9" stroke-opacity="0.4"/></g><g transform="translate(-0.4 -0.4)"><ellipse cx="69.94" cy="166.72" rx="12.6" ry="12.35" transform="rotate(10 69.94 166.72)" fill="none" stroke="#c8c8c8" stroke-width="0.9" stroke-opacity="0.4"/></g><g transform="translate(0.6 0.6)"><ellipse cx="113.95" cy="140.71" rx="32.78" ry="20.03" transform="rotate(10 113.95 140.71)" fill="none" stroke="#8a8a8a" stroke-width="1.2" stroke-opacity="0.6"/></g><g transform="translate(-0.6 -0.6)"><ellipse cx="113.95" cy="140.71" rx="32.78" ry="20.03" transform="rotate(10 113.95 140.71)" fill="none" stroke="#c8c8c8" stroke-width="1.2" stroke-opacity="0.6"/></g><g transform="translate(0.4 0.4)"><ellipse cx="114.95" cy="139.71" rx="13.89" ry="8.49" transform="rotate(10 114.95 139.71)" fill="none" stroke="#8a8a8a" stroke-width="0.9" stroke-opacity="0.4"/></g><g transform="translate(-0.4 -0.4)"><ellipse cx="114.95" cy="139.71" rx="13.89" ry="8.49" transform="rotate(10 114.95 139.71)" fill="none" stroke="#c8c8c8" stroke-width="0.9" stroke-opacity="0.4"/></g><g transform="translate(0.6 0.6)"><ellipse cx="126.82" cy="175.95" rx="37.94" ry="21.25" transform="rotate(-22 126.82 175.95)" fill="none" stroke="#8a8a8a" stroke-width="1.2" stroke-opacity="0.6"/></g><g transform="translate(-0.6 -0.6)"><ellipse cx="126.82" cy="175.95" rx="37.94" ry="21.25" transform="rotate(-22 126.82 175.95)" fill="none" stroke="#c8c8c8" stroke-width="1.2" stroke-opacity="0.6"/></g><g transform="translate(0.4 0.4)"><ellipse cx="127.82" cy="174.95" rx="16.08" ry="9" transform="rotate(-22 127.82 174.95)" fill="none" stroke="#8a8a8a" stroke-width="0.9" stroke-opacity="0.4"/></g><g transform="translate(-0.4 -0.4)"><ellipse cx="127.82" cy="174.95" rx="16.08" ry="9" transform="rotate(-22 127.82 174.95)" fill="none" stroke="#c8c8c8" stroke-width="0.9" stroke-opacity="0.4"/></g><g transform="translate(0.6 0.6)"><ellipse cx="194.98" cy="68.68" rx="17.61" ry="30.35" transform="rotate(20 194.98 68.68)" fill="none" stroke="#8a8a8a" stroke-width="1.2" stroke-opacity="0.6"/></g><g transform="translate(-0.6 -0.6)"><ellipse cx="194.98" cy="68.68" rx="17.61" ry="30.35" transform="rotate(20 194.98 68.68)" fill="none" stroke="#c8c8c8" stroke-width="1.2" stroke-opacity="0.6"/></g><g transform="translate(0.4 0.4)"><ellipse cx="195.98" cy="67.68" rx="7.46" ry="12.86" transform="rotate(20 195.98 67.68)" fill="none" stroke="#8a8a8a" stroke-width="0.9" stroke-opacity="0.4"/></g><g transform="translate(-0.4 -0.4)"><ellipse cx="195.98" cy="67.68" rx="7.46" ry="12.86" transform="rotate(20 195.98 67.68)" fill="none" stroke="#c8c8c8" stroke-width="0.9" stroke-opacity="0.4"/></g><g transform="translate(0.5 0.5)"><path d="M192.41 51.96 C192.2 46.82 200.99 34.81 205.27 26.24 C209.56 17.66 214.92 4.8 218.14 0.51 C221.35 -3.77 224.99 -4.2 224.57 0.51 C224.14 5.23 218.56 19.38 215.56 28.81 C212.56 38.24 210.42 53.25 206.56 57.11 C202.7 60.96 192.63 57.11 192.41 51.96 Z" fill="none" stroke="#8a8a8a" stroke-width="1" stroke-opacity="0.7"/></g><g transform="translate(-0.5 -0.5)"><path d="M192.41 51.96 C192.2 46.82 200.99 34.81 205.27 26.24 C209.56 17.66 214.92 4.8 218.14 0.51 C221.35 -3.77 224.99 -4.2 224.57 0.51 C224.14 5.23 218.56 19.38 215.56 28.81 C212.56 38.24 210.42 53.25 206.56 57.11 C202.7 60.96 192.63 57.11 192.41 51.96 Z" fill="none" stroke="#c8c8c8" stroke-width="1" stroke-opacity="0.7"/></g></g></svg><svg x="1177.3" y="1956.6" width="228.3" height="225.4" viewBox="0 0 228.3 225.4" overflow="hidden"><rect width="228.3" height="225.4" fill="#a9a9a9"/><g filter="url(#dsoft)"><rect x="-4" y="-4" width="236.3" height="233.4" fill="url(#dicbg)" /><g filter="url(#dtex)"><path d="M200.42 113.7 C200.24 118.49 198.8 123.38 197.33 127.97 C195.87 132.57 193.98 137.09 191.63 141.25 C189.27 145.41 186.09 149.17 183.2 152.93 C180.3 156.69 177.34 160.24 174.25 163.81 C171.16 167.38 168.17 171.08 164.66 174.36 C161.14 177.65 157.42 181.13 153.15 183.54 C148.88 185.94 143.87 187.55 139.03 188.82 C134.2 190.08 129.1 190.87 124.14 191.11 C119.19 191.34 114.21 190.41 109.3 190.24 C104.39 190.07 99.57 190.42 94.66 190.07 C89.75 189.71 84.83 189.01 79.85 188.11 C74.86 187.22 69.6 186.37 64.72 184.7 C59.84 183.02 54.83 180.88 50.56 178.07 C46.29 175.26 42.4 171.64 39.12 167.85 C35.83 164.07 32.72 159.84 30.84 155.35 C28.96 150.87 28.51 145.68 27.84 140.96 C27.18 136.25 27.11 131.61 26.86 127.07 C26.61 122.52 26.25 118.14 26.35 113.7 C26.44 109.26 27.03 104.92 27.42 100.42 C27.82 95.93 27.78 91.27 28.7 86.72 C29.61 82.18 30.81 77.39 32.9 73.14 C35 68.89 38.02 64.83 41.28 61.21 C44.54 57.59 48.46 54.35 52.47 51.42 C56.47 48.49 60.79 45.77 65.31 43.65 C69.84 41.52 74.85 40.47 79.6 38.67 C84.35 36.87 88.84 34.21 93.79 32.83 C98.74 31.46 104.12 30.51 109.3 30.45 C114.48 30.38 119.94 31.03 124.89 32.42 C129.83 33.8 134.56 36.36 138.97 38.75 C143.38 41.13 147.63 43.73 151.35 46.72 C155.08 49.71 157.78 53.67 161.32 56.69 C164.87 59.7 169.04 61.84 172.65 64.82 C176.25 67.81 179.72 71.06 182.96 74.59 C186.2 78.12 189.51 81.88 192.09 85.99 C194.67 90.1 197.05 94.63 198.44 99.25 C199.83 103.87 200.61 108.91 200.42 113.7 Z" fill="#a7a7a7"/></g><g transform="translate(0.8 0.8)"><path d="M200.42 113.7 C200.24 118.49 198.8 123.38 197.33 127.97 C195.87 132.57 193.98 137.09 191.63 141.25 C189.27 145.41 186.09 149.17 183.2 152.93 C180.3 156.69 177.34 160.24 174.25 163.81 C171.16 167.38 168.17 171.08 164.66 174.36 C161.14 177.65 157.42 181.13 153.15 183.54 C148.88 185.94 143.87 187.55 139.03 188.82 C134.2 190.08 129.1 190.87 124.14 191.11 C119.19 191.34 114.21 190.41 109.3 190.24 C104.39 190.07 99.57 190.42 94.66 190.07 C89.75 189.71 84.83 189.01 79.85 188.11 C74.86 187.22 69.6 186.37 64.72 184.7 C59.84 183.02 54.83 180.88 50.56 178.07 C46.29 175.26 42.4 171.64 39.12 167.85 C35.83 164.07 32.72 159.84 30.84 155.35 C28.96 150.87 28.51 145.68 27.84 140.96 C27.18 136.25 27.11 131.61 26.86 127.07 C26.61 122.52 26.25 118.14 26.35 113.7 C26.44 109.26 27.03 104.92 27.42 100.42 C27.82 95.93 27.78 91.27 28.7 86.72 C29.61 82.18 30.81 77.39 32.9 73.14 C35 68.89 38.02 64.83 41.28 61.21 C44.54 57.59 48.46 54.35 52.47 51.42 C56.47 48.49 60.79 45.77 65.31 43.65 C69.84 41.52 74.85 40.47 79.6 38.67 C84.35 36.87 88.84 34.21 93.79 32.83 C98.74 31.46 104.12 30.51 109.3 30.45 C114.48 30.38 119.94 31.03 124.89 32.42 C129.83 33.8 134.56 36.36 138.97 38.75 C143.38 41.13 147.63 43.73 151.35 46.72 C155.08 49.71 157.78 53.67 161.32 56.69 C164.87 59.7 169.04 61.84 172.65 64.82 C176.25 67.81 179.72 71.06 182.96 74.59 C186.2 78.12 189.51 81.88 192.09 85.99 C194.67 90.1 197.05 94.63 198.44 99.25 C199.83 103.87 200.61 108.91 200.42 113.7 Z" fill="none" stroke="#8b8b8b" stroke-width="1.6" stroke-opacity="0.9"/></g><g transform="translate(-0.8 -0.8)"><path d="M200.42 113.7 C200.24 118.49 198.8 123.38 197.33 127.97 C195.87 132.57 193.98 137.09 191.63 141.25 C189.27 145.41 186.09 149.17 183.2 152.93 C180.3 156.69 177.34 160.24 174.25 163.81 C171.16 167.38 168.17 171.08 164.66 174.36 C161.14 177.65 157.42 181.13 153.15 183.54 C148.88 185.94 143.87 187.55 139.03 188.82 C134.2 190.08 129.1 190.87 124.14 191.11 C119.19 191.34 114.21 190.41 109.3 190.24 C104.39 190.07 99.57 190.42 94.66 190.07 C89.75 189.71 84.83 189.01 79.85 188.11 C74.86 187.22 69.6 186.37 64.72 184.7 C59.84 183.02 54.83 180.88 50.56 178.07 C46.29 175.26 42.4 171.64 39.12 167.85 C35.83 164.07 32.72 159.84 30.84 155.35 C28.96 150.87 28.51 145.68 27.84 140.96 C27.18 136.25 27.11 131.61 26.86 127.07 C26.61 122.52 26.25 118.14 26.35 113.7 C26.44 109.26 27.03 104.92 27.42 100.42 C27.82 95.93 27.78 91.27 28.7 86.72 C29.61 82.18 30.81 77.39 32.9 73.14 C35 68.89 38.02 64.83 41.28 61.21 C44.54 57.59 48.46 54.35 52.47 51.42 C56.47 48.49 60.79 45.77 65.31 43.65 C69.84 41.52 74.85 40.47 79.6 38.67 C84.35 36.87 88.84 34.21 93.79 32.83 C98.74 31.46 104.12 30.51 109.3 30.45 C114.48 30.38 119.94 31.03 124.89 32.42 C129.83 33.8 134.56 36.36 138.97 38.75 C143.38 41.13 147.63 43.73 151.35 46.72 C155.08 49.71 157.78 53.67 161.32 56.69 C164.87 59.7 169.04 61.84 172.65 64.82 C176.25 67.81 179.72 71.06 182.96 74.59 C186.2 78.12 189.51 81.88 192.09 85.99 C194.67 90.1 197.05 94.63 198.44 99.25 C199.83 103.87 200.61 108.91 200.42 113.7 Z" fill="none" stroke="#c9c9c9" stroke-width="1.6" stroke-opacity="0.9"/></g><g transform="translate(0.5 0.5)"><ellipse cx="64.3" cy="65.7" rx="26" ry="22" transform="rotate(24.53 64.3 65.7)" fill="none" stroke="#969696" stroke-width="1" stroke-opacity="0.5"/></g><g transform="translate(-0.5 -0.5)"><ellipse cx="64.3" cy="65.7" rx="26" ry="22" transform="rotate(24.53 64.3 65.7)" fill="none" stroke="#bdbdbd" stroke-width="1" stroke-opacity="0.5"/></g><ellipse cx="64.88" cy="68.76" rx="4.5" ry="4.5" transform="rotate(0 64.88 68.76)" fill="#b3b3b3" fill-opacity="0.6"/><g transform="translate(0.4 0.4)"><ellipse cx="64.88" cy="68.76" rx="4.5" ry="4.5" transform="rotate(0 64.88 68.76)" fill="none" stroke="#8f8f8f" stroke-width="0.9" stroke-opacity="0.7"/></g><g transform="translate(-0.4 -0.4)"><ellipse cx="64.88" cy="68.76" rx="4.5" ry="4.5" transform="rotate(0 64.88 68.76)" fill="none" stroke="#c4c4c4" stroke-width="0.9" stroke-opacity="0.7"/></g><g transform="translate(0.5 0.5)"><ellipse cx="94.3" cy="88.7" rx="18" ry="17" transform="rotate(20.88 94.3 88.7)" fill="none" stroke="#969696" stroke-width="1" stroke-opacity="0.5"/></g><g transform="translate(-0.5 -0.5)"><ellipse cx="94.3" cy="88.7" rx="18" ry="17" transform="rotate(20.88 94.3 88.7)" fill="none" stroke="#bdbdbd" stroke-width="1" stroke-opacity="0.5"/></g><ellipse cx="94.37" cy="88.01" rx="4.5" ry="4.5" transform="rotate(0 94.37 88.01)" fill="#b3b3b3" fill-opacity="0.6"/><g transform="translate(0.4 0.4)"><ellipse cx="94.37" cy="88.01" rx="4.5" ry="4.5" transform="rotate(0 94.37 88.01)" fill="none" stroke="#8f8f8f" stroke-width="0.9" stroke-opacity="0.7"/></g><g transform="translate(-0.4 -0.4)"><ellipse cx="94.37" cy="88.01" rx="4.5" ry="4.5" transform="rotate(0 94.37 88.01)" fill="none" stroke="#c4c4c4" stroke-width="0.9" stroke-opacity="0.7"/></g><g transform="translate(0.5 0.5)"><ellipse cx="139.3" cy="73.7" rx="25" ry="20" transform="rotate(5.93 139.3 73.7)" fill="none" stroke="#969696" stroke-width="1" stroke-opacity="0.5"/></g><g transform="translate(-0.5 -0.5)"><ellipse cx="139.3" cy="73.7" rx="25" ry="20" transform="rotate(5.93 139.3 73.7)" fill="none" stroke="#bdbdbd" stroke-width="1" stroke-opacity="0.5"/></g><ellipse cx="138.75" cy="70.99" rx="4.5" ry="4.5" transform="rotate(0 138.75 70.99)" fill="#b3b3b3" fill-opacity="0.6"/><g transform="translate(0.4 0.4)"><ellipse cx="138.75" cy="70.99" rx="4.5" ry="4.5" transform="rotate(0 138.75 70.99)" fill="none" stroke="#8f8f8f" stroke-width="0.9" stroke-opacity="0.7"/></g><g transform="translate(-0.4 -0.4)"><ellipse cx="138.75" cy="70.99" rx="4.5" ry="4.5" transform="rotate(0 138.75 70.99)" fill="none" stroke="#c4c4c4" stroke-width="0.9" stroke-opacity="0.7"/></g><g transform="translate(0.5 0.5)"><ellipse cx="161.3" cy="113.7" rx="22" ry="20" transform="rotate(-11.69 161.3 113.7)" fill="none" stroke="#969696" stroke-width="1" stroke-opacity="0.5"/></g><g transform="translate(-0.5 -0.5)"><ellipse cx="161.3" cy="113.7" rx="22" ry="20" transform="rotate(-11.69 161.3 113.7)" fill="none" stroke="#bdbdbd" stroke-width="1" stroke-opacity="0.5"/></g><ellipse cx="163.8" cy="110.05" rx="4.5" ry="4.5" transform="rotate(0 163.8 110.05)" fill="#b3b3b3" fill-opacity="0.6"/><g transform="translate(0.4 0.4)"><ellipse cx="163.8" cy="110.05" rx="4.5" ry="4.5" transform="rotate(0 163.8 110.05)" fill="none" stroke="#8f8f8f" stroke-width="0.9" stroke-opacity="0.7"/></g><g transform="translate(-0.4 -0.4)"><ellipse cx="163.8" cy="110.05" rx="4.5" ry="4.5" transform="rotate(0 163.8 110.05)" fill="none" stroke="#c4c4c4" stroke-width="0.9" stroke-opacity="0.7"/></g><g transform="translate(0.5 0.5)"><ellipse cx="57.3" cy="118.7" rx="24" ry="22" transform="rotate(-27.22 57.3 118.7)" fill="none" stroke="#969696" stroke-width="1" stroke-opacity="0.5"/></g><g transform="translate(-0.5 -0.5)"><ellipse cx="57.3" cy="118.7" rx="24" ry="22" transform="rotate(-27.22 57.3 118.7)" fill="none" stroke="#bdbdbd" stroke-width="1" stroke-opacity="0.5"/></g><ellipse cx="58.31" cy="116.94" rx="4.5" ry="4.5" transform="rotate(0 58.31 116.94)" fill="#b3b3b3" fill-opacity="0.6"/><g transform="translate(0.4 0.4)"><ellipse cx="58.31" cy="116.94" rx="4.5" ry="4.5" transform="rotate(0 58.31 116.94)" fill="none" stroke="#8f8f8f" stroke-width="0.9" stroke-opacity="0.7"/></g><g transform="translate(-0.4 -0.4)"><ellipse cx="58.31" cy="116.94" rx="4.5" ry="4.5" transform="rotate(0 58.31 116.94)" fill="none" stroke="#c4c4c4" stroke-width="0.9" stroke-opacity="0.7"/></g><g transform="translate(0.5 0.5)"><ellipse cx="104.3" cy="128.7" rx="30" ry="20" transform="rotate(2.08 104.3 128.7)" fill="none" stroke="#969696" stroke-width="1" stroke-opacity="0.5"/></g><g transform="translate(-0.5 -0.5)"><ellipse cx="104.3" cy="128.7" rx="30" ry="20" transform="rotate(2.08 104.3 128.7)" fill="none" stroke="#bdbdbd" stroke-width="1" stroke-opacity="0.5"/></g><ellipse cx="104.07" cy="127.44" rx="4.5" ry="4.5" transform="rotate(0 104.07 127.44)" fill="#b3b3b3" fill-opacity="0.6"/><g transform="translate(0.4 0.4)"><ellipse cx="104.07" cy="127.44" rx="4.5" ry="4.5" transform="rotate(0 104.07 127.44)" fill="none" stroke="#8f8f8f" stroke-width="0.9" stroke-opacity="0.7"/></g><g transform="translate(-0.4 -0.4)"><ellipse cx="104.07" cy="127.44" rx="4.5" ry="4.5" transform="rotate(0 104.07 127.44)" fill="none" stroke="#c4c4c4" stroke-width="0.9" stroke-opacity="0.7"/></g><g transform="translate(0.5 0.5)"><ellipse cx="89.3" cy="158.7" rx="22" ry="20" transform="rotate(29.84 89.3 158.7)" fill="none" stroke="#969696" stroke-width="1" stroke-opacity="0.5"/></g><g transform="translate(-0.5 -0.5)"><ellipse cx="89.3" cy="158.7" rx="22" ry="20" transform="rotate(29.84 89.3 158.7)" fill="none" stroke="#bdbdbd" stroke-width="1" stroke-opacity="0.5"/></g><ellipse cx="86.86" cy="158" rx="4.5" ry="4.5" transform="rotate(0 86.86 158)" fill="#b3b3b3" fill-opacity="0.6"/><g transform="translate(0.4 0.4)"><ellipse cx="86.86" cy="158" rx="4.5" ry="4.5" transform="rotate(0 86.86 158)" fill="none" stroke="#8f8f8f" stroke-width="0.9" stroke-opacity="0.7"/></g><g transform="translate(-0.4 -0.4)"><ellipse cx="86.86" cy="158" rx="4.5" ry="4.5" transform="rotate(0 86.86 158)" fill="none" stroke="#c4c4c4" stroke-width="0.9" stroke-opacity="0.7"/></g><g transform="translate(0.5 0.5)"><ellipse cx="134.3" cy="163.7" rx="24" ry="22" transform="rotate(-17.84 134.3 163.7)" fill="none" stroke="#969696" stroke-width="1" stroke-opacity="0.5"/></g><g transform="translate(-0.5 -0.5)"><ellipse cx="134.3" cy="163.7" rx="24" ry="22" transform="rotate(-17.84 134.3 163.7)" fill="none" stroke="#bdbdbd" stroke-width="1" stroke-opacity="0.5"/></g><ellipse cx="135.36" cy="161.91" rx="4.5" ry="4.5" transform="rotate(0 135.36 161.91)" fill="#b3b3b3" fill-opacity="0.6"/><g transform="translate(0.4 0.4)"><ellipse cx="135.36" cy="161.91" rx="4.5" ry="4.5" transform="rotate(0 135.36 161.91)" fill="none" stroke="#8f8f8f" stroke-width="0.9" stroke-opacity="0.7"/></g><g transform="translate(-0.4 -0.4)"><ellipse cx="135.36" cy="161.91" rx="4.5" ry="4.5" transform="rotate(0 135.36 161.91)" fill="none" stroke="#c4c4c4" stroke-width="0.9" stroke-opacity="0.7"/></g><g transform="translate(0.5 0.5)"><ellipse cx="59.3" cy="158.7" rx="20" ry="18" transform="rotate(-8.65 59.3 158.7)" fill="none" stroke="#969696" stroke-width="1" stroke-opacity="0.5"/></g><g transform="translate(-0.5 -0.5)"><ellipse cx="59.3" cy="158.7" rx="20" ry="18" transform="rotate(-8.65 59.3 158.7)" fill="none" stroke="#bdbdbd" stroke-width="1" stroke-opacity="0.5"/></g><ellipse cx="61.28" cy="157.27" rx="4.5" ry="4.5" transform="rotate(0 61.28 157.27)" fill="#b3b3b3" fill-opacity="0.6"/><g transform="translate(0.4 0.4)"><ellipse cx="61.28" cy="157.27" rx="4.5" ry="4.5" transform="rotate(0 61.28 157.27)" fill="none" stroke="#8f8f8f" stroke-width="0.9" stroke-opacity="0.7"/></g><g transform="translate(-0.4 -0.4)"><ellipse cx="61.28" cy="157.27" rx="4.5" ry="4.5" transform="rotate(0 61.28 157.27)" fill="none" stroke="#c4c4c4" stroke-width="0.9" stroke-opacity="0.7"/></g><g transform="translate(0.5 0.5)"><ellipse cx="164.3" cy="148.7" rx="18" ry="17" transform="rotate(3.51 164.3 148.7)" fill="none" stroke="#969696" stroke-width="1" stroke-opacity="0.5"/></g><g transform="translate(-0.5 -0.5)"><ellipse cx="164.3" cy="148.7" rx="18" ry="17" transform="rotate(3.51 164.3 148.7)" fill="none" stroke="#bdbdbd" stroke-width="1" stroke-opacity="0.5"/></g><ellipse cx="167.53" cy="145.51" rx="4.5" ry="4.5" transform="rotate(0 167.53 145.51)" fill="#b3b3b3" fill-opacity="0.6"/><g transform="translate(0.4 0.4)"><ellipse cx="167.53" cy="145.51" rx="4.5" ry="4.5" transform="rotate(0 167.53 145.51)" fill="none" stroke="#8f8f8f" stroke-width="0.9" stroke-opacity="0.7"/></g><g transform="translate(-0.4 -0.4)"><ellipse cx="167.53" cy="145.51" rx="4.5" ry="4.5" transform="rotate(0 167.53 145.51)" fill="none" stroke="#c4c4c4" stroke-width="0.9" stroke-opacity="0.7"/></g><ellipse cx="-2" cy="30" rx="32" ry="42" transform="rotate(10 -2 30)" fill="#adadad" fill-opacity="0.7"/><g transform="translate(0.7 0.7)"><ellipse cx="-2" cy="30" rx="32" ry="42" transform="rotate(10 -2 30)" fill="none" stroke="#8c8c8c" stroke-width="1.4" stroke-opacity="0.9"/></g><g transform="translate(-0.7 -0.7)"><ellipse cx="-2" cy="30" rx="32" ry="42" transform="rotate(10 -2 30)" fill="none" stroke="#c8c8c8" stroke-width="1.4" stroke-opacity="0.9"/></g><g transform="translate(0.7 0.7)"><ellipse cx="2" cy="10" rx="22" ry="26" transform="rotate(10 2 10)" fill="none" stroke="#8f8f8f" stroke-width="1" stroke-opacity="0.7"/></g><g transform="translate(-0.7 -0.7)"><ellipse cx="2" cy="10" rx="22" ry="26" transform="rotate(10 2 10)" fill="none" stroke="#c4c4c4" stroke-width="1" stroke-opacity="0.7"/></g><ellipse cx="232" cy="95" rx="26" ry="38" transform="rotate(-10 232 95)" fill="#a5a5a5" fill-opacity="0.7"/><g transform="translate(0.7 0.7)"><ellipse cx="232" cy="95" rx="26" ry="38" transform="rotate(-10 232 95)" fill="none" stroke="#878787" stroke-width="1.4" stroke-opacity="0.9"/></g><g transform="translate(-0.7 -0.7)"><ellipse cx="232" cy="95" rx="26" ry="38" transform="rotate(-10 232 95)" fill="none" stroke="#c2c2c2" stroke-width="1.4" stroke-opacity="0.9"/></g><g transform="translate(0.7 0.7)"><ellipse cx="236" cy="70" rx="14" ry="16" transform="rotate(0 236 70)" fill="none" stroke="#888888" stroke-width="1.1" stroke-opacity="0.8"/></g><g transform="translate(-0.7 -0.7)"><ellipse cx="236" cy="70" rx="14" ry="16" transform="rotate(0 236 70)" fill="none" stroke="#c2c2c2" stroke-width="1.1" stroke-opacity="0.8"/></g><ellipse cx="193" cy="36" rx="4" ry="4.5" transform="rotate(0 193 36)" fill="#b8b8b8" fill-opacity="1"/><g transform="translate(0.7 0.7)"><ellipse cx="193" cy="36" rx="4" ry="4.5" transform="rotate(0 193 36)" fill="none" stroke="#8a8a8a" stroke-width="1" stroke-opacity="0.9"/></g><g transform="translate(-0.7 -0.7)"><ellipse cx="193" cy="36" rx="4" ry="4.5" transform="rotate(0 193 36)" fill="none" stroke="#d0d0d0" stroke-width="1" stroke-opacity="0.9"/></g><circle cx="179.5" cy="118.5" r="1.6" fill="#3a3a3a" /></g></svg><svg x="1412" y="1956.6" width="228.6" height="225.4" viewBox="0 0 228.6 225.4" overflow="hidden"><rect width="228.6" height="225.4" fill="#a9a9a9"/><g filter="url(#dsoft)"><rect x="-4" y="-4" width="236.3" height="233.4" fill="url(#dicbg)" /><g filter="url(#gtex)"><ellipse cx="116.53" cy="73.83" rx="26.71" ry="20.64" transform="rotate(0 116.53 73.83)" fill="#97cba3"/><ellipse cx="88.23" cy="109.84" rx="27.93" ry="24.89" transform="rotate(20 88.23 109.84)" fill="#97cba3"/><ellipse cx="130.68" cy="103.41" rx="24.89" ry="23.07" transform="rotate(0 130.68 103.41)" fill="#97cba3"/><ellipse cx="169.26" cy="112.41" rx="24.89" ry="23.07" transform="rotate(-20 169.26 112.41)" fill="#97cba3"/><ellipse cx="38.07" cy="144.57" rx="25.8" ry="34.91" transform="rotate(20 38.07 144.57)" fill="#97cba3"/><ellipse cx="68.94" cy="167.72" rx="29.75" ry="29.14" transform="rotate(10 68.94 167.72)" fill="#97cba3"/><ellipse cx="113.95" cy="140.71" rx="32.78" ry="20.03" transform="rotate(10 113.95 140.71)" fill="#97cba3"/><ellipse cx="126.82" cy="175.95" rx="37.94" ry="21.25" transform="rotate(-22 126.82 175.95)" fill="#97cba3"/><ellipse cx="194.98" cy="68.68" rx="17.61" ry="30.35" transform="rotate(20 194.98 68.68)" fill="#97cba3"/><path d="M192.41 51.96 C192.2 46.82 200.99 34.81 205.27 26.24 C209.56 17.66 214.92 4.8 218.14 0.51 C221.35 -3.77 224.99 -4.2 224.57 0.51 C224.14 5.23 218.56 19.38 215.56 28.81 C212.56 38.24 210.42 53.25 206.56 57.11 C202.7 60.96 192.63 57.11 192.41 51.96 Z" fill="#97cba3"/></g><g transform="translate(0.6 0.6)"><ellipse cx="116.53" cy="73.83" rx="26.71" ry="20.64" transform="rotate(0 116.53 73.83)" fill="none" stroke="#6ea57a" stroke-width="1.2" stroke-opacity="0.6"/></g><g transform="translate(-0.6 -0.6)"><ellipse cx="116.53" cy="73.83" rx="26.71" ry="20.64" transform="rotate(0 116.53 73.83)" fill="none" stroke="#b5dfbd" stroke-width="1.2" stroke-opacity="0.6"/></g><g transform="translate(0.4 0.4)"><ellipse cx="117.53" cy="72.83" rx="11.32" ry="8.75" transform="rotate(0 117.53 72.83)" fill="none" stroke="#6ea57a" stroke-width="0.9" stroke-opacity="0.4"/></g><g transform="translate(-0.4 -0.4)"><ellipse cx="117.53" cy="72.83" rx="11.32" ry="8.75" transform="rotate(0 117.53 72.83)" fill="none" stroke="#b5dfbd" stroke-width="0.9" stroke-opacity="0.4"/></g><g transform="translate(0.6 0.6)"><ellipse cx="88.23" cy="109.84" rx="27.93" ry="24.89" transform="rotate(20 88.23 109.84)" fill="none" stroke="#6ea57a" stroke-width="1.2" stroke-opacity="0.6"/></g><g transform="translate(-0.6 -0.6)"><ellipse cx="88.23" cy="109.84" rx="27.93" ry="24.89" transform="rotate(20 88.23 109.84)" fill="none" stroke="#b5dfbd" stroke-width="1.2" stroke-opacity="0.6"/></g><g transform="translate(0.4 0.4)"><ellipse cx="89.23" cy="108.84" rx="11.83" ry="10.55" transform="rotate(20 89.23 108.84)" fill="none" stroke="#6ea57a" stroke-width="0.9" stroke-opacity="0.4"/></g><g transform="translate(-0.4 -0.4)"><ellipse cx="89.23" cy="108.84" rx="11.83" ry="10.55" transform="rotate(20 89.23 108.84)" fill="none" stroke="#b5dfbd" stroke-width="0.9" stroke-opacity="0.4"/></g><g transform="translate(0.6 0.6)"><ellipse cx="130.68" cy="103.41" rx="24.89" ry="23.07" transform="rotate(0 130.68 103.41)" fill="none" stroke="#6ea57a" stroke-width="1.2" stroke-opacity="0.6"/></g><g transform="translate(-0.6 -0.6)"><ellipse cx="130.68" cy="103.41" rx="24.89" ry="23.07" transform="rotate(0 130.68 103.41)" fill="none" stroke="#b5dfbd" stroke-width="1.2" stroke-opacity="0.6"/></g><g transform="translate(0.4 0.4)"><ellipse cx="131.68" cy="102.41" rx="10.55" ry="9.77" transform="rotate(0 131.68 102.41)" fill="none" stroke="#6ea57a" stroke-width="0.9" stroke-opacity="0.4"/></g><g transform="translate(-0.4 -0.4)"><ellipse cx="131.68" cy="102.41" rx="10.55" ry="9.77" transform="rotate(0 131.68 102.41)" fill="none" stroke="#b5dfbd" stroke-width="0.9" stroke-opacity="0.4"/></g><g transform="translate(0.6 0.6)"><ellipse cx="169.26" cy="112.41" rx="24.89" ry="23.07" transform="rotate(-20 169.26 112.41)" fill="none" stroke="#6ea57a" stroke-width="1.2" stroke-opacity="0.6"/></g><g transform="translate(-0.6 -0.6)"><ellipse cx="169.26" cy="112.41" rx="24.89" ry="23.07" transform="rotate(-20 169.26 112.41)" fill="none" stroke="#b5dfbd" stroke-width="1.2" stroke-opacity="0.6"/></g><g transform="translate(0.4 0.4)"><ellipse cx="170.26" cy="111.41" rx="10.55" ry="9.77" transform="rotate(-20 170.26 111.41)" fill="none" stroke="#6ea57a" stroke-width="0.9" stroke-opacity="0.4"/></g><g transform="translate(-0.4 -0.4)"><ellipse cx="170.26" cy="111.41" rx="10.55" ry="9.77" transform="rotate(-20 170.26 111.41)" fill="none" stroke="#b5dfbd" stroke-width="0.9" stroke-opacity="0.4"/></g><g transform="translate(0.6 0.6)"><ellipse cx="38.07" cy="144.57" rx="25.8" ry="34.91" transform="rotate(20 38.07 144.57)" fill="none" stroke="#6ea57a" stroke-width="1.2" stroke-opacity="0.6"/></g><g transform="translate(-0.6 -0.6)"><ellipse cx="38.07" cy="144.57" rx="25.8" ry="34.91" transform="rotate(20 38.07 144.57)" fill="none" stroke="#b5dfbd" stroke-width="1.2" stroke-opacity="0.6"/></g><g transform="translate(0.4 0.4)"><ellipse cx="39.07" cy="143.57" rx="10.93" ry="14.79" transform="rotate(20 39.07 143.57)" fill="none" stroke="#6ea57a" stroke-width="0.9" stroke-opacity="0.4"/></g><g transform="translate(-0.4 -0.4)"><ellipse cx="39.07" cy="143.57" rx="10.93" ry="14.79" transform="rotate(20 39.07 143.57)" fill="none" stroke="#b5dfbd" stroke-width="0.9" stroke-opacity="0.4"/></g><g transform="translate(0.6 0.6)"><ellipse cx="68.94" cy="167.72" rx="29.75" ry="29.14" transform="rotate(10 68.94 167.72)" fill="none" stroke="#6ea57a" stroke-width="1.2" stroke-opacity="0.6"/></g><g transform="translate(-0.6 -0.6)"><ellipse cx="68.94" cy="167.72" rx="29.75" ry="29.14" transform="rotate(10 68.94 167.72)" fill="none" stroke="#b5dfbd" stroke-width="1.2" stroke-opacity="0.6"/></g><g transform="translate(0.4 0.4)"><ellipse cx="69.94" cy="166.72" rx="12.6" ry="12.35" transform="rotate(10 69.94 166.72)" fill="none" stroke="#6ea57a" stroke-width="0.9" stroke-opacity="0.4"/></g><g transform="translate(-0.4 -0.4)"><ellipse cx="69.94" cy="166.72" rx="12.6" ry="12.35" transform="rotate(10 69.94 166.72)" fill="none" stroke="#b5dfbd" stroke-width="0.9" stroke-opacity="0.4"/></g><g transform="translate(0.6 0.6)"><ellipse cx="113.95" cy="140.71" rx="32.78" ry="20.03" transform="rotate(10 113.95 140.71)" fill="none" stroke="#6ea57a" stroke-width="1.2" stroke-opacity="0.6"/></g><g transform="translate(-0.6 -0.6)"><ellipse cx="113.95" cy="140.71" rx="32.78" ry="20.03" transform="rotate(10 113.95 140.71)" fill="none" stroke="#b5dfbd" stroke-width="1.2" stroke-opacity="0.6"/></g><g transform="translate(0.4 0.4)"><ellipse cx="114.95" cy="139.71" rx="13.89" ry="8.49" transform="rotate(10 114.95 139.71)" fill="none" stroke="#6ea57a" stroke-width="0.9" stroke-opacity="0.4"/></g><g transform="translate(-0.4 -0.4)"><ellipse cx="114.95" cy="139.71" rx="13.89" ry="8.49" transform="rotate(10 114.95 139.71)" fill="none" stroke="#b5dfbd" stroke-width="0.9" stroke-opacity="0.4"/></g><g transform="translate(0.6 0.6)"><ellipse cx="126.82" cy="175.95" rx="37.94" ry="21.25" transform="rotate(-22 126.82 175.95)" fill="none" stroke="#6ea57a" stroke-width="1.2" stroke-opacity="0.6"/></g><g transform="translate(-0.6 -0.6)"><ellipse cx="126.82" cy="175.95" rx="37.94" ry="21.25" transform="rotate(-22 126.82 175.95)" fill="none" stroke="#b5dfbd" stroke-width="1.2" stroke-opacity="0.6"/></g><g transform="translate(0.4 0.4)"><ellipse cx="127.82" cy="174.95" rx="16.08" ry="9" transform="rotate(-22 127.82 174.95)" fill="none" stroke="#6ea57a" stroke-width="0.9" stroke-opacity="0.4"/></g><g transform="translate(-0.4 -0.4)"><ellipse cx="127.82" cy="174.95" rx="16.08" ry="9" transform="rotate(-22 127.82 174.95)" fill="none" stroke="#b5dfbd" stroke-width="0.9" stroke-opacity="0.4"/></g><g transform="translate(0.6 0.6)"><ellipse cx="194.98" cy="68.68" rx="17.61" ry="30.35" transform="rotate(20 194.98 68.68)" fill="none" stroke="#6ea57a" stroke-width="1.2" stroke-opacity="0.6"/></g><g transform="translate(-0.6 -0.6)"><ellipse cx="194.98" cy="68.68" rx="17.61" ry="30.35" transform="rotate(20 194.98 68.68)" fill="none" stroke="#b5dfbd" stroke-width="1.2" stroke-opacity="0.6"/></g><g transform="translate(0.4 0.4)"><ellipse cx="195.98" cy="67.68" rx="7.46" ry="12.86" transform="rotate(20 195.98 67.68)" fill="none" stroke="#6ea57a" stroke-width="0.9" stroke-opacity="0.4"/></g><g transform="translate(-0.4 -0.4)"><ellipse cx="195.98" cy="67.68" rx="7.46" ry="12.86" transform="rotate(20 195.98 67.68)" fill="none" stroke="#b5dfbd" stroke-width="0.9" stroke-opacity="0.4"/></g><g transform="translate(0.5 0.5)"><path d="M192.41 51.96 C192.2 46.82 200.99 34.81 205.27 26.24 C209.56 17.66 214.92 4.8 218.14 0.51 C221.35 -3.77 224.99 -4.2 224.57 0.51 C224.14 5.23 218.56 19.38 215.56 28.81 C212.56 38.24 210.42 53.25 206.56 57.11 C202.7 60.96 192.63 57.11 192.41 51.96 Z" fill="none" stroke="#6ea57a" stroke-width="1" stroke-opacity="0.7"/></g><g transform="translate(-0.5 -0.5)"><path d="M192.41 51.96 C192.2 46.82 200.99 34.81 205.27 26.24 C209.56 17.66 214.92 4.8 218.14 0.51 C221.35 -3.77 224.99 -4.2 224.57 0.51 C224.14 5.23 218.56 19.38 215.56 28.81 C212.56 38.24 210.42 53.25 206.56 57.11 C202.7 60.96 192.63 57.11 192.41 51.96 Z" fill="none" stroke="#b5dfbd" stroke-width="1" stroke-opacity="0.7"/></g></g></svg>
<text transform="translate(1171 1849.7) rotate(-90)" font-size="31.5" text-anchor="middle">DIC</text>
<text transform="translate(1166 2059.5) rotate(-90)" font-size="31.5" text-anchor="middle">Merge</text>
<text x="1415" y="1979.4" font-size="28.3" font-weight="bold" fill="#00ff00">TRIM40</text>
<rect x="1346.2" y="2165.3" width="50" height="6.3" fill="#fff" />
<rect x="1580.2" y="2165.3" width="50" height="6.3" fill="#fff" />
</g>
<g id="panel_j">
<text x="1693" y="1629.5" font-size="51" font-weight="bold">j</text>
<text x="1887" y="1651.7" font-size="26.2" text-anchor="middle" font-weight="bold">Cell-to-Cell Distance</text>
<path d="M1843.56 1714 L1840.57 1719.42 L1838.36 1724.39 L1835.5 1728.81 L1830.75 1731.6 L1826.59 1733.98 L1824.83 1739.03 L1823 1746.02 L1818.48 1750.05 L1812.46 1749.18 L1807 1747.18 L1801.89 1746.92 L1796.71 1746.3 L1792.33 1743.37 L1788.3 1740.26 L1782.88 1738.6 L1777.28 1736.02 L1775.47 1730.39 L1777.73 1723.7 L1779.32 1718.47 L1777.56 1714 L1775.38 1708.89 L1775.59 1703.59 L1776.69 1698.25 L1777.35 1692.03 L1779.92 1686.38 L1786.03 1684.56 L1793.03 1686.04 L1798.09 1686.02 L1802.14 1682.69 L1807 1679.86 L1812.21 1680.43 L1817.11 1682.27 L1822.29 1683.39 L1827.09 1685.79 L1829.55 1691 L1830.68 1696.45 L1834.27 1699.83 L1840.5 1702.9 L1844.51 1707.94 Z" stroke="#000" stroke-width="1.5" fill="none" stroke-linejoin="round"/>
<path d="M1997.46 1712 L1998.82 1717.95 L1995.05 1722.95 L1988.85 1725.95 L1985.04 1729.07 L1983.62 1734.05 L1981.11 1738.83 L1976.6 1741.22 L1971.8 1742.75 L1967.13 1745.05 L1962 1745.75 L1957.23 1742.75 L1953.37 1739.08 L1948.65 1738.73 L1942.03 1740.04 L1936.1 1738.42 L1933.3 1733.27 L1932.18 1727.5 L1930.84 1722.33 L1930.84 1717.03 L1933.46 1712 L1935.61 1707.74 L1934.18 1702.78 L1931.82 1696.32 L1933.26 1690.7 L1938.36 1687.89 L1943.49 1686.02 L1947.54 1683.05 L1952.02 1680.67 L1957.12 1680.57 L1962 1680.47 L1967.24 1678.27 L1973.15 1677 L1977.7 1680.57 L1979.64 1687.23 L1981.35 1692.26 L1985.08 1694.9 L1989.2 1697.86 L1991.71 1702.15 L1994.05 1706.82 Z" stroke="#000" stroke-width="1.5" fill="none" stroke-linejoin="round"/>
<ellipse cx="1806.3" cy="1714.3" rx="8.8" ry="9.7" fill="#fff" stroke="#000" stroke-width="1.5"/>
<ellipse cx="1956.7" cy="1714.3" rx="8.8" ry="7.5" fill="#fff" stroke="#000" stroke-width="1.5"/>
<line x1="1846.2" y1="1696.7" x2="1846.2" y2="1730.5" stroke="#000" stroke-width="1.5" />
<line x1="1923.8" y1="1696.7" x2="1923.8" y2="1730.5" stroke="#000" stroke-width="1.5" />
<line x1="1806.3" y1="1714.3" x2="1846" y2="1714.3" stroke="#000" stroke-width="1.2" stroke-dasharray="2.5 2.5"/>
<line x1="1924" y1="1714.3" x2="1956.7" y2="1714.3" stroke="#000" stroke-width="1.2" stroke-dasharray="2.5 2.5"/>
<line x1="1849" y1="1714.3" x2="1921" y2="1714.3" stroke="#000" stroke-width="1.4" />
<path d="M1846.8 1714.3 l6 -2.6 v5.2 z M1923.2 1714.3 l-6 -2.6 v5.2 z" fill="#000"/>
<line x1="1885.3" y1="1668" x2="1885.3" y2="1695" stroke="#000" stroke-width="3" />
<path d="M1877.6 1692.5 h15.4 l-7.7 15 z" fill="#000"/>
<line x1="1848.7" y1="1784.4" x2="1848.7" y2="2111.7" stroke="#000" stroke-width="2" />
<line x1="1835.2" y1="2110.7" x2="1988" y2="2110.7" stroke="#000" stroke-width="2" />
<line x1="1835.2" y1="1785.3" x2="1848.7" y2="1785.3" stroke="#000" stroke-width="2" />
<text x="1832" y="1794.5" font-size="26" text-anchor="end">1.5</text>
<line x1="1835.2" y1="1894.2" x2="1848.7" y2="1894.2" stroke="#000" stroke-width="2" />
<text x="1832" y="1903.4" font-size="26" text-anchor="end">1.0</text>
<line x1="1835.2" y1="2002.7" x2="1848.7" y2="2002.7" stroke="#000" stroke-width="2" />
<text x="1832" y="2011.9" font-size="26" text-anchor="end">0.5</text>
<text x="1832" y="2119.9" font-size="26" text-anchor="end">0</text>
<line x1="1883.1" y1="2110.7" x2="1883.1" y2="2125.7" stroke="#000" stroke-width="2" />
<line x1="1953.5" y1="2110.7" x2="1953.5" y2="2125.7" stroke="#000" stroke-width="2" />
<g fill="#808080"><circle cx="1869.5" cy="2104.5" r="4.6"/><circle cx="1883.5" cy="2105" r="4.6"/><circle cx="1897.5" cy="2104.5" r="4.6"/><circle cx="1869.5" cy="2112" r="4.6"/><circle cx="1876.5" cy="2114" r="4.6"/><circle cx="1883.5" cy="2114" r="4.6"/><circle cx="1890.5" cy="2114" r="4.6"/><circle cx="1897.5" cy="2112" r="4.6"/></g>
<g fill="#1db42c"><circle cx="1959.9" cy="2105.27" r="4.6"/><circle cx="1947.1" cy="2102.4" r="4.6"/><circle cx="1972.7" cy="2099.68" r="4.6"/><circle cx="1934.3" cy="2098.15" r="4.6"/><circle cx="1959.9" cy="2096.62" r="4.6"/><circle cx="1940.7" cy="2095.09" r="4.6"/><circle cx="1966.3" cy="2093.56" r="4.6"/><circle cx="1953.5" cy="2092.03" r="4.6"/><circle cx="1934.3" cy="2090.64" r="4.6"/><circle cx="1972.7" cy="2089.44" r="4.6"/><circle cx="1947.1" cy="2088.25" r="4.6"/><circle cx="1959.9" cy="2087.05" r="4.6"/><circle cx="1940.7" cy="2085.85" r="4.6"/><circle cx="1966.3" cy="2084.65" r="4.6"/><circle cx="1953.5" cy="2083.45" r="4.6"/><circle cx="1934.3" cy="2082.26" r="4.6"/><circle cx="1972.7" cy="2081.06" r="4.6"/><circle cx="1947.1" cy="2079.86" r="4.6"/><circle cx="1959.9" cy="2078.66" r="4.6"/><circle cx="1966.3" cy="2077.46" r="4.6"/><circle cx="1940.7" cy="2076.27" r="4.6"/><circle cx="1953.5" cy="2075.07" r="4.6"/><circle cx="1934.3" cy="2073.87" r="4.6"/><circle cx="1972.7" cy="2072.76" r="4.6"/><circle cx="1947.1" cy="2071.66" r="4.6"/><circle cx="1959.9" cy="2070.56" r="4.6"/><circle cx="1940.7" cy="2069.46" r="4.6"/><circle cx="1953.5" cy="2068.35" r="4.6"/><circle cx="1966.3" cy="2067.25" r="4.6"/><circle cx="1934.3" cy="2066.15" r="4.6"/><circle cx="1947.1" cy="2065.05" r="4.6"/><circle cx="1972.7" cy="2063.95" r="4.6"/><circle cx="1959.9" cy="2062.84" r="4.6"/><circle cx="1940.7" cy="2061.74" r="4.6"/><circle cx="1966.3" cy="2060.64" r="4.6"/><circle cx="1953.5" cy="2059.54" r="4.6"/><circle cx="1934.3" cy="2058.43" r="4.6"/><circle cx="1947.1" cy="2057.33" r="4.6"/><circle cx="1972.7" cy="2056.2" r="4.6"/><circle cx="1959.9" cy="2054.96" r="4.6"/><circle cx="1940.7" cy="2053.72" r="4.6"/><circle cx="1966.3" cy="2052.48" r="4.6"/><circle cx="1953.5" cy="2051.24" r="4.6"/><circle cx="1934.3" cy="2050" r="4.6"/><circle cx="1972.7" cy="2048.76" r="4.6"/><circle cx="1947.1" cy="2047.52" r="4.6"/><circle cx="1959.9" cy="2046.28" r="4.6"/><circle cx="1966.3" cy="2045.04" r="4.6"/><circle cx="1940.7" cy="2043.8" r="4.6"/><circle cx="1953.5" cy="2042.56" r="4.6"/><circle cx="1972.7" cy="2041.32" r="4.6"/><circle cx="1934.3" cy="2040.08" r="4.6"/><circle cx="1959.9" cy="2038.84" r="4.6"/><circle cx="1947.1" cy="2037.6" r="4.6"/><circle cx="1953.5" cy="2035.93" r="4.6"/><circle cx="1966.3" cy="2033.74" r="4.6"/><circle cx="1940.7" cy="2031.55" r="4.6"/><circle cx="1972.7" cy="2029.36" r="4.6"/><circle cx="1953.5" cy="2027.17" r="4.6"/><circle cx="1934.3" cy="2024.97" r="4.6"/><circle cx="1966.3" cy="2022.78" r="4.6"/><circle cx="1947.1" cy="2020.39" r="4.6"/><circle cx="1972.7" cy="2017.8" r="4.6"/><circle cx="1959.9" cy="2015.22" r="4.6"/><circle cx="1953.5" cy="1865.49" r="4.6"/><circle cx="1953.5" cy="1929.5" r="4.6"/><circle cx="1967.5" cy="1926.25" r="4.6"/><circle cx="1953.5" cy="1977.24" r="4.6"/><circle cx="1953.5" cy="2004.37" r="4.6"/><circle cx="1967.5" cy="2003.28" r="4.6"/><circle cx="1946.5" cy="2011.96" r="4.6"/><circle cx="1960.5" cy="2011.96" r="4.6"/></g>
<line x1="1860" y1="2105" x2="1907.8" y2="2105" stroke="#000" stroke-width="2" />
<line x1="1929.2" y1="2058" x2="1976.8" y2="2058" stroke="#000" stroke-width="2" /><line x1="1953" y1="2053.4" x2="1953" y2="2062.6" stroke="#000" stroke-width="2" /><line x1="1941.5" y1="2053.4" x2="1964.5" y2="2053.4" stroke="#000" stroke-width="2" /><line x1="1941.5" y1="2062.6" x2="1964.5" y2="2062.6" stroke="#000" stroke-width="2" />
<path d="M1884.3 1854.9 V1847.9 H1953.5 V1854.9" stroke="#000" stroke-width="2" fill="none" />
<text x="1852.4" y="1840.7" font-size="24.4"><tspan font-style="italic">P</tspan> = 5.80×10<tspan font-size="14.64" dy="-9.27">-19</tspan></text>
<text transform="translate(1740 1955) rotate(-90)" font-size="31.4" text-anchor="middle">Cell-to-Cell Distance</text>
<text transform="translate(1780 1951) rotate(-90)" font-size="31.4" text-anchor="middle">(<tspan font-family="DejaVu Sans, sans-serif" font-size="27">μ</tspan>m)</text>
<text x="1713.2" y="2155.4" font-size="30.3">TRIM40</text>
<text x="1883.7" y="2149.5" font-size="26" text-anchor="middle">-</text>
<text x="1953.5" y="2150" font-size="26" text-anchor="middle">+</text>
<text x="1839" y="2171.7" font-size="24.6">(<tspan font-style="italic">n</tspan> = 69)</text>
<text x="1927.5" y="2171.7" font-size="24.6">(<tspan font-style="italic">n</tspan> = 88)</text>
</g>
</svg>
</body>
</html>
